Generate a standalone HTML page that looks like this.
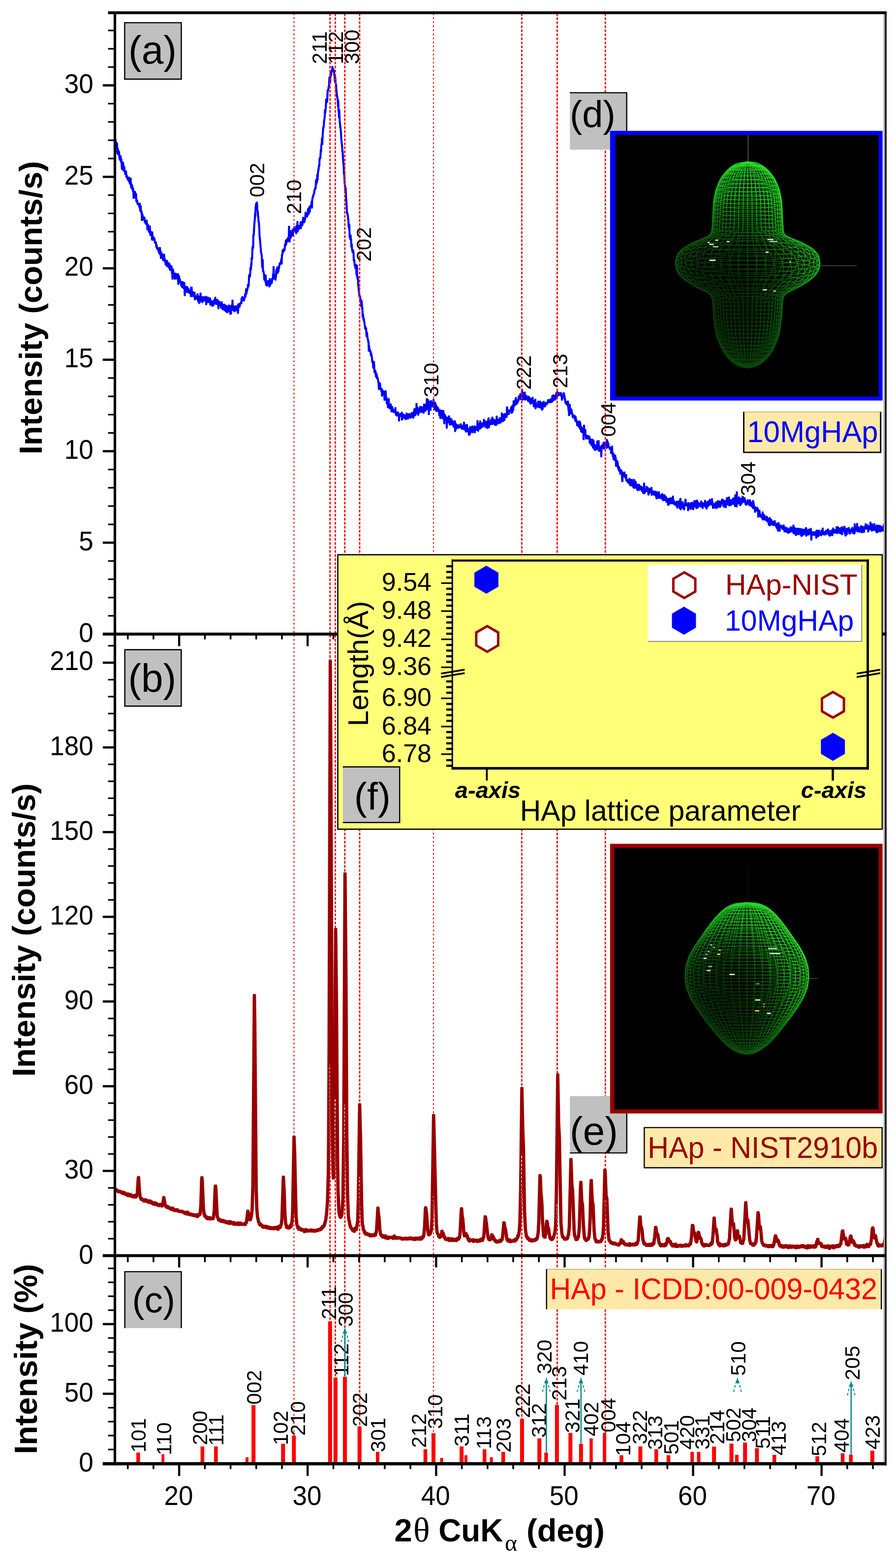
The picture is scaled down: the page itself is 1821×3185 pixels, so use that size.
<!DOCTYPE html>
<html lang="en">
<head>
<meta charset="utf-8">
<title>XRD patterns of 10MgHAp and HAp</title>
<style>
html,body{margin:0;padding:0;background:#fff;}
body{width:1821px;height:3185px;overflow:hidden;}
svg{display:block;}
text{font-family:'Liberation Sans', sans-serif;}
</style>
</head>
<body>
<svg width="1821" height="3185" viewBox="0 0 1821 3185">
<rect x="0" y="0" width="1821" height="3185" fill="#ffffff"/>
<defs><clipPath id="clip-a"><rect x="233.5" y="26" width="1565.5" height="1262"/></clipPath><clipPath id="clip-b"><rect x="233.5" y="1288" width="1565.5" height="1262.5"/></clipPath></defs>
<defs><polyline id="pa" points="233.5,278 234,290.7 234.5,283.2 235,287.5 235.5,290.2 236,289.5 236.5,288.8 237,299.1 237.5,299.6 238,291.6 238.5,311.3 239,307.2 239.5,301.7 240,313.8 240.5,306.3 241,309.7 241.5,314.9 242,308 242.5,317.4 243,322.6 243.5,323.9 244,318.8 244.5,325.6 245,316.6 245.5,324.5 246,328.7 246.5,322.7 247,329.5 247.5,338.6 248,343.8 248.5,337.4 249,338.9 249.5,329.1 250,332.8 250.5,333.2 251,344.6 251.5,347.5 252,339.9 252.5,338.7 253,346.2 253.5,347.6 254,347 254.5,354 255,349.5 255.5,350.8 256,347.7 256.5,354.1 257,360.4 257.5,356.2 258,357.4 258.5,360.1 259,360.7 259.5,364.9 260,364.2 260.5,365.7 261,361 261.5,366.8 262,360 262.5,369.1 263,363.8 263.5,370 264,373.5 264.5,371 265,374.4 265.5,362.1 266,372.8 266.5,380.5 267,373.9 267.5,382.7 268,375.3 268.5,378.6 269,379 269.5,384.8 270,388.2 270.5,382.7 271,387.6 271.5,402.6 272,389.5 272.5,388.6 273,394.8 273.5,393.5 274,392.7 274.5,389.4 275,401.6 275.5,397 276,400.7 276.5,393.5 277,408.7 277.5,407.7 278,409.9 278.5,406.6 279,410.4 279.5,413.4 280,415.3 280.5,413.6 281,413.3 281.5,413.4 282,413 282.5,413.4 283,420.3 283.5,419 284,413 284.5,422 285,428.4 285.5,424.1 286,418.7 286.5,427.3 287,432.4 287.5,431.2 288,429.8 288.5,447.6 289,442.1 289.5,435 290,440 290.5,439.5 291,442.3 291.5,446.3 292,444.9 292.5,443 293,441.1 293.5,441.7 294,446.2 294.5,452.3 295,449.9 295.5,450.1 296,452.2 296.5,452.4 297,455.8 297.5,450 298,447.6 298.5,455.3 299,453.5 299.5,466.3 300,460.1 300.5,460.9 301,456.6 301.5,465.4 302,462.8 302.5,471.2 303,471.1 303.5,465.4 304,471.4 304.5,459.3 305,468.9 305.5,477.9 306,477 306.5,475.4 307,475.5 307.5,470.7 308,471.9 308.5,479.6 309,487.1 309.5,471.5 310,484.3 310.5,487.4 311,487.6 311.5,481 312,483.4 312.5,486.8 313,483.3 313.5,483.5 314,485.9 314.5,490 315,493.2 315.5,492.5 316,493.9 316.5,491.7 317,492.6 317.5,501.3 318,497.4 318.5,498.3 319,503.5 319.5,505.8 320,506.9 320.5,504.3 321,503.4 321.5,505.8 322,506.4 322.5,512.5 323,508.8 323.5,511.3 324,509.5 324.5,516.4 325,503 325.5,514.2 326,516.8 326.5,509.7 327,524.6 327.5,516 328,516.9 328.5,514 329,523.2 329.5,521.3 330,516.5 330.5,523 331,525.7 331.5,528.7 332,525.3 332.5,521 333,523.4 333.5,516.8 334,524.1 334.5,531 335,530.5 335.5,528.8 336,527.3 336.5,537.4 337,532.6 337.5,535.9 338,534.5 338.5,530.7 339,540.8 339.5,529.7 340,530.6 340.5,534.5 341,534 341.5,535.4 342,535.9 342.5,543.3 343,540.1 343.5,542 344,534.6 344.5,538.4 345,547.2 345.5,538.3 346,549 346.5,540.4 347,546.7 347.5,542.6 348,547.6 348.5,540.3 349,547.1 349.5,555.9 350,548 350.5,566.6 351,549.1 351.5,546.8 352,552.7 352.5,551.4 353,561.2 353.5,558.1 354,560.1 354.5,558.5 355,566.9 355.5,560.6 356,560.2 356.5,555.2 357,555.5 357.5,560.8 358,564.9 358.5,566.1 359,558.2 359.5,565.1 360,564.4 360.5,559.5 361,567.1 361.5,556.1 362,567.5 362.5,577.4 363,559.6 363.5,568.6 364,561.2 364.5,566.7 365,573.7 365.5,566.9 366,571.8 366.5,571.2 367,571.8 367.5,574.9 368,576.8 368.5,580.6 369,579.7 369.5,574.5 370,583.5 370.5,583.4 371,572.3 371.5,582.2 372,583.5 372.5,584.7 373,585.6 373.5,576.3 374,581.2 374.5,574.2 375,582.7 375.5,600.1 376,587.4 376.5,588.6 377,583.4 377.5,581.9 378,582.2 378.5,587.8 379,584.4 379.5,585.7 380,593.7 380.5,582.6 381,584.5 381.5,588.4 382,590.7 382.5,591.1 383,586.3 383.5,593.5 384,592.7 384.5,595.2 385,589.6 385.5,595.6 386,595.9 386.5,592.6 387,594.8 387.5,593.7 388,602.1 388.5,583.7 389,591 389.5,583.9 390,596.2 390.5,595.3 391,596.8 391.5,601.9 392,592.4 392.5,596 393,598.1 393.5,595.2 394,602.2 394.5,602.3 395,598.3 395.5,594.2 396,608.7 396.5,604.3 397,604.4 397.5,603.3 398,603.2 398.5,607 399,603.6 399.5,601.2 400,607 400.5,604.4 401,601 401.5,597.2 402,609.4 402.5,607.2 403,613 403.5,602.6 404,601.8 404.5,606.7 405,616.1 405.5,607.7 406,607.1 406.5,613.3 407,602.4 407.5,595.7 408,602.6 408.5,604.5 409,607.5 409.5,610.3 410,607.8 410.5,612.6 411,602.9 411.5,614.5 412,603.2 412.5,611.7 413,603 413.5,608.5 414,607.5 414.5,609.6 415,610.8 415.5,607 416,607.8 416.5,609.3 417,603 417.5,605.6 418,602 418.5,609.1 419,618.6 419.5,612.6 420,606 420.5,606.9 421,614.1 421.5,608.2 422,603.7 422.5,606.3 423,606.4 423.5,606.7 424,614.1 424.5,611.7 425,605.3 425.5,609.5 426,607.1 426.5,606.9 427,605.8 427.5,619.5 428,611 428.5,614.8 429,616.1 429.5,610.9 430,614.8 430.5,614.9 431,613.7 431.5,621.9 432,614.1 432.5,612 433,615.7 433.5,620.6 434,617.3 434.5,611.2 435,609.7 435.5,609.5 436,610.7 436.5,615.1 437,617.1 437.5,604.1 438,613.7 438.5,609.2 439,616.9 439.5,618 440,611.1 440.5,612.7 441,610.9 441.5,616.8 442,608.7 442.5,611 443,613.2 443.5,621.6 444,626.8 444.5,617.2 445,612.2 445.5,618.1 446,614.4 446.5,620.3 447,614.1 447.5,617.5 448,619.3 448.5,621.9 449,619.7 449.5,625.7 450,621.2 450.5,613.4 451,625.2 451.5,620.5 452,619.2 452.5,628.6 453,618.4 453.5,623.2 454,620.1 454.5,629 455,620.7 455.5,624.8 456,618.2 456.5,630.2 457,619.9 457.5,628.4 458,629.5 458.5,630.2 459,632.9 459.5,620.5 460,627.3 460.5,626.4 461,627.8 461.5,635 462,626.9 462.5,623.2 463,626.4 463.5,633.5 464,622.3 464.5,627.8 465,619.8 465.5,632.5 466,621.1 466.5,626.7 467,627.2 467.5,628.8 468,638.2 468.5,634.8 469,623.9 469.5,637.2 470,623 470.5,620.1 471,621.6 471.5,629.4 472,629.9 472.5,609.9 473,629.3 473.5,626.2 474,630.2 474.5,625.5 475,630.8 475.5,629.3 476,621.9 476.5,632.8 477,627.5 477.5,629.6 478,631.7 478.5,622.2 479,625.9 479.5,622.6 480,621.9 480.5,626.7 481,626.7 481.5,630.5 482,630.2 482.5,623.8 483,619.9 483.5,636.2 484,631.2 484.5,621.1 485,617.1 485.5,618.6 486,621 486.5,623.9 487,622.6 487.5,619.8 488,616.3 488.5,617.5 489,614.9 489.5,615.9 490,614.5 490.5,616.6 491,605.8 491.5,610.4 492,611.3 492.5,602.9 493,610.6 493.5,606.2 494,607.1 494.5,607.8 495,607.1 495.5,604.8 496,610.8 496.5,605.9 497,605.3 497.5,603.8 498,598.8 498.5,596.8 499,602.8 499.5,596.7 500,589.5 500.5,586.6 501,596.4 501.5,590.2 502,591.4 502.5,587.6 503,586.3 503.5,585.1 504,578.2 504.5,580.7 505,582.2 505.5,578 506,564.7 506.5,558.4 507,560.2 507.5,561.4 508,562.3 508.5,556.2 509,543.4 509.5,546.8 510,548.2 510.5,535.1 511,539.8 511.5,523.7 512,525.9 512.5,525.1 513,503.9 513.5,501.8 514,499.3 514.5,503.9 515,476.3 515.5,479.5 516,471.8 516.5,462.2 517,454 517.5,448.8 518,443.4 518.5,432.9 519,438.5 519.5,420.9 520,418.6 520.5,413.9 521,412.6 521.5,413.9 522,410.9 522.5,415 523,426.7 523.5,428.8 524,429.4 524.5,441 525,440.5 525.5,451.1 526,450.6 526.5,458.1 527,465.5 527.5,480.5 528,482.4 528.5,489.8 529,493.9 529.5,500.4 530,506 530.5,512.6 531,515.1 531.5,515.4 532,520.5 532.5,533.3 533,543.7 533.5,539.1 534,527.8 534.5,551.4 535,549.7 535.5,551 536,554.7 536.5,555.7 537,567 537.5,568.7 538,558.9 538.5,564.1 539,568.8 539.5,573.2 540,559.1 540.5,574.7 541,579.3 541.5,572.1 542,574.1 542.5,580.5 543,578.8 543.5,570.7 544,571.6 544.5,572.2 545,570.4 545.5,576 546,573.6 546.5,575.6 547,578.1 547.5,582.4 548,575.4 548.5,566.3 549,579.6 549.5,572.8 550,577.7 550.5,570.3 551,572.9 551.5,570.4 552,570.2 552.5,575 553,566.1 553.5,568.9 554,568.4 554.5,565.2 555,556.8 555.5,566.9 556,541.9 556.5,557.7 557,559.6 557.5,564.4 558,565.5 558.5,564.7 559,563 559.5,558.3 560,568.7 560.5,557.3 561,562.4 561.5,547.6 562,552.1 562.5,552.7 563,554.1 563.5,542.8 564,555 564.5,554.3 565,551.8 565.5,544.7 566,551.2 566.5,541 567,545.3 567.5,539.4 568,537.8 568.5,534.8 569,534.2 569.5,537.2 570,536.8 570.5,535 571,531 571.5,528.2 572,525.5 572.5,535.9 573,518.3 573.5,515.9 574,517.1 574.5,508.3 575,512.7 575.5,511.9 576,506.3 576.5,506.7 577,510.6 577.5,505.2 578,505 578.5,507.5 579,499.1 579.5,495.3 580,498.5 580.5,498.9 581,488 581.5,496.9 582,491.3 582.5,489.4 583,486.1 583.5,487.6 584,491.1 584.5,488.1 585,488.3 585.5,482.3 586,489.7 586.5,487.6 587,481.4 587.5,459.8 588,480.4 588.5,491.1 589,478.6 589.5,473.9 590,484.7 590.5,474.3 591,478.3 591.5,481.6 592,468.7 592.5,474.7 593,478.5 593.5,471.5 594,475 594.5,471.3 595,479.1 595.5,478 596,465 596.5,467.9 597,471.7 597.5,465.4 598,461 598.5,465.8 599,465.7 599.5,463.7 600,467.6 600.5,469.2 601,468.7 601.5,468 602,474.4 602.5,458.8 603,463.7 603.5,464.7 604,465.7 604.5,450.3 605,470.8 605.5,458.8 606,463.3 606.5,465 607,466.1 607.5,458.3 608,458.6 608.5,462 609,462.4 609.5,463.3 610,458.6 610.5,455.3 611,452 611.5,464.2 612,450.3 612.5,458.3 613,455.8 613.5,457.1 614,457.1 614.5,458 615,451.3 615.5,452.5 616,441.9 616.5,449.5 617,444.7 617.5,447.2 618,452.2 618.5,446.7 619,450.1 619.5,443.8 620,445.5 620.5,441.2 621,431.4 621.5,438.2 622,439.1 622.5,439.9 623,438.3 623.5,436.7 624,440.3 624.5,437.9 625,432.6 625.5,437 626,424 626.5,430.1 627,429.6 627.5,434.6 628,425.6 628.5,420.4 629,425.9 629.5,430.7 630,421.1 630.5,419.9 631,417.6 631.5,416.9 632,420.3 632.5,421.2 633,413.1 633.5,408.8 634,422.3 634.5,406 635,404 635.5,400.4 636,398.7 636.5,399.1 637,395 637.5,396 638,392.7 638.5,392.7 639,386.8 639.5,385.5 640,385.4 640.5,382.6 641,380.6 641.5,382.9 642,371.1 642.5,365 643,373.6 643.5,366 644,370.8 644.5,361.8 645,354.3 645.5,365.4 646,354.9 646.5,348.1 647,343.5 647.5,345.6 648,336.7 648.5,337.4 649,336.7 649.5,321.9 650,320.7 650.5,321.2 651,321.8 651.5,314.4 652,304.3 652.5,308 653,296.1 653.5,292.6 654,290.6 654.5,280.2 655,293.4 655.5,281.1 656,272.6 656.5,264.8 657,257.8 657.5,259.6 658,256.4 658.5,247.2 659,243.4 659.5,242.1 660,235 660.5,223.2 661,229.5 661.5,223.5 662,221.4 662.5,211.1 663,201.4 663.5,201.2 664,204 664.5,207.8 665,205.4 665.5,193.3 666,182.5 666.5,183.9 667,183.9 667.5,180.6 668,176 668.5,178.1 669,165.7 669.5,157.4 670,160 670.5,156.1 671,167.7 671.5,155.1 672,147.4 672.5,153.7 673,153 673.5,146.6 674,144.9 674.5,146.1 675,141.8 675.5,135.3 676,140 676.5,141.4 677,139.5 677.5,143 678,143.8 678.5,142.9 679,146.6 679.5,153.4 680,152.2 680.5,163 681,167.1 681.5,157.2 682,169.3 682.5,170.3 683,172.3 683.5,182.5 684,184.6 684.5,191.7 685,194.8 685.5,199 686,198.3 686.5,204.4 687,216.4 687.5,204.4 688,226.7 688.5,222 689,238.6 689.5,223.4 690,237.7 690.5,248.4 691,250.9 691.5,260 692,257.7 692.5,264.7 693,270.1 693.5,280.8 694,286.6 694.5,290.2 695,294.7 695.5,301.8 696,309.5 696.5,307.8 697,321.4 697.5,327.3 698,332 698.5,338.3 699,353.3 699.5,351 700,361.8 700.5,372.4 701,376.3 701.5,379.9 702,390.7 702.5,381.6 703,394.1 703.5,403.7 704,410.3 704.5,416.3 705,430 705.5,434.3 706,431.8 706.5,437.7 707,437.3 707.5,446.9 708,444.4 708.5,460.2 709,456.3 709.5,464.9 710,456.1 710.5,481.4 711,476.5 711.5,485.8 712,481.3 712.5,477.5 713,484.4 713.5,485.8 714,501.1 714.5,495.3 715,498 715.5,506.9 716,508.6 716.5,512.6 717,511.3 717.5,507.9 718,513.3 718.5,512.4 719,529.5 719.5,530.5 720,527.6 720.5,534.3 721,539.6 721.5,539.4 722,541.5 722.5,545.5 723,544.7 723.5,537.7 724,538.2 724.5,558.2 725,558.5 725.5,539.2 726,563.4 726.5,562.5 727,567.6 727.5,562.8 728,580.7 728.5,580.9 729,588.5 729.5,593.2 730,597.6 730.5,602.6 731,600.2 731.5,603.1 732,602.6 732.5,610.5 733,609.3 733.5,609 734,621.8 734.5,622.6 735,611.1 735.5,617.3 736,627.1 736.5,625.1 737,643.4 737.5,637.2 738,641.6 738.5,646 739,650.5 739.5,646.5 740,653 740.5,654.2 741,659.2 741.5,660.9 742,667.3 742.5,666.2 743,664.5 743.5,669.6 744,666.9 744.5,675.7 745,683.3 745.5,677 746,675.2 746.5,684.4 747,685.2 747.5,690 748,690.1 748.5,695.5 749,693.5 749.5,712.9 750,701.9 750.5,707.5 751,711 751.5,709.5 752,714.3 752.5,712.7 753,713.2 753.5,717.8 754,722.8 754.5,717.4 755,720.9 755.5,723.4 756,726.4 756.5,735.7 757,732.7 757.5,733.5 758,737.4 758.5,747.4 759,737.6 759.5,747.1 760,734.9 760.5,743 761,754.8 761.5,757 762,753 762.5,752.1 763,759 763.5,755.4 764,765.2 764.5,765.1 765,764.9 765.5,759.6 766,768.7 766.5,765.1 767,766.7 767.5,767.4 768,770.1 768.5,774.2 769,777.2 769.5,778.7 770,791 770.5,776.7 771,784.6 771.5,778.4 772,781.8 772.5,779.2 773,790.7 773.5,789.2 774,788.8 774.5,789 775,794.6 775.5,789.7 776,796.4 776.5,804.5 777,794.3 777.5,793.3 778,792.7 778.5,801.4 779,799.2 779.5,796.8 780,797.5 780.5,802.1 781,795.3 781.5,812.8 782,804.2 782.5,805.2 783,806.6 783.5,793.8 784,797.7 784.5,808.5 785,810.9 785.5,806.8 786,820.2 786.5,816 787,820.5 787.5,820.9 788,815.9 788.5,828 789,819 789.5,811.3 790,810.1 790.5,820.7 791,825 791.5,822.3 792,829.9 792.5,822 793,826.3 793.5,827.6 794,820.8 794.5,827.1 795,828 795.5,836.2 796,832.9 796.5,832.6 797,825.8 797.5,832.8 798,834.8 798.5,831.1 799,834.8 799.5,835.5 800,837.9 800.5,833.8 801,836.2 801.5,835.6 802,836.2 802.5,833.3 803,834.9 803.5,828.1 804,836.4 804.5,840.5 805,843.2 805.5,841.4 806,838.1 806.5,844.7 807,837.3 807.5,842.7 808,841.6 808.5,837 809,837.5 809.5,843.9 810,841.2 810.5,842.5 811,854.6 811.5,844.4 812,842.8 812.5,845.7 813,840.4 813.5,842.1 814,845.4 814.5,840.5 815,844.1 815.5,843.7 816,845.3 816.5,837.7 817,852.9 817.5,845.4 818,848.3 818.5,841.9 819,841 819.5,846.7 820,845.4 820.5,849.5 821,842.9 821.5,842.6 822,848.1 822.5,849.6 823,850.5 823.5,846.4 824,847.6 824.5,843.1 825,851.9 825.5,851 826,850.8 826.5,839.4 827,849.8 827.5,842.9 828,848 828.5,847.7 829,850.9 829.5,844.5 830,844.2 830.5,841.4 831,840.6 831.5,847.9 832,841.6 832.5,848.1 833,843.7 833.5,842.8 834,849.2 834.5,848.6 835,840.7 835.5,844 836,844.5 836.5,847.1 837,838.4 837.5,841.9 838,842.9 838.5,845.9 839,846.3 839.5,840 840,849.2 840.5,843.3 841,837.8 841.5,834.2 842,838.3 842.5,830 843,840.4 843.5,841.6 844,844.2 844.5,840.6 845,830.9 845.5,836.5 846,840.3 846.5,819.9 847,833.2 847.5,838.9 848,836.1 848.5,827.1 849,833 849.5,834.8 850,843.1 850.5,832.2 851,829.8 851.5,834.3 852,834.3 852.5,834.9 853,838.2 853.5,831.6 854,825.8 854.5,831.3 855,831.2 855.5,834.6 856,833.7 856.5,826.7 857,832.7 857.5,837.3 858,828 858.5,832.4 859,828.8 859.5,828.6 860,826.9 860.5,830.5 861,838.8 861.5,827.4 862,821.2 862.5,824.8 863,823 863.5,826.5 864,824.3 864.5,835.2 865,827.5 865.5,831.9 866,820.9 866.5,822.8 867,832.1 867.5,810.2 868,823.8 868.5,816.5 869,829.3 869.5,811.6 870,821.2 870.5,821.6 871,815.1 871.5,841.9 872,821.1 872.5,828.6 873,818.6 873.5,815.2 874,822.1 874.5,821.8 875,833.1 875.5,816.3 876,814.1 876.5,817.7 877,822 877.5,825.5 878,817.9 878.5,819.8 879,823.9 879.5,826.6 880,819.9 880.5,823.4 881,811.6 881.5,819.6 882,825.9 882.5,824.4 883,824.1 883.5,832.1 884,824.5 884.5,817.5 885,827.4 885.5,827.8 886,822.6 886.5,832 887,835.4 887.5,826.1 888,825.4 888.5,829.2 889,835.2 889.5,828.1 890,828 890.5,829.1 891,833.2 891.5,833.7 892,832.2 892.5,839.1 893,844.1 893.5,832.8 894,840.3 894.5,837.7 895,849.8 895.5,834.1 896,837 896.5,839.5 897,833.7 897.5,839.4 898,843.9 898.5,835.5 899,842.7 899.5,850.3 900,840.9 900.5,840.3 901,834 901.5,844.9 902,839.1 902.5,848.9 903,860.5 903.5,850.2 904,842.3 904.5,851.8 905,847.6 905.5,845.4 906,848.5 906.5,852 907,849.9 907.5,854 908,869.4 908.5,855 909,858.9 909.5,847.9 910,859 910.5,855.1 911,858.2 911.5,851 912,855.5 912.5,845 913,853.6 913.5,851.9 914,851.5 914.5,863.3 915,849.9 915.5,856 916,856.3 916.5,859.5 917,861.8 917.5,851.1 918,855.9 918.5,855.5 919,861.7 919.5,863 920,857.6 920.5,857.3 921,855.7 921.5,861.8 922,867.5 922.5,862.4 923,858.2 923.5,857.9 924,858.7 924.5,855.1 925,876.2 925.5,862.9 926,860.2 926.5,872.5 927,864.3 927.5,869.8 928,864.9 928.5,868.6 929,864.5 929.5,862.9 930,866.3 930.5,867.8 931,869.6 931.5,866 932,863.4 932.5,864 933,867.1 933.5,863.9 934,864.8 934.5,868.7 935,869 935.5,868.9 936,863.8 936.5,861.1 937,868.5 937.5,868 938,866.2 938.5,868.8 939,871.7 939.5,867.5 940,870.2 940.5,864.6 941,868 941.5,865.7 942,863.3 942.5,871.4 943,857.8 943.5,869.7 944,873.4 944.5,872 945,864 945.5,872.7 946,863.2 946.5,867.3 947,877.2 947.5,871.9 948,876.3 948.5,866.8 949,862.7 949.5,868.3 950,876.8 950.5,875.3 951,875.9 951.5,870.8 952,871 952.5,870.6 953,883.6 953.5,871.8 954,878.8 954.5,870.7 955,882.5 955.5,866.9 956,869.3 956.5,872.9 957,869 957.5,869.7 958,870.8 958.5,869.2 959,878 959.5,876.2 960,865.6 960.5,878.7 961,871.3 961.5,871.3 962,870.8 962.5,875.1 963,874.3 963.5,869 964,871.3 964.5,865.5 965,878.6 965.5,867 966,866.6 966.5,867.1 967,870.4 967.5,872.8 968,867.9 968.5,869.2 969,867.4 969.5,874.1 970,869.3 970.5,854.7 971,874.1 971.5,870.4 972,875.5 972.5,864.6 973,864.8 973.5,865.9 974,860.5 974.5,864.6 975,871.2 975.5,868.6 976,855.3 976.5,870.6 977,866.4 977.5,868.1 978,864.6 978.5,865 979,864.2 979.5,864 980,859.2 980.5,867.8 981,864.1 981.5,864.7 982,864.4 982.5,860.5 983,862.3 983.5,852 984,863.5 984.5,863.5 985,860.4 985.5,854.8 986,867.5 986.5,861.1 987,861.6 987.5,860.2 988,858.9 988.5,859.6 989,856.5 989.5,858.6 990,869.6 990.5,865.8 991,869.1 991.5,857.9 992,852.5 992.5,854.6 993,849.1 993.5,868.9 994,865.1 994.5,860.3 995,861.3 995.5,861.1 996,858.9 996.5,862.4 997,854.9 997.5,857.1 998,858.2 998.5,851.6 999,854.3 999.5,862 1000,859.7 1000.5,847.7 1001,861.8 1001.5,859.3 1002,860.9 1002.5,857.2 1003,859.8 1003.5,851.8 1004,855.5 1004.5,852.4 1005,854.6 1005.5,861.5 1006,863.3 1006.5,856.7 1007,854.3 1007.5,859.3 1008,857.8 1008.5,863.8 1009,858.2 1009.5,845.6 1010,855.5 1010.5,852.7 1011,851.6 1011.5,855.4 1012,854.9 1012.5,853 1013,860.7 1013.5,855.8 1014,855.7 1014.5,854.6 1015,858.9 1015.5,848.9 1016,858.5 1016.5,852.2 1017,859.1 1017.5,858.6 1018,854.4 1018.5,850 1019,852.7 1019.5,852.6 1020,839.2 1020.5,848.9 1021,846.9 1021.5,855.1 1022,856.1 1022.5,845.5 1023,845.9 1023.5,842.1 1024,848.3 1024.5,850.2 1025,853.9 1025.5,840.5 1026,849.4 1026.5,844.4 1027,841.6 1027.5,842.7 1028,840.5 1028.5,845.1 1029,842.8 1029.5,847.4 1030,839.7 1030.5,826.8 1031,836.9 1031.5,842.1 1032,834 1032.5,836.6 1033,841.4 1033.5,832.9 1034,841.6 1034.5,838.9 1035,834.4 1035.5,836 1036,833.4 1036.5,833.1 1037,832.7 1037.5,833.4 1038,832.2 1038.5,828.8 1039,827.1 1039.5,839.1 1040,825.1 1040.5,828.4 1041,837.9 1041.5,831.7 1042,823.8 1042.5,834.5 1043,832.8 1043.5,823.4 1044,814.3 1044.5,825.9 1045,821.8 1045.5,820.6 1046,814.8 1046.5,817.9 1047,820.4 1047.5,822.8 1048,809.7 1048.5,807.8 1049,821.2 1049.5,813 1050,818.8 1050.5,815.8 1051,819.9 1051.5,817.9 1052,812.4 1052.5,812.3 1053,815 1053.5,814.9 1054,808.6 1054.5,804.3 1055,810.5 1055.5,809.2 1056,808.2 1056.5,804.1 1057,810.2 1057.5,799.9 1058,804.5 1058.5,811.4 1059,800.8 1059.5,806.8 1060,806.6 1060.5,806.2 1061,791 1061.5,812.3 1062,804.8 1062.5,806.4 1063,805.8 1063.5,805 1064,810 1064.5,811.1 1065,797.5 1065.5,802.3 1066,805 1066.5,796.8 1067,812.3 1067.5,803.1 1068,811.1 1068.5,807.7 1069,806.1 1069.5,803 1070,805.9 1070.5,808.1 1071,811.3 1071.5,807.4 1072,807 1072.5,807.9 1073,814.8 1073.5,810.9 1074,807.2 1074.5,805.1 1075,809.1 1075.5,807.4 1076,809.8 1076.5,817.6 1077,815.2 1077.5,813.6 1078,814.7 1078.5,820.6 1079,809 1079.5,816 1080,813 1080.5,815.5 1081,815.6 1081.5,814.3 1082,818.3 1082.5,807.3 1083,818 1083.5,820 1084,813.5 1084.5,813.8 1085,826.2 1085.5,814.9 1086,817.4 1086.5,816 1087,814.8 1087.5,817 1088,811.2 1088.5,830.2 1089,817.4 1089.5,822.2 1090,820.4 1090.5,826.4 1091,823.8 1091.5,825.8 1092,826.1 1092.5,824.8 1093,821.6 1093.5,825.4 1094,815 1094.5,825.5 1095,827.6 1095.5,823.3 1096,816.6 1096.5,827.9 1097,819.6 1097.5,825.2 1098,815 1098.5,822.1 1099,820.2 1099.5,819.8 1100,820.4 1100.5,830.7 1101,823.3 1101.5,825 1102,832.6 1102.5,817.7 1103,830.1 1103.5,822.1 1104,821 1104.5,821.7 1105,815.7 1105.5,816.6 1106,818 1106.5,820.1 1107,825.1 1107.5,826.3 1108,818.7 1108.5,822.7 1109,822.7 1109.5,819.6 1110,821.2 1110.5,817.5 1111,821.9 1111.5,818.4 1112,819.1 1112.5,819.7 1113,819 1113.5,815 1114,812.1 1114.5,817.1 1115,812.7 1115.5,814.6 1116,816 1116.5,813.2 1117,817.7 1117.5,817.2 1118,811.5 1118.5,816.4 1119,810.6 1119.5,817.2 1120,816.5 1120.5,813.5 1121,816.8 1121.5,817 1122,814.2 1122.5,804.2 1123,812 1123.5,811.9 1124,814 1124.5,802.4 1125,812.7 1125.5,810.8 1126,810.6 1126.5,803.3 1127,804.4 1127.5,812.3 1128,810.6 1128.5,806.4 1129,810.9 1129.5,807 1130,803.7 1130.5,798.4 1131,808.8 1131.5,803.6 1132,805.6 1132.5,795.8 1133,800.7 1133.5,803.8 1134,801.3 1134.5,799.1 1135,797.4 1135.5,802.9 1136,800.5 1136.5,799.5 1137,801.1 1137.5,799.8 1138,801.3 1138.5,800.3 1139,803.3 1139.5,797.6 1140,798.9 1140.5,803.8 1141,802.6 1141.5,804.7 1142,812.7 1142.5,807.6 1143,809.4 1143.5,806.7 1144,804.9 1144.5,802.5 1145,798.6 1145.5,801.1 1146,798 1146.5,803.9 1147,802.9 1147.5,806.4 1148,811.4 1148.5,810.7 1149,817.1 1149.5,818.2 1150,819.7 1150.5,820 1151,818.5 1151.5,816.3 1152,821.3 1152.5,819.4 1153,820.6 1153.5,824.1 1154,814.8 1154.5,817.6 1155,826.8 1155.5,833.8 1156,832 1156.5,844 1157,823.5 1157.5,827.6 1158,821.6 1158.5,828.5 1159,840.9 1159.5,840.6 1160,830.5 1160.5,834.3 1161,833.1 1161.5,831.8 1162,837.2 1162.5,837.8 1163,840.7 1163.5,842 1164,847.3 1164.5,848.3 1165,843.2 1165.5,843.5 1166,845.3 1166.5,848 1167,846.5 1167.5,843.8 1168,846.6 1168.5,852.7 1169,846.2 1169.5,854.8 1170,846.5 1170.5,855.7 1171,856.5 1171.5,853.2 1172,855.7 1172.5,855.7 1173,864.5 1173.5,856.5 1174,856.1 1174.5,861.5 1175,865.3 1175.5,862.9 1176,861.6 1176.5,867.2 1177,860.6 1177.5,861.2 1178,855.5 1178.5,871 1179,857.5 1179.5,862.1 1180,869.3 1180.5,870.7 1181,876.9 1181.5,872.2 1182,867.3 1182.5,877.7 1183,877.1 1183.5,878.3 1184,878.6 1184.5,879 1185,869.7 1185.5,872.1 1186,892.7 1186.5,878.3 1187,864.2 1187.5,879.7 1188,884.2 1188.5,882.6 1189,881.7 1189.5,872.8 1190,883.4 1190.5,883.3 1191,891.5 1191.5,885.3 1192,885.8 1192.5,884.8 1193,886.8 1193.5,889.2 1194,886.6 1194.5,885.8 1195,885 1195.5,891.3 1196,890 1196.5,890.8 1197,886.5 1197.5,890.2 1198,886.4 1198.5,898.9 1199,900.5 1199.5,898 1200,896.5 1200.5,899.6 1201,892.2 1201.5,893.5 1202,904.6 1202.5,896.1 1203,900.9 1203.5,899 1204,892.3 1204.5,900.3 1205,907.2 1205.5,909.9 1206,894.5 1206.5,899 1207,903.6 1207.5,910.6 1208,911.9 1208.5,913.8 1209,914.5 1209.5,906 1210,903.9 1210.5,912.1 1211,907.4 1211.5,908.9 1212,907.5 1212.5,907.6 1213,913.3 1213.5,905.5 1214,896.1 1214.5,907.3 1215,910.9 1215.5,909.4 1216,910.4 1216.5,895.4 1217,907.8 1217.5,916.1 1218,911 1218.5,906.3 1219,916.4 1219.5,909.3 1220,914.6 1220.5,912.1 1221,912.6 1221.5,914.8 1222,927.7 1222.5,914.9 1223,905.6 1223.5,904.1 1224,906.9 1224.5,907.1 1225,910.3 1225.5,907.1 1226,907.9 1226.5,898.9 1227,905.4 1227.5,907.4 1228,911.8 1228.5,907.6 1229,904.2 1229.5,898.5 1230,902.9 1230.5,902.5 1231,901.5 1231.5,902.7 1232,903.4 1232.5,903 1233,910.4 1233.5,893.2 1234,894.8 1234.5,903.4 1235,897.1 1235.5,902 1236,903.4 1236.5,901.1 1237,908.6 1237.5,908.8 1238,907.9 1238.5,910.3 1239,912.2 1239.5,908.1 1240,912.7 1240.5,911.6 1241,911.8 1241.5,910.7 1242,920.8 1242.5,915.7 1243,909.4 1243.5,918.4 1244,906.7 1244.5,919.6 1245,922.8 1245.5,926.8 1246,923 1246.5,920.5 1247,932.9 1247.5,930.4 1248,932.8 1248.5,927.7 1249,934.9 1249.5,924 1250,934.7 1250.5,925.2 1251,931.1 1251.5,930.6 1252,946.8 1252.5,943.2 1253,938.2 1253.5,947.2 1254,943.6 1254.5,936.3 1255,944.2 1255.5,939.8 1256,948.4 1256.5,951.8 1257,947.1 1257.5,954.5 1258,956.3 1258.5,949 1259,955.8 1259.5,953.8 1260,953.8 1260.5,962.8 1261,953.5 1261.5,955.7 1262,957.7 1262.5,961.1 1263,962.7 1263.5,956.3 1264,966.7 1264.5,976.1 1265,978.2 1265.5,963.9 1266,961.8 1266.5,960.2 1267,966.9 1267.5,965.9 1268,966.7 1268.5,965.1 1269,959.2 1269.5,968 1270,969.2 1270.5,969.2 1271,965.5 1271.5,971 1272,972.1 1272.5,964.1 1273,976.6 1273.5,974.2 1274,975.3 1274.5,976.8 1275,974.4 1275.5,975.4 1276,980.1 1276.5,979.5 1277,980.4 1277.5,976.2 1278,980.5 1278.5,982.3 1279,971.9 1279.5,976.4 1280,978.3 1280.5,978.7 1281,986.5 1281.5,984.3 1282,979 1282.5,979.4 1283,974.3 1283.5,976.3 1284,986.4 1284.5,973.8 1285,984 1285.5,978.7 1286,980.7 1286.5,981.8 1287,990.2 1287.5,984.3 1288,985.3 1288.5,987.7 1289,974.4 1289.5,991.9 1290,977.3 1290.5,981.6 1291,987.8 1291.5,980.1 1292,978.2 1292.5,990.7 1293,983.5 1293.5,990.4 1294,988.7 1294.5,986.2 1295,994.4 1295.5,986.4 1296,996.2 1296.5,984.2 1297,984 1297.5,985.6 1298,989.6 1298.5,984.1 1299,986.2 1299.5,995.4 1300,990.3 1300.5,994.6 1301,991.5 1301.5,987.7 1302,987.2 1302.5,991.4 1303,991.2 1303.5,988.9 1304,989 1304.5,997.6 1305,996.1 1305.5,993.2 1306,990.7 1306.5,990.6 1307,1001 1307.5,990.3 1308,1002.7 1308.5,990.5 1309,981.6 1309.5,1002.1 1310,993.4 1310.5,1000.5 1311,996.2 1311.5,993.5 1312,998.7 1312.5,993.7 1313,997 1313.5,994.8 1314,988.2 1314.5,997.5 1315,993.8 1315.5,995.6 1316,998.2 1316.5,990.7 1317,999.1 1317.5,999.5 1318,1005.4 1318.5,1001 1319,999.2 1319.5,995.2 1320,998 1320.5,992.5 1321,1000.3 1321.5,998 1322,997.5 1322.5,999.3 1323,1001.3 1323.5,1000.7 1324,990.4 1324.5,1005.7 1325,1000.5 1325.5,1002 1326,1000.8 1326.5,997.1 1327,1002.4 1327.5,999.9 1328,998.3 1328.5,1002.6 1329,1005.4 1329.5,1005.1 1330,1003.6 1330.5,1000.5 1331,1000.6 1331.5,1002.4 1332,997.8 1332.5,1007.4 1333,1004.7 1333.5,999.2 1334,1011 1334.5,1013.1 1335,999.9 1335.5,1004.8 1336,1002.3 1336.5,1009.2 1337,1000.6 1337.5,1008.6 1338,1008.4 1338.5,1011.6 1339,999.4 1339.5,1004.3 1340,1006.9 1340.5,1012 1341,1008.6 1341.5,1011.6 1342,1010.6 1342.5,1005.3 1343,1008.8 1343.5,1007.8 1344,1008.4 1344.5,1006.2 1345,1013.4 1345.5,1012.7 1346,1002.8 1346.5,1014 1347,1008.9 1347.5,1005.3 1348,1016.7 1348.5,1011.9 1349,1013.7 1349.5,1011.9 1350,1012.5 1350.5,1005.4 1351,1016.3 1351.5,1007.5 1352,1013.7 1352.5,1013.5 1353,1010 1353.5,1009.1 1354,1013.8 1354.5,1019.9 1355,1012.1 1355.5,1012.4 1356,1015.5 1356.5,1012.8 1357,1020.9 1357.5,1017.5 1358,1026.2 1358.5,1016.8 1359,1025.3 1359.5,1013.8 1360,1017.4 1360.5,1012.2 1361,1015.1 1361.5,1015.6 1362,1019.6 1362.5,1022.9 1363,1016.3 1363.5,1011.5 1364,1017.7 1364.5,1016.5 1365,1016 1365.5,1021.8 1366,1023.1 1366.5,1015.7 1367,1015.8 1367.5,1008.1 1368,1016.4 1368.5,1022.7 1369,1015.5 1369.5,1023.3 1370,1022.5 1370.5,1022.5 1371,1025.2 1371.5,1019.9 1372,1024.7 1372.5,1025 1373,1022.2 1373.5,1020.7 1374,1026.5 1374.5,1027.5 1375,1018.7 1375.5,1025 1376,1021.9 1376.5,1031.7 1377,1020.7 1377.5,1019.6 1378,1018.5 1378.5,1026.3 1379,1018.3 1379.5,1025.5 1380,1020.8 1380.5,1028.8 1381,1029.9 1381.5,1032.7 1382,1015.5 1382.5,1017.7 1383,1012.6 1383.5,1035.1 1384,1021.7 1384.5,1022.6 1385,1024.7 1385.5,1027.1 1386,1023.3 1386.5,1025 1387,1024.8 1387.5,1019.4 1388,1032.5 1388.5,1032.2 1389,1025 1389.5,1024.4 1390,1032.8 1390.5,1035.2 1391,1025.2 1391.5,1027.6 1392,1023.3 1392.5,1026.5 1393,1014.4 1393.5,1015.7 1394,1027 1394.5,1024.4 1395,1026.9 1395.5,1025.5 1396,1027.8 1396.5,1026.3 1397,1024.6 1397.5,1027.1 1398,1022.6 1398.5,1036.9 1399,1021.3 1399.5,1023.7 1400,1032.9 1400.5,1023.9 1401,1029.5 1401.5,1031.6 1402,1028.8 1402.5,1023.7 1403,1033.6 1403.5,1027.5 1404,1021.6 1404.5,1034.1 1405,1027.5 1405.5,1028.3 1406,1029.5 1406.5,1023.6 1407,1029.6 1407.5,1020.6 1408,1021.7 1408.5,1024.2 1409,1035 1409.5,1028.4 1410,1030.8 1410.5,1024.1 1411,1028.2 1411.5,1017.1 1412,1024.9 1412.5,1027.9 1413,1023.7 1413.5,1017.7 1414,1019.2 1414.5,1028.8 1415,1031.8 1415.5,1024.6 1416,1032.9 1416.5,1016.2 1417,1028.8 1417.5,1029 1418,1030.6 1418.5,1019.8 1419,1030.4 1419.5,1026.6 1420,1022.5 1420.5,1024.1 1421,1025.1 1421.5,1027.2 1422,1022.4 1422.5,1022.3 1423,1026.2 1423.5,1025.7 1424,1027.9 1424.5,1029.5 1425,1017.9 1425.5,1025.3 1426,1026.6 1426.5,1025.7 1427,1021 1427.5,1028.5 1428,1032.6 1428.5,1024.6 1429,1022 1429.5,1028.6 1430,1025.3 1430.5,1025.7 1431,1026.1 1431.5,1023.2 1432,1025 1432.5,1022 1433,1016.7 1433.5,1029.4 1434,1026.2 1434.5,1024.6 1435,1030.6 1435.5,1024.2 1436,1033.9 1436.5,1028.3 1437,1023.5 1437.5,1019.4 1438,1026.7 1438.5,1025.6 1439,1028.9 1439.5,1018.1 1440,1024.1 1440.5,1025.5 1441,1026 1441.5,1025.5 1442,1025.8 1442.5,1014.6 1443,1023.1 1443.5,1021.5 1444,1017.8 1444.5,1024.8 1445,1022.6 1445.5,1019.3 1446,1018.3 1446.5,1025.5 1447,1013.4 1447.5,1023.7 1448,1019.3 1448.5,1024.6 1449,1032.1 1449.5,1028.3 1450,1023.5 1450.5,1030.3 1451,1031.8 1451.5,1028 1452,1031.6 1452.5,1024.7 1453,1026.4 1453.5,1023.3 1454,1022 1454.5,1023.8 1455,1020.1 1455.5,1023 1456,1032.7 1456.5,1026.3 1457,1022.4 1457.5,1030.4 1458,1029.2 1458.5,1018.4 1459,1017.4 1459.5,1030.2 1460,1023.2 1460.5,1023.5 1461,1018.5 1461.5,1017.9 1462,1027.4 1462.5,1019 1463,1026.8 1463.5,1030.2 1464,1024.5 1464.5,1021.2 1465,1027.3 1465.5,1024.4 1466,1018.3 1466.5,1023 1467,1016.6 1467.5,1014.3 1468,1019.3 1468.5,1014.1 1469,1018.8 1469.5,1020.9 1470,1022.1 1470.5,1029.2 1471,1017.2 1471.5,1019.2 1472,1019.1 1472.5,1016.7 1473,1029.5 1473.5,1017.5 1474,1019.7 1474.5,1019.2 1475,1031 1475.5,1019.2 1476,1017.1 1476.5,1025.6 1477,1017.5 1477.5,1011.2 1478,1025 1478.5,1024 1479,1013.9 1479.5,1014.6 1480,1019.7 1480.5,1015.6 1481,1013.2 1481.5,1009.8 1482,1027.1 1482.5,1024 1483,1014.8 1483.5,1018.6 1484,1020 1484.5,1017.7 1485,1018.9 1485.5,1026.5 1486,1016.2 1486.5,1015.6 1487,1018.7 1487.5,1015.9 1488,1016.9 1488.5,1016.9 1489,1014.4 1489.5,1023.9 1490,1013 1490.5,1024.3 1491,1011.4 1491.5,1014.6 1492,1019.6 1492.5,1017.3 1493,1022.1 1493.5,1021.3 1494,1028.3 1494.5,1005.6 1495,1013.8 1495.5,1018.1 1496,1017.3 1496.5,1018 1497,1029.3 1497.5,999.4 1498,1021 1498.5,1017.1 1499,1018.1 1499.5,1022.7 1500,1017.7 1500.5,1021.4 1501,1023.5 1501.5,1023 1502,1009.8 1502.5,1012.2 1503,1012.1 1503.5,1014.3 1504,1016.8 1504.5,1026.6 1505,1014.8 1505.5,1016.3 1506,1016.8 1506.5,1024 1507,1012.6 1507.5,1019.4 1508,1021 1508.5,1019.9 1509,1008.7 1509.5,1011.8 1510,1020.4 1510.5,1009.9 1511,1016.7 1511.5,1011.2 1512,1019.6 1512.5,1017.8 1513,1011.4 1513.5,1017.2 1514,1013.8 1514.5,1016.2 1515,1024.2 1515.5,1020.1 1516,1020.5 1516.5,1025.8 1517,1019.8 1517.5,1025.1 1518,1021.3 1518.5,1020.9 1519,1018.4 1519.5,1016.5 1520,1015.8 1520.5,1016.4 1521,1022.8 1521.5,1022.4 1522,1017.2 1522.5,1026.3 1523,1018.4 1523.5,1019.6 1524,1015.5 1524.5,1018 1525,1025.6 1525.5,1024.1 1526,1019.8 1526.5,1028.2 1527,1023.1 1527.5,1024.2 1528,1028.9 1528.5,1026.9 1529,1024.1 1529.5,1021.5 1530,1032.2 1530.5,1017.1 1531,1025.1 1531.5,1020.8 1532,1026.4 1532.5,1033.1 1533,1028.6 1533.5,1028.8 1534,1030.9 1534.5,1040.1 1535,1038.2 1535.5,1033.8 1536,1030.7 1536.5,1032.3 1537,1036.9 1537.5,1034.1 1538,1035.2 1538.5,1031.8 1539,1031 1539.5,1032.7 1540,1039 1540.5,1034.6 1541,1049.9 1541.5,1042 1542,1042.9 1542.5,1044.9 1543,1036.7 1543.5,1036.6 1544,1041.1 1544.5,1045 1545,1045.3 1545.5,1050.3 1546,1049.7 1546.5,1048.7 1547,1049.5 1547.5,1046.2 1548,1049.2 1548.5,1044.8 1549,1044.6 1549.5,1054.5 1550,1040.2 1550.5,1053.6 1551,1056 1551.5,1046.5 1552,1052.2 1552.5,1050.1 1553,1045.7 1553.5,1051.8 1554,1052.9 1554.5,1055.4 1555,1050.1 1555.5,1052.5 1556,1049.7 1556.5,1057 1557,1052.7 1557.5,1057.2 1558,1048.8 1558.5,1054.8 1559,1050.9 1559.5,1052 1560,1060.2 1560.5,1055.2 1561,1055.9 1561.5,1059.8 1562,1053.7 1562.5,1065.7 1563,1054.5 1563.5,1056.5 1564,1067.7 1564.5,1051.5 1565,1066.6 1565.5,1061.1 1566,1061.9 1566.5,1055.6 1567,1061 1567.5,1055.2 1568,1065.1 1568.5,1059.5 1569,1058.7 1569.5,1059.7 1570,1061.4 1570.5,1066.5 1571,1064.2 1571.5,1059.7 1572,1059.5 1572.5,1059.1 1573,1067.2 1573.5,1066.1 1574,1059.7 1574.5,1057.8 1575,1064.7 1575.5,1062.8 1576,1067.7 1576.5,1065.3 1577,1067.7 1577.5,1069.8 1578,1071.1 1578.5,1066.1 1579,1073.1 1579.5,1065.1 1580,1062.8 1580.5,1069.1 1581,1078.2 1581.5,1074.7 1582,1068.7 1582.5,1062 1583,1070.9 1583.5,1068.8 1584,1072.6 1584.5,1078.8 1585,1068.5 1585.5,1067.5 1586,1069 1586.5,1068 1587,1066.8 1587.5,1072 1588,1068.2 1588.5,1070.2 1589,1070.2 1589.5,1069.2 1590,1074.4 1590.5,1070.1 1591,1071.8 1591.5,1075.7 1592,1071.9 1592.5,1066.5 1593,1070.8 1593.5,1070.9 1594,1075.7 1594.5,1080.2 1595,1074.2 1595.5,1073 1596,1079.8 1596.5,1070.9 1597,1075.3 1597.5,1076.2 1598,1074.1 1598.5,1073.7 1599,1075.4 1599.5,1081.1 1600,1077.3 1600.5,1072.6 1601,1076.5 1601.5,1079.5 1602,1083 1602.5,1079.1 1603,1076.7 1603.5,1081.8 1604,1079.9 1604.5,1077 1605,1073.7 1605.5,1077 1606,1080.8 1606.5,1072.5 1607,1070.5 1607.5,1079.4 1608,1071 1608.5,1072.2 1609,1076.9 1609.5,1076.9 1610,1078.3 1610.5,1078.9 1611,1080.5 1611.5,1078 1612,1075.1 1612.5,1066.9 1613,1084 1613.5,1082.1 1614,1081.5 1614.5,1078.9 1615,1071.8 1615.5,1081.1 1616,1078.8 1616.5,1073.5 1617,1087.1 1617.5,1073.3 1618,1077.5 1618.5,1086.7 1619,1076 1619.5,1080.1 1620,1083.9 1620.5,1079.5 1621,1073.6 1621.5,1077.5 1622,1079.4 1622.5,1073.4 1623,1085.7 1623.5,1081.1 1624,1082.8 1624.5,1081 1625,1081.5 1625.5,1078.4 1626,1073.8 1626.5,1082.8 1627,1080.2 1627.5,1086.7 1628,1075.3 1628.5,1080.9 1629,1089.3 1629.5,1074.7 1630,1075.4 1630.5,1081.3 1631,1087.5 1631.5,1075.5 1632,1080.8 1632.5,1079.8 1633,1078.3 1633.5,1079.6 1634,1085.8 1634.5,1081.3 1635,1075.3 1635.5,1078.2 1636,1081.3 1636.5,1075 1637,1078.1 1637.5,1079.3 1638,1072.2 1638.5,1088.8 1639,1074.4 1639.5,1081.2 1640,1080.5 1640.5,1078.7 1641,1086.4 1641.5,1081.6 1642,1077.9 1642.5,1086.4 1643,1083.8 1643.5,1077.2 1644,1075.2 1644.5,1085.4 1645,1080.1 1645.5,1075.6 1646,1084.1 1646.5,1075.8 1647,1079 1647.5,1078.5 1648,1073.7 1648.5,1084.9 1649,1096.8 1649.5,1084.9 1650,1083.9 1650.5,1081.2 1651,1082 1651.5,1083.5 1652,1087 1652.5,1080.4 1653,1082.7 1653.5,1081.7 1654,1084.9 1654.5,1086.5 1655,1087.2 1655.5,1080.7 1656,1080.6 1656.5,1085.5 1657,1081.5 1657.5,1081.7 1658,1084.5 1658.5,1084.1 1659,1092.9 1659.5,1077.4 1660,1087.2 1660.5,1080.5 1661,1085.3 1661.5,1077 1662,1081.2 1662.5,1079.8 1663,1089.9 1663.5,1078.4 1664,1087.2 1664.5,1079 1665,1077.6 1665.5,1083.6 1666,1086.7 1666.5,1082 1667,1084.8 1667.5,1083.2 1668,1081.9 1668.5,1088 1669,1082.2 1669.5,1085.8 1670,1077.2 1670.5,1080.5 1671,1086 1671.5,1080.1 1672,1073 1672.5,1085.2 1673,1084.4 1673.5,1080.8 1674,1082.4 1674.5,1080.5 1675,1083.5 1675.5,1086.5 1676,1083.2 1676.5,1081.5 1677,1079.8 1677.5,1081.1 1678,1079.6 1678.5,1085.8 1679,1077.3 1679.5,1079.2 1680,1083.1 1680.5,1083.1 1681,1082.7 1681.5,1079.8 1682,1082.4 1682.5,1075.5 1683,1075 1683.5,1076 1684,1082.9 1684.5,1087 1685,1079.4 1685.5,1078.8 1686,1079.9 1686.5,1088.7 1687,1081.9 1687.5,1081.4 1688,1078.5 1688.5,1082.9 1689,1086.2 1689.5,1081.5 1690,1077.2 1690.5,1086.1 1691,1080.4 1691.5,1087.9 1692,1075.9 1692.5,1079.7 1693,1081.3 1693.5,1072.8 1694,1080.5 1694.5,1082.6 1695,1079.4 1695.5,1081.7 1696,1080.5 1696.5,1076.2 1697,1082.7 1697.5,1076.4 1698,1078.2 1698.5,1076.3 1699,1082 1699.5,1077.3 1700,1077.2 1700.5,1070.1 1701,1077.9 1701.5,1083.1 1702,1070.1 1702.5,1080.3 1703,1078.6 1703.5,1071.4 1704,1075.3 1704.5,1082.5 1705,1078.4 1705.5,1079.8 1706,1082.9 1706.5,1076.9 1707,1081.8 1707.5,1072.9 1708,1074.4 1708.5,1084 1709,1083.6 1709.5,1081.7 1710,1071.5 1710.5,1076.8 1711,1070.7 1711.5,1085.6 1712,1071.9 1712.5,1072.1 1713,1074.9 1713.5,1078.7 1714,1074.8 1714.5,1075.9 1715,1078.4 1715.5,1077.2 1716,1069.2 1716.5,1071.7 1717,1083.8 1717.5,1077.1 1718,1084.4 1718.5,1088.5 1719,1081.4 1719.5,1077 1720,1083.1 1720.5,1073.3 1721,1086 1721.5,1079.1 1722,1079.1 1722.5,1073.8 1723,1074.2 1723.5,1075.5 1724,1074.3 1724.5,1072.8 1725,1071.9 1725.5,1078.3 1726,1081.3 1726.5,1084.5 1727,1079.5 1727.5,1075.8 1728,1078.8 1728.5,1083.3 1729,1076.8 1729.5,1080.4 1730,1077.7 1730.5,1076.7 1731,1073.7 1731.5,1079 1732,1072.5 1732.5,1071.8 1733,1077.3 1733.5,1079.9 1734,1083.6 1734.5,1079.3 1735,1074.4 1735.5,1075.1 1736,1080.3 1736.5,1084.1 1737,1064.3 1737.5,1080.5 1738,1076.3 1738.5,1075.1 1739,1072.3 1739.5,1072.6 1740,1070.2 1740.5,1076.3 1741,1071.1 1741.5,1074.3 1742,1063.6 1742.5,1079.9 1743,1077.7 1743.5,1070 1744,1076.7 1744.5,1073.1 1745,1071.1 1745.5,1074.9 1746,1078.1 1746.5,1080.8 1747,1075.6 1747.5,1079.3 1748,1077.2 1748.5,1077.2 1749,1078.4 1749.5,1068.6 1750,1072.6 1750.5,1080.4 1751,1068.5 1751.5,1070.6 1752,1081.9 1752.5,1069.7 1753,1074.4 1753.5,1075 1754,1072.6 1754.5,1077.6 1755,1077.3 1755.5,1070.7 1756,1080.9 1756.5,1070.1 1757,1071.6 1757.5,1072.9 1758,1074.3 1758.5,1068.8 1759,1074.4 1759.5,1064.1 1760,1071.2 1760.5,1069.5 1761,1070.2 1761.5,1072.5 1762,1074.1 1762.5,1069.9 1763,1073.1 1763.5,1066.7 1764,1071.4 1764.5,1080.2 1765,1070 1765.5,1071.6 1766,1072.7 1766.5,1076.2 1767,1074.3 1767.5,1072.1 1768,1068.6 1768.5,1073.7 1769,1060.8 1769.5,1074.4 1770,1069.6 1770.5,1075.3 1771,1072.4 1771.5,1078.2 1772,1069.9 1772.5,1064.4 1773,1072.7 1773.5,1070.5 1774,1072.1 1774.5,1077.4 1775,1068.7 1775.5,1075.2 1776,1076.1 1776.5,1076.9 1777,1064.2 1777.5,1073 1778,1069.5 1778.5,1071.4 1779,1069 1779.5,1071 1780,1076.2 1780.5,1079.4 1781,1075.2 1781.5,1067.2 1782,1081.9 1782.5,1067.2 1783,1070.7 1783.5,1080.9 1784,1069.8 1784.5,1075.2 1785,1071.1 1785.5,1067.4 1786,1073.1 1786.5,1070 1787,1079.4 1787.5,1079.7 1788,1078.6 1788.5,1067.9 1789,1079.9 1789.5,1073.4 1790,1074.2 1790.5,1072.9 1791,1069.8 1791.5,1072.6 1792,1075.7 1792.5,1078.4 1793,1074.4 1793.5,1072 1794,1070 1794.5,1070.7 1795,1078.7 1795.5,1074.8 1796,1072.9 1796.5,1065.1 1797,1064.6 1797.5,1074.7 1798,1074.5 1798.5,1076.5 1799,1072.7" fill="none" stroke-width="2.7" stroke-linejoin="round"/></defs>
<g id="curve-a" clip-path="url(#clip-a)" stroke="#0000ff"><use href="#pa" transform="translate(-0.7 0)"/><use href="#pa" transform="translate(0.7 0)"/></g>
<g id="reflines-a" stroke="#ff0000" fill="none">
<line x1="597.4" y1="27" x2="597.4" y2="1288" stroke-width="2.2" stroke-dasharray="3.4 4.8" stroke-dashoffset="0"/>
<line x1="670.8" y1="27" x2="670.8" y2="1288" stroke-width="2.8" stroke-dasharray="5.2 3" stroke-dashoffset="0"/>
<line x1="681.5" y1="27" x2="681.5" y2="1288" stroke-width="2.8" stroke-dasharray="5.2 3" stroke-dashoffset="0"/>
<line x1="700.8" y1="27" x2="700.8" y2="1288" stroke-width="2.8" stroke-dasharray="5.2 3" stroke-dashoffset="0"/>
<line x1="730.9" y1="27" x2="730.9" y2="1288" stroke-width="2.8" stroke-dasharray="5.2 3" stroke-dashoffset="0"/>
<line x1="881" y1="27" x2="881" y2="1288" stroke-width="2.2" stroke-dasharray="3.4 4.8" stroke-dashoffset="0"/>
<line x1="1060.4" y1="27" x2="1060.4" y2="1288" stroke-width="2.8" stroke-dasharray="5.2 3" stroke-dashoffset="0"/>
<line x1="1132.4" y1="27" x2="1132.4" y2="1288" stroke-width="2.8" stroke-dasharray="5.2 3" stroke-dashoffset="0"/>
<line x1="1230.3" y1="27" x2="1230.3" y2="1288" stroke-width="2.8" stroke-dasharray="5.2 3" stroke-dashoffset="0"/>
</g>
<g id="reflines-bc" stroke="#ff0000" fill="none">
<line x1="597.4" y1="1288" x2="597.4" y2="2971" stroke-width="2.2" stroke-dasharray="3.4 4.8" stroke-dashoffset="6.4"/>
<line x1="670.8" y1="1288" x2="670.8" y2="2971" stroke-width="2.8" stroke-dasharray="5.2 3" stroke-dashoffset="6.4"/>
<line x1="681.5" y1="1288" x2="681.5" y2="2971" stroke-width="2.8" stroke-dasharray="5.2 3" stroke-dashoffset="6.4"/>
<line x1="700.8" y1="1288" x2="700.8" y2="2971" stroke-width="2.8" stroke-dasharray="5.2 3" stroke-dashoffset="6.4"/>
<line x1="730.9" y1="1288" x2="730.9" y2="2971" stroke-width="2.8" stroke-dasharray="5.2 3" stroke-dashoffset="6.4"/>
<line x1="881" y1="1288" x2="881" y2="2971" stroke-width="2.2" stroke-dasharray="3.4 4.8" stroke-dashoffset="6.4"/>
<line x1="1060.4" y1="1288" x2="1060.4" y2="2971" stroke-width="2.8" stroke-dasharray="5.2 3" stroke-dashoffset="6.4"/>
<line x1="1132.4" y1="1288" x2="1132.4" y2="2971" stroke-width="2.8" stroke-dasharray="5.2 3" stroke-dashoffset="6.4"/>
<line x1="1230.3" y1="1288" x2="1230.3" y2="2971" stroke-width="2.8" stroke-dasharray="5.2 3" stroke-dashoffset="6.4"/>
</g>
<defs><polyline id="pb" points="233.2,2416.4 233.5,2418.3 234,2416.8 234.3,2418.2 234.6,2416.6 235.1,2417.7 235.5,2415.1 236,2419.1 236.3,2418.3 237,2418.6 237.4,2416.9 238.1,2419.9 238.2,2419.3 238.4,2420.1 238.8,2418.6 239.2,2420 239.8,2419.3 240.7,2421.8 240.9,2420.6 241.3,2421.5 241.5,2420.1 242.1,2421 242.4,2418.5 242.9,2421.4 243.4,2419.4 244.2,2421.6 244.9,2419.9 245.1,2421.5 245.6,2420.9 245.9,2422.8 246,2422.3 246.7,2423.2 247.3,2420.5 248.4,2424 249,2421.8 249.8,2423 250,2421.6 250.4,2425.4 251.1,2421.6 251.4,2422.4 251.8,2421.2 252,2423 252.8,2424.3 253.4,2422.8 255.1,2426.9 255.3,2426 255.6,2425.8 255.9,2426.4 256.4,2425.6 256.9,2427.7 257.5,2424.3 258,2428.1 258.3,2426.6 258.7,2427.4 259.5,2424.1 260.5,2429.5 260.9,2427.3 261.1,2428.1 261.6,2427 262.3,2428 262.8,2426.5 263.1,2427.7 263.4,2425.5 263.9,2428.4 264.4,2427 265,2430 265.9,2426 266.4,2430.1 266.9,2428.9 267,2430.1 267.2,2429.1 267.7,2430.4 267.8,2428.9 268.3,2428.8 268.9,2430.9 269.4,2428.2 269.7,2431.7 270.2,2430.3 270.5,2431.9 271,2428.7 271.4,2430.9 271.7,2431.5 272.1,2430.7 272.5,2432.2 273.5,2427.2 273.9,2430.7 274.1,2430.1 274.6,2431.8 274.7,2430.8 275.2,2432.1 275.5,2430.2 276,2432.3 276.6,2427.7 277.2,2430.7 278,2425.7 278.5,2426.1 278.9,2423.9 280.7,2394.6 281.5,2390.9 283,2415.7 284.4,2429.1 285.4,2433.9 285.8,2433.3 286.3,2435.1 286.5,2434.2 286.9,2436.5 287.2,2434.4 287.9,2436.1 288,2433.9 288.5,2437.7 288.8,2436.2 289.3,2438.2 290.2,2436 290.5,2437.1 291.2,2436.7 291.6,2438.5 292.4,2436.7 293.2,2440.8 293.7,2437.1 294.1,2439 294.6,2436 294.9,2439.1 295.9,2437.4 297,2439.8 297.4,2437.2 297.9,2438 298.2,2436.9 299.3,2441.7 299.8,2440.7 300.1,2441.8 300.6,2440.2 301.5,2441.5 301.7,2440.1 302.1,2443.1 302.6,2441.4 303.1,2443.1 303.5,2440.6 304.2,2442.5 304.6,2438.5 305,2441.5 305.3,2441.9 305.4,2441 305.7,2442.1 305.9,2441.3 306,2443.4 307,2440.7 307.3,2441.7 307.8,2440.6 308.4,2444.6 309.5,2442.8 310,2442.9 310.3,2444.9 311.2,2443.9 311.5,2446.6 312.2,2444.3 312.3,2445.5 312.9,2445.4 313.1,2446.2 313.9,2442 314.3,2447.3 314.8,2444 315,2444.5 315.4,2444 316.5,2447.6 317.2,2443.2 317.8,2444.3 318.1,2447.6 318.4,2447.8 319,2445.8 319.5,2446.7 320,2446.2 320.1,2447.4 320.8,2447.3 321.1,2446.3 321.4,2449.1 321.9,2449.5 322.8,2446.5 323.3,2447.4 323.7,2446.2 324.2,2450.1 324.8,2445.5 325.6,2449.4 326.3,2446.6 326.9,2449.5 327.8,2446.4 328.3,2449.7 328.9,2446.7 329.4,2450.6 329.9,2445.9 330.2,2447.8 330.6,2443.8 331,2444.1 332.7,2431.8 335.7,2447.9 336.1,2448.7 336.3,2448.1 336.8,2451.1 337.1,2449.6 337.2,2450.1 337.5,2449.6 337.8,2450.9 338.3,2451 338.5,2452.7 338.9,2451.1 339.4,2452.2 339.9,2449.5 340,2451.8 340.2,2450.6 340.5,2451.1 341.1,2454.2 341.8,2451 342.2,2453.1 342.7,2452.4 343.2,2454 343.6,2452.7 344,2455.1 344.6,2452.7 345.1,2453.9 345.4,2453.7 345.5,2455.3 346,2453.3 346.2,2454.7 346.6,2453.5 347.1,2456.3 347.7,2453.9 348.5,2457.7 349.4,2454.9 349.9,2456.5 350.2,2453 351,2457 351.3,2456 351.9,2458.6 352.4,2455.3 352.9,2458.1 353.2,2456.5 353.7,2458.8 354,2456.5 354.5,2457.7 354.6,2456.8 354.8,2457.5 355.1,2456.7 355.9,2460 356.8,2456.8 357.7,2459.9 358.1,2457.9 358.5,2459.3 358.8,2456.9 359.2,2458.4 359.5,2456.4 360.3,2458.2 360.4,2456.6 361.3,2460.8 361.8,2459.7 362.3,2460.2 362.8,2458.5 364.5,2461.5 365,2459.7 365.1,2461.2 365.4,2459.9 365.9,2460.7 366,2459.8 366.7,2462 367.1,2459.5 367.5,2460.7 367.6,2459.3 367.8,2460.2 368.4,2459.7 369,2462 369.5,2459.9 369.7,2461.9 370.1,2459.6 370.9,2461.7 371.2,2461.1 371.5,2463 372,2461.7 372.5,2463.5 373.1,2461.3 373.7,2464.3 374.5,2462.3 375,2464 375.6,2461.7 376.5,2465.5 377,2463.1 377.2,2465 377.3,2463.7 378,2466.6 378.6,2463 379.1,2464.8 379.2,2463.4 379.7,2465.1 380.5,2462.9 380.6,2463.7 380.9,2461.3 381.4,2466.9 381.6,2464.9 382.2,2467.2 382.7,2464 383.1,2467 383.6,2466 384.1,2466.7 384.2,2466.1 385.2,2467.4 385.6,2464.7 386.3,2468 386.7,2465.5 387,2467.2 387.5,2466 388.1,2468.4 388.6,2465.3 389.1,2468 389.5,2465.8 390.5,2468.6 391.1,2467.3 391.4,2469 391.7,2468 392.2,2469.5 392.7,2466.2 393.1,2469.5 393.6,2467.1 394.1,2469.7 394.9,2467.3 395.7,2470.5 396,2468.9 396.3,2470.2 396.4,2468.7 396.6,2469.1 396.8,2468.5 396.9,2469.5 397.2,2467.5 397.5,2468.1 397.8,2467.8 398.2,2470.9 399.1,2466.8 399.6,2469.7 400.5,2466.7 401.3,2472 401.8,2467.2 402.2,2469.9 403,2468 403.8,2469.2 404,2467.5 404.3,2467.1 404.4,2467.6 404.6,2466.7 404.9,2467.9 405.2,2467.2 405.7,2468.1 406.2,2463.7 406.6,2465.6 406.9,2463.6 408.2,2445.5 409.6,2398.5 410.2,2391.2 411,2399.8 413.5,2459 413.8,2459.5 414,2458.8 414.8,2467.5 415.1,2465.8 415.2,2466.6 415.4,2465.8 415.7,2466.6 416,2471.1 417,2470.5 417.1,2471.6 417.7,2470.1 417.9,2471.1 418.4,2470.4 419.3,2474.8 419.9,2472.4 420.4,2475.4 421,2471.8 421.7,2475.2 422.3,2474 422.8,2476.6 423.5,2473.7 423.7,2475.1 424,2475.3 424.3,2474.1 425,2475.3 425.4,2475.1 425.9,2472.5 426.7,2476.9 427,2476.2 427.1,2476.9 427.9,2476 428.4,2474.5 429,2476.2 429.5,2474 430.1,2474.8 430.6,2474.3 430.7,2474.7 431.2,2473.8 431.7,2475.1 431.8,2474.1 432.3,2476.6 432.8,2472.7 432.9,2473.5 433.3,2471.9 433.7,2473.7 435.4,2456.8 437.2,2412.6 437.8,2408.3 438.6,2415.5 441.1,2467.2 442,2473.4 442.5,2473.1 442.8,2475.2 443.8,2475.5 444.2,2478.7 444.5,2475.1 445,2477.9 445.5,2477.6 445.9,2479.5 446.7,2476.9 447.2,2479.2 448,2480.8 448.1,2479.5 448.8,2481.6 448.9,2479.8 449.4,2480.5 449.9,2479.5 450,2479.8 450.5,2477.9 451.3,2481.6 452.1,2477.9 452.8,2482.2 453.3,2479.7 453.6,2481.5 454.1,2479 454.6,2482.3 454.9,2482.6 455.2,2480.5 455.5,2481.6 456,2480.8 456.4,2482.9 457.7,2479.8 458.2,2483.2 458.3,2480.8 459.3,2482.5 459.6,2480.5 460,2484.3 460.2,2482.3 460.4,2482.9 460.7,2482.7 461.3,2481.2 461.8,2483.4 462.4,2481.8 463,2484.6 463.5,2482.4 463.8,2482.2 464.1,2483.7 464.6,2480.7 465.1,2486 465.4,2482.7 465.8,2485.5 466.8,2482.5 467.3,2484.7 467.7,2480.5 468.7,2485.7 469.1,2483.2 469.3,2485 469.4,2483.7 470.1,2484.7 470.5,2483.1 471.9,2485.6 472.3,2483 472.6,2486 473,2483.8 474.3,2486.8 474.8,2482.3 475.6,2487.7 476,2485.5 476.8,2486.5 477.7,2483.7 479,2486.1 479.3,2484.3 479.8,2487.7 480.3,2485.3 480.4,2487.8 480.9,2484.5 481.2,2486.1 481.7,2485.5 482.3,2486.2 483.1,2485 483.2,2483.5 484.2,2487.4 484.6,2483.5 485,2484.1 485.1,2483.6 485.6,2488.2 486.4,2484.2 487,2487.8 487.3,2486.2 487.8,2487.2 488.4,2483.5 488.9,2486.6 489.5,2485.4 490.3,2487.4 490.7,2486.5 490.9,2487.5 491.4,2487 491.8,2487.9 492.2,2485.5 492.5,2486.8 492.9,2485.8 493.1,2487 493.6,2486.4 493.9,2487.4 494,2486.2 494.4,2487.7 495.1,2486.7 495.4,2488 496.4,2485.1 496.9,2486.7 497.2,2484.7 498.1,2488.2 498.6,2483.5 498.9,2484.8 499.7,2483.2 499.8,2485.1 500.3,2482.7 500.6,2483.9 503.6,2459.3 504.4,2463.5 505,2465.4 505.2,2464.6 507,2477.8 507.4,2477.3 508,2478.6 508.3,2477.1 508.6,2476.9 508.8,2477.6 510.5,2471.3 512.2,2458.3 513.8,2409 516.8,2021.3 517.7,2080.5 520.5,2415.1 521.8,2456 523.2,2471.5 524.4,2477.5 524.6,2476.6 525.2,2482.1 525.5,2481 526,2483.3 526.5,2484.1 526.6,2483.3 526.9,2483.7 527.4,2487.6 527.6,2486 528.2,2487 528.8,2485.5 529.1,2489.4 530.2,2486.5 530.5,2489 531,2488.9 531.2,2489.5 531.5,2488.9 531.6,2489.5 532.1,2487.9 532.6,2491 533,2489.1 533.5,2492 533.7,2490.7 534.1,2492.5 534.5,2490.5 534.8,2494 535.4,2490.3 535.9,2492.4 536.7,2490.6 537,2492.5 537.3,2493 537.9,2491.7 538.2,2493.4 539.2,2489.8 539.5,2491.2 539.8,2491.7 539.9,2491.1 541.5,2494.2 541.7,2492.8 541.8,2494.9 542.4,2491.2 542.9,2494 543.4,2490.8 544,2495 544.5,2493.1 545.1,2494.6 545.3,2493.4 545.6,2493.7 545.9,2495.7 546.4,2493.4 546.5,2494.8 547.3,2493.9 547.8,2494.6 548.4,2492.1 548.9,2494.4 549,2492.5 549.3,2493.8 549.8,2492.9 550.7,2496.5 551.2,2495.3 551.4,2495.9 552,2493.1 552.3,2494.3 552.8,2493.2 553.1,2495.1 553.6,2493.5 554,2494.5 554.2,2493.2 554.7,2494.4 555,2493.4 555.4,2496.5 556.7,2494.5 557,2496.9 557.8,2492.5 558.3,2496.2 558.6,2494.2 559.1,2495.7 559.8,2493.1 560,2495 560.5,2493.7 561.1,2496.2 561.4,2494.1 561.9,2494.7 562,2492.5 562.5,2494.3 563,2492 564.7,2497.9 565.3,2492.9 566.3,2494.7 566.7,2490.3 567.7,2494.3 568.1,2493.4 568.6,2494.1 569.1,2492.7 569.4,2493.9 570.2,2488.5 570.6,2490.1 571.7,2486 572.8,2476.5 575.8,2390.2 577.4,2419.5 578.8,2463.3 580.5,2485.8 581.1,2487.8 581.6,2487.6 582.1,2492.8 582.6,2490.9 583,2494.2 583.2,2493.6 583.5,2493.9 584,2491.2 584.6,2494.9 585.1,2492.5 585.7,2494.3 586,2492.4 586.5,2495.3 587.1,2492.9 587.7,2493.8 588.2,2491.8 588.8,2494.5 589.3,2489.7 589.8,2492 590.2,2488.2 591,2491.1 591.3,2490.5 591.6,2491.7 592.1,2485.5 592.6,2485.9 593.5,2480.2 594.6,2459.9 597.4,2308.7 598.7,2341.2 601.5,2467.8 602.9,2485.6 603.9,2490.6 604,2489.9 604.3,2491.4 604.8,2491.4 605.1,2494.3 605.6,2495.2 606.1,2494.6 606.5,2491.7 607.3,2497.9 607.9,2495.2 608.4,2497.9 608.7,2494.2 610,2497.3 610.4,2496.6 610.6,2497.3 610.9,2495.3 612,2499.4 613.1,2496.4 613.3,2497.1 613.7,2496.4 614,2498.7 614.2,2498.1 614.7,2499 615,2497.3 615.5,2497.6 615.6,2497.2 616.1,2499.4 616.7,2497.8 617.2,2498.6 617.6,2497.4 617.8,2499 618,2498.2 618.1,2499.4 618.3,2498.3 618.7,2502.7 619.2,2498.9 619.5,2500.5 620.3,2500.7 621.7,2496.7 622.2,2501.3 623,2498.2 623.3,2500.2 623.8,2499.8 624.1,2500.6 624.4,2499.8 624.9,2501.3 625,2499.9 625.3,2501.5 625.8,2498.1 626.4,2500.8 627.2,2499.2 627.8,2500.8 628.5,2499 629.1,2501.2 629.9,2498.4 630.3,2500.5 630.6,2499.8 631.3,2500.2 631.9,2497.6 632.7,2501.3 633.2,2498 633.3,2500.2 633.5,2498.9 633.6,2499.7 633.8,2499.1 633.9,2501.2 634.4,2498.5 634.7,2499.3 634.9,2498.3 635.3,2498.2 635.5,2498.8 635.7,2498 636.4,2501.1 637.1,2499.4 637.2,2500.7 637.4,2499.4 637.9,2501.2 638.2,2499 638.5,2502 638.9,2498.6 639.3,2500.4 640.2,2498.5 640.7,2501.3 641.1,2499.9 641.8,2500.8 641.9,2499.6 642.2,2500.9 643.2,2498.5 643.6,2500 644,2499 644.6,2500.9 645.1,2497.4 645.8,2499.8 646.8,2497.1 647.6,2499.2 648.5,2496.6 648.8,2497.6 649.1,2496.9 649.6,2499.1 650.5,2495.8 651.2,2498.5 651.6,2495.5 652,2497.9 652.4,2496.1 652.9,2496.9 653.4,2493.6 654.1,2495.2 654.6,2491.7 654.8,2492.9 655.2,2490.9 655.7,2494.3 656.7,2490 657.3,2491.8 657.7,2490.9 658.1,2491.3 658.7,2488 659.2,2489.1 659.5,2485.4 660.1,2485.2 660.3,2482.9 660.4,2482.2 660.7,2482.8 660.9,2482.4 662.1,2476.6 662.8,2469.4 663.4,2467.7 665.6,2438.3 667,2386.1 667.6,2334.7 668.7,2127.3 671.1,1342 672.6,1610.8 674.8,2209.7 675.6,2319.9 676.7,2381.8 677.3,2393.8 678.1,2388.9 679.2,2331 682,1886.9 683.8,2046.4 685.8,2344.4 686.9,2420.2 688.5,2457.5 689.2,2465.1 691,2472.2 691.4,2471.2 692.2,2473.8 692.5,2471.9 692.8,2472.6 693.2,2472 694.1,2467.4 694.4,2468.4 694.7,2467.2 696.8,2433.4 698.5,2303.2 701,1774 702.9,1971.3 704.7,2303.6 706.2,2425.5 707.7,2467.1 708.8,2477.7 709.6,2481 709.8,2479.8 710.2,2485.1 710.5,2484.5 711,2488.8 711.2,2487.9 711.5,2488.7 711.8,2492.4 712.1,2492.7 712.4,2491.2 713.2,2494.7 713.4,2494 714.3,2495.4 714.5,2495 714.9,2497 715.2,2496 715.9,2496.8 716.3,2496.5 716.8,2500.1 717.3,2496 718.4,2499.3 719,2497.4 719.8,2502.1 720.9,2495.5 721.4,2498.4 722,2496.9 722.4,2498.7 722.9,2493.5 723.7,2498.6 726.7,2481.7 728.2,2433.4 730.8,2243 732.6,2313.5 734.7,2440.1 735.8,2475.5 736.5,2486.9 736.9,2489.5 737,2488.2 737.3,2489.1 738.3,2498.3 739.4,2499.7 739.7,2498.3 740.5,2504.1 740.9,2502.1 741.7,2503.6 742,2506.1 742.5,2502.9 743.1,2507.5 744.2,2505 744.7,2506 745,2504.7 745.8,2507.7 746.1,2506 746.4,2507.4 746.7,2505.2 747.7,2508.6 747.8,2507.5 748.3,2508.4 748.5,2507.1 748.8,2508.1 749.2,2508 749.4,2509.3 749.9,2506.6 751,2509.6 751.1,2507.8 751.4,2507.6 751.6,2508.7 751.9,2507.9 752.5,2511.4 753,2507.8 753.5,2508.9 753.8,2507.2 754.3,2510.1 755.2,2507.4 756,2511 757.2,2508.6 757.9,2510.6 758.5,2507.8 759.3,2508.5 759.6,2507.2 760,2511 761.5,2506.6 761.9,2508.7 762.4,2506.6 762.9,2509.5 763.3,2505.1 763.7,2503.9 763.8,2505.3 764.1,2505.1 765.2,2498.4 767.9,2453 768.7,2463.4 770.2,2472.6 772,2500.2 772.6,2501.7 773.2,2507.6 773.5,2506.4 774,2508.5 774.1,2506.7 775.1,2510.8 776.2,2508.3 777.1,2512.7 777.9,2509.2 778.4,2513.9 778.7,2511.5 779.2,2513.5 779.5,2511.9 780.3,2511.7 780.4,2512.3 781.4,2510.6 781.8,2514.3 782,2512 782.4,2512.6 782.9,2509.5 783.5,2513.8 784.3,2512 784.8,2516 785.6,2512.5 786.1,2514.7 786.5,2515 786.8,2512.6 787.3,2514.2 787.5,2512.8 787.6,2514.6 788.1,2511.7 789,2516.5 790,2513 790.1,2514.5 790.6,2512.3 791.1,2513.7 791.7,2513.1 791.8,2513.5 792,2512.3 792.6,2513.3 793.1,2512.7 793.4,2513.8 793.6,2513 793.9,2514.2 794.4,2512.7 794.8,2514.7 795.1,2513.8 795.5,2514.4 795.6,2513.7 795.8,2514.7 796.2,2513 796.5,2514.4 796.9,2512.4 798,2515.4 798.3,2513 798.7,2516.4 799.4,2513.2 800.5,2515.8 801.1,2509.6 801.7,2514.7 801.9,2514 802.3,2514.7 802.8,2512 803.6,2515.3 803.8,2514.4 804.1,2514.2 804.2,2515 804.4,2514.2 804.9,2514.8 805,2514.4 805.5,2516.3 805.9,2513.6 806.1,2515.6 806.3,2513.6 806.4,2514.4 806.6,2513.4 806.7,2514.8 807.2,2513.6 807.5,2514.8 808,2513.4 808.1,2514.4 808.6,2513.3 809.2,2515.6 810,2513.4 810.3,2514.5 810.6,2513.8 811,2515.5 811.1,2514.3 811.6,2515.6 811.9,2513.4 812.4,2515.6 812.8,2514.5 813.5,2515 813.9,2514.2 814.1,2515.2 814.6,2513.9 815,2516.3 815.7,2517 816.1,2514.9 816.4,2516.1 816.8,2515.3 817.1,2517.8 817.5,2514.9 818,2518 818.8,2515.4 819.1,2516.8 819.6,2516.1 819.7,2517.3 820.4,2515.1 820.8,2517.1 821,2515.5 821.5,2515.4 821.8,2514.4 821.9,2515.9 822.4,2515 823,2516.7 823.2,2514.8 823.8,2517.6 824.3,2515.7 824.7,2517 825.1,2515.9 825.4,2516.3 825.8,2514.2 826.3,2516.8 826.5,2515.2 827.4,2517.6 827.9,2515.1 828.7,2517.4 829,2515.5 829.4,2516.9 830.2,2514.3 830.7,2516.1 831.2,2514.2 831.6,2517 832.1,2514.7 832.9,2517.1 833.7,2513.5 834.1,2517 834.6,2515.3 834.8,2516.4 835.4,2516.2 835.6,2517 835.9,2516.3 836.3,2517.2 836.7,2514.6 837.1,2516.2 837.8,2514.3 838.2,2517.6 839.2,2514.4 839.6,2516.9 839.8,2516 840.1,2516.5 840.6,2515.6 840.7,2516.8 841.2,2515.9 841.8,2518.8 842.3,2514.9 842.6,2516.5 843.1,2514.7 843.7,2518.3 844.2,2514 845,2517.5 845.4,2515 845.7,2516.1 846.2,2514.1 846.5,2515.9 847,2514.3 848.1,2517.8 848.4,2516.6 849.2,2517.4 849.7,2515.1 850.3,2517.4 850.8,2515.6 851.1,2516.3 851.5,2514.1 852,2517.1 852.5,2513.4 852.9,2515 853.3,2513.8 854,2518.2 855,2514.3 855.8,2517.6 856.2,2514.2 856.7,2514.4 856.9,2513.3 857.3,2516.5 858,2513.1 858.7,2511.6 859.2,2514.2 859.5,2511 859.8,2513 860.3,2510.8 860.5,2511.8 860.8,2508 861.2,2509.3 863,2489 864.4,2455.7 865,2452.3 867,2468 869.2,2498.8 870.2,2505.9 870.3,2506.5 870.5,2505.6 870.6,2506.4 870.8,2505.3 871.4,2509.1 871.9,2508.3 872.1,2508.8 872.4,2507.5 872.8,2507.8 873.3,2505.4 873.8,2507.5 873.9,2505.3 874.3,2504.6 874.4,2505.6 874.9,2503 875.5,2501.6 875.8,2501.9 876.8,2494.6 877.9,2472.6 881.1,2264.7 886.6,2485.4 888,2502.4 889.1,2506 889.4,2506.6 889.9,2506.4 891.3,2510.9 891.6,2510.6 892.1,2512.9 892.7,2512.2 893.1,2513.5 893.2,2512.6 893.5,2512.8 893.7,2514.2 893.8,2512.6 894.1,2512 894.3,2513.5 895.1,2510.9 895.6,2512.5 896,2508.8 896.7,2507 897,2507.7 898.1,2499.9 898.5,2504.5 898.7,2503.1 899,2504.2 899.3,2502.9 899.8,2506.5 900.3,2503.8 900.7,2508 901.2,2506.7 901.8,2512.5 902.5,2510 902.9,2513.3 903.5,2511.8 903.9,2515.2 904.2,2515.6 904.3,2514.4 904.6,2514.9 905.1,2517.9 905.6,2515.9 906.4,2518.2 907.2,2515.8 908.2,2518.3 908.7,2515.8 909.3,2518 909.7,2516 910.3,2518.1 910.9,2514.7 911.4,2517.3 911.7,2516.2 911.9,2516.7 912.3,2520.4 912.8,2516.5 913.3,2519.4 914,2516.7 914.4,2519.6 914.5,2518.8 915,2520.2 915.5,2518.8 915.6,2520 915.8,2518.5 915.9,2519.2 916.1,2518.2 916.2,2519.6 916.9,2518.5 917.3,2515.3 918.1,2520.5 919.1,2516.3 919.7,2518.9 920.2,2516.5 920.8,2517.1 921.3,2519.5 921.6,2517.7 922,2519.3 922.2,2517.5 922.7,2520.4 923.6,2516.1 924.1,2520.3 925,2518 925.5,2518.9 926,2517.8 926.4,2519.1 926.6,2517.1 927.4,2520.7 928.1,2516.5 928.5,2518.2 928.9,2517.9 929.1,2518.7 930.2,2514.3 930.8,2518.2 931.4,2514.7 931.9,2517.5 932.7,2513.2 933.2,2515.2 933.5,2514.7 934.7,2507.2 937.4,2457.9 938,2454.3 939.1,2469.7 940.4,2475.9 942.6,2504.2 943.7,2510.7 944,2511.2 944.9,2508.7 945.1,2509.8 945.5,2505 945.8,2506.6 946,2504.8 946.5,2506.5 946.9,2504.9 947.4,2509.3 947.6,2507.2 948.2,2511.5 948.4,2510.1 948.8,2511.8 949,2510.5 949.1,2511 949.3,2509.8 949.4,2511 949.6,2510 950.7,2516.3 951.3,2516.6 951.8,2519.1 952.4,2516.3 952.7,2518.4 953.2,2516 954.1,2521.8 954.5,2519.9 954.9,2520.7 955.4,2519.3 955.9,2520.8 956.3,2517.6 956.8,2520.1 957.4,2518.3 957.9,2520 958.5,2518.3 958.7,2519.7 959,2520.2 959.2,2519.2 959.3,2520.3 959.8,2518.9 960.9,2519.9 961.4,2517.5 962.3,2522.6 963.4,2517.9 963.9,2521.5 964.3,2520.4 964.6,2521.3 964.8,2519.7 965.1,2519.2 965.3,2520 966.1,2518.2 966.4,2519.9 966.8,2518.9 967.3,2520.7 967.8,2518.6 968.2,2521.2 968.7,2520 969.2,2521.8 969.8,2518.5 970.3,2522.5 970.8,2519.5 971.4,2520.1 971.7,2521.9 972.2,2519.7 972.6,2520.7 973.1,2519.3 973.3,2521.2 973.4,2520.1 973.6,2520.9 974,2518.4 974.5,2522 974.8,2519.9 975.1,2520.1 975.9,2518.6 976.1,2519.8 976.6,2519.4 977,2516.3 977.3,2520 977.6,2519.5 978,2520.8 978.4,2518.1 978.9,2520.7 979.2,2518.3 979.8,2517.8 980.2,2520.5 980.9,2514.9 981.4,2517.7 982.3,2513.1 982.8,2513.7 983,2512.8 986,2470.6 987.2,2475.6 987.8,2485.3 988.3,2483.5 988.5,2484.6 991.1,2509.9 991.3,2508.8 991.7,2513.3 993.6,2518.6 994.1,2517.7 994.4,2518.2 994.7,2516.3 995.7,2519.3 996,2518.2 996.4,2519 997.4,2515.9 997.7,2517.2 999.4,2507.1 1000.1,2509.8 1000.2,2509 1000.5,2509.3 1001,2513.8 1001.1,2513.1 1001.6,2513.9 1002.2,2511.3 1002.9,2516.2 1003.3,2515.3 1003.5,2517.2 1004,2515.1 1004.8,2519.8 1005.2,2519.3 1005.7,2520.3 1005.8,2519.6 1006.5,2520.7 1006.8,2519.7 1007.3,2522.7 1007.7,2519.8 1008,2520.5 1008.4,2519.5 1009,2522.6 1009.5,2520.5 1009.9,2524 1010.4,2520.3 1011.2,2522.9 1011.6,2521.4 1012,2523.2 1012.4,2521 1013.1,2522.3 1013.2,2520.3 1013.8,2522.9 1014.6,2519.2 1015.2,2522.9 1015.7,2520.6 1015.9,2522.1 1016,2519.5 1016.5,2522.9 1017.3,2517.9 1017.8,2521 1018.5,2517.5 1019,2520.2 1019.5,2518.2 1019.6,2518.9 1020.1,2517.8 1020.3,2518.5 1020.7,2514.2 1020.9,2514.6 1021.2,2513.8 1024,2482.6 1024.8,2484.8 1026.2,2496 1026.7,2495.1 1027.3,2497.5 1030,2516.6 1031.2,2520.4 1031.7,2519.2 1032,2520.4 1032.5,2518 1032.9,2521.8 1033.4,2519.9 1033.6,2520.8 1034,2520.3 1034.4,2520.6 1034.5,2521.7 1035.3,2517.5 1036.2,2522.6 1036.6,2519.3 1037.2,2523 1038.7,2520.2 1039.4,2522.3 1039.8,2519.7 1040.2,2522 1040.9,2519.9 1041.6,2522.1 1042,2520.5 1042.7,2521.6 1043.1,2518.6 1043.8,2519.8 1043.9,2519.3 1044.5,2519.7 1044.7,2519.1 1044.9,2519.9 1045.3,2518.5 1045.8,2520.9 1046,2519.7 1046.6,2521.8 1047,2517.3 1047.2,2519.2 1047.8,2516.2 1048.5,2517.8 1048.8,2516.6 1049.2,2519.2 1049.7,2516.3 1049.9,2517.3 1050.8,2514.3 1051.3,2515.2 1051.7,2514.9 1052.2,2509.4 1052.7,2512.1 1053.6,2508.1 1053.9,2509.2 1054.4,2503.7 1055,2502.5 1056.4,2485 1058,2418.1 1060.5,2209.8 1062.1,2287.6 1063.8,2334.4 1065.8,2458.6 1067.6,2496.3 1069.8,2512.1 1070.1,2511.4 1070.5,2512.5 1070.7,2510.9 1071.5,2514.5 1072.1,2515.7 1072.3,2514.7 1072.7,2516.8 1073.2,2513.8 1073.5,2515.4 1073.8,2514.6 1074.3,2518.3 1074.8,2517.3 1074.9,2518.4 1075.6,2516.8 1076.5,2520.4 1077,2517.7 1077.1,2518.8 1077.3,2518.1 1077.6,2519.2 1077.9,2518.7 1078.4,2521.1 1079.2,2517.6 1080.6,2521.6 1081,2519.4 1081.2,2521.3 1081.7,2521.5 1081.8,2520.8 1082,2521.4 1082.5,2517.6 1082.9,2519.8 1083.2,2519.1 1083.7,2520.6 1083.9,2518.6 1084.3,2519.6 1084.8,2518.4 1085.3,2520 1085.4,2518.4 1085.7,2520.2 1086.2,2517.2 1087.2,2520.5 1087.6,2516.9 1088.4,2519.4 1089.7,2516 1089.8,2516.8 1090.3,2516.4 1090.4,2518.2 1090.9,2514.3 1091.4,2516.4 1093.7,2503.6 1094.8,2483.6 1097.3,2387 1098,2389.8 1099.4,2426.6 1099.7,2430.4 1100,2430.9 1100.2,2430.1 1101.3,2446.8 1102.5,2482.6 1104.7,2510.9 1105.2,2509.6 1106.1,2513.3 1106.6,2512 1106.7,2512.8 1106.9,2511.4 1107.2,2511.7 1107.5,2514 1108.5,2507.7 1108.9,2507.2 1110.5,2484.3 1111.3,2479.8 1112.1,2484.7 1112.2,2483.8 1112.5,2484.6 1113.5,2494.8 1114.1,2495.9 1114.4,2494.3 1115,2496.5 1116.1,2507.7 1117.1,2509.9 1117.5,2514.3 1118.3,2516.3 1118.8,2515.4 1119.1,2516.8 1119.4,2516.6 1119.9,2517.5 1120.4,2517 1121,2518.7 1121.5,2516.5 1122.1,2518.3 1122.9,2514.3 1123,2515.6 1123.2,2514.5 1123.8,2516.2 1124,2514.1 1124.4,2514.1 1124.9,2511.4 1125.5,2511.1 1127.9,2501.3 1129,2489.2 1129.6,2472.5 1130.7,2416.5 1133.4,2182.2 1135.2,2282.9 1136.7,2312.3 1139.9,2484.6 1141.7,2504.5 1143.1,2512.1 1143.6,2511.5 1143.7,2513.4 1144.5,2511.7 1145,2514.2 1145.1,2513.3 1145.3,2514.6 1145.4,2513.8 1146.2,2515.4 1146.7,2514.8 1147.5,2518 1148.3,2516.2 1148.4,2517.6 1148.9,2515 1149,2517 1149.7,2517.5 1150,2516.2 1150.3,2518 1150.8,2515 1151.4,2517.3 1151.9,2514.8 1152.5,2516.2 1153,2514.5 1153.1,2516.2 1154.5,2508.8 1154.8,2510 1155.3,2508.2 1156.9,2492.5 1160.2,2354.3 1162.2,2408.5 1163.6,2417.9 1166.7,2499.9 1167.8,2509.9 1169.1,2513.8 1169.6,2513.2 1170.3,2518.1 1170.8,2515 1171.4,2518.9 1172.5,2516 1173,2517.5 1173.6,2514.3 1174.1,2515.6 1174.6,2512 1174.9,2513.4 1175.5,2511.8 1177.2,2494.8 1179.6,2412.8 1180.4,2400.6 1181.8,2431.9 1182.7,2444.8 1183,2443.1 1183.7,2446.9 1185.5,2487.7 1187.6,2514.4 1188,2513.6 1188.5,2517.3 1189,2515.8 1189.5,2517.8 1189.9,2516.5 1190.9,2520.5 1191.2,2518.7 1191.6,2518.6 1191.8,2519.7 1192.3,2518.3 1192.4,2519.6 1192.7,2519.2 1193.2,2517 1193.7,2518.6 1194,2517.4 1194.5,2518.2 1194.6,2517.4 1194.8,2518.2 1194.9,2517.2 1195.1,2518.2 1195.9,2513.3 1196,2514.3 1196.7,2513 1196.8,2513.9 1198.2,2497.4 1199.2,2474.6 1200.7,2408.8 1201.5,2396.9 1203.1,2431.5 1203.7,2440.2 1204.5,2443.9 1204.6,2443 1205.3,2449.8 1207.3,2499.3 1208.9,2515.1 1209.7,2518 1210,2516.6 1210.4,2518.9 1210.8,2518.3 1211.2,2521.9 1211.7,2520.1 1212.2,2523.4 1212.8,2520.8 1213.6,2523.2 1214,2523 1214.5,2520.7 1214.8,2522.6 1215.3,2521.5 1216.2,2523.4 1217.2,2521.6 1217.7,2522.9 1218,2521.8 1218.4,2522.8 1218.7,2522.1 1219.4,2521.9 1219.5,2522.4 1220,2521.5 1220.5,2523.1 1221.1,2519.3 1221.6,2519.9 1221.9,2519.2 1222.2,2520.5 1223.3,2515.2 1223.8,2517.8 1225.6,2504.9 1226.4,2489.8 1229.2,2375.9 1230,2384.4 1231.6,2426.7 1232.1,2431.6 1232.4,2431.1 1233.2,2434.3 1235.7,2501.4 1237.4,2517.5 1238,2520.4 1238.3,2519.6 1238.5,2520.6 1239,2519.3 1239.3,2521 1239.7,2519.6 1240.1,2523.5 1240.5,2522.9 1240.8,2524.3 1241.2,2522.7 1241.6,2524.6 1241.8,2523.5 1242.1,2523.8 1242.2,2525.7 1242.7,2523.4 1243.2,2526 1243.8,2523.1 1244,2525.2 1244.3,2525.8 1244.4,2525 1245.1,2526.7 1245.2,2525 1245.4,2526.5 1245.5,2525.3 1245.7,2525.8 1246.2,2525.5 1246.6,2523.9 1246.8,2526.2 1247.1,2526.8 1247.3,2525.7 1247.7,2527.8 1248.5,2526.1 1248.8,2526.7 1249.1,2526.1 1249.6,2526.6 1250.1,2524.3 1250.7,2527.6 1251.3,2525.8 1251.8,2527.9 1252.1,2527 1252.4,2527.5 1252.9,2527.1 1253.1,2527.7 1253.5,2526.9 1253.7,2528.7 1254.2,2527.4 1254.6,2528.4 1255.1,2527.1 1255.4,2528.1 1255.9,2526.8 1256.3,2529.7 1256.5,2528.9 1257,2530 1257.4,2526.7 1257.6,2527.1 1258.1,2526 1258.4,2527.3 1258.9,2525.6 1259.3,2526.2 1259.8,2525.5 1260.1,2527.4 1260.4,2527 1261.2,2521.6 1262,2521.4 1262.6,2517.4 1263.1,2520.9 1263.2,2520.5 1264,2521.4 1264.3,2524.3 1265,2520.2 1265.4,2523.1 1265.9,2521.1 1266.1,2521.8 1266.5,2520.9 1267.2,2524.5 1267.5,2523.8 1267.8,2524.3 1268.1,2526.9 1268.7,2525.3 1269.2,2527.9 1269.3,2526.7 1270,2526.1 1270.3,2526.6 1270.6,2526.1 1271.1,2529.3 1271.4,2527.3 1271.7,2529.1 1272.2,2527.3 1272.5,2529 1273,2526.5 1273.6,2528.6 1274,2527.4 1274.5,2528.8 1275,2527.4 1275.8,2529.8 1276.2,2527 1277.2,2530.1 1277.7,2528.2 1277.8,2529.3 1278.7,2527.3 1279.1,2529.9 1279.5,2525.5 1280.3,2530.5 1280.9,2527 1281.1,2528 1281.9,2528.3 1282,2526.8 1282.7,2529.3 1283.1,2527.3 1283.6,2528.7 1284.1,2526.9 1284.7,2528.8 1285.2,2526.6 1285.3,2528.9 1285.8,2526.4 1286,2528.9 1286.3,2529.5 1286.4,2528.6 1287.1,2529.7 1287.5,2526.4 1288,2527.5 1288.1,2526 1288.6,2528.3 1289.1,2527.4 1289.9,2529.6 1290.5,2525.7 1291.3,2529.3 1291.8,2525.1 1292.5,2528.3 1293,2526.6 1293.2,2528.9 1293.6,2524.2 1294.4,2527.4 1295,2523.3 1295.5,2524.7 1296.9,2519.6 1300.2,2471.1 1300.5,2471.5 1300.8,2471.1 1302.4,2493.6 1302.6,2492.3 1302.9,2493.4 1303.3,2491.8 1304.8,2499.2 1306.6,2519.7 1307.1,2518.7 1308.4,2526.1 1308.8,2523.2 1309.3,2523.2 1309.8,2527.8 1310.2,2525.8 1310.9,2528.3 1311,2526.5 1311.5,2528.2 1311.8,2526.1 1312.1,2529 1312.7,2527.5 1314.2,2530.7 1314.9,2527.2 1315.3,2528.4 1315.9,2527.7 1316.5,2528.9 1317,2527.2 1317.3,2528.2 1317.8,2527.3 1318.5,2530.6 1319.2,2527.5 1319.6,2530.9 1320.1,2526.5 1320.9,2530.2 1321.5,2526.7 1322.1,2530.6 1322.9,2527.4 1323.4,2529.9 1323.6,2528.6 1323.9,2529.5 1324.3,2528.3 1324.5,2529.7 1325,2528.1 1325.3,2530.1 1325.7,2525.7 1326.4,2528 1327.3,2524.2 1327.9,2527.7 1328.3,2524.7 1328.7,2526.3 1329.8,2516 1330.3,2516 1332.3,2492.3 1333,2492.8 1334,2503.5 1334.4,2505.1 1334.5,2503.3 1334.8,2504 1335.5,2509.9 1335.9,2507.6 1336.2,2508.2 1336.7,2506.7 1339.4,2525.4 1339.7,2524 1340.2,2524.9 1340.3,2524.5 1341.6,2529.3 1342,2527.3 1343,2531.5 1343.6,2527.1 1344.4,2530.3 1344.9,2528.8 1345.2,2529.4 1346.3,2527.3 1347.1,2530.8 1347.5,2529.5 1348,2531.5 1348.3,2528.3 1348.8,2530.2 1349.2,2528.8 1349.4,2530.4 1349.9,2528.2 1350.7,2531.3 1351.1,2526.8 1352.1,2529.9 1352.5,2526.8 1352.8,2530.2 1353.3,2525.8 1354.1,2527.6 1354.4,2524 1354.9,2525 1355,2523.3 1355.5,2523.9 1356.1,2516.6 1356.6,2517.5 1357.2,2514.9 1357.7,2517.8 1358,2515.1 1358.6,2516.1 1359.6,2521.6 1359.9,2520.5 1360.4,2522.4 1361.2,2520.5 1361.6,2523.1 1362.1,2521 1362.6,2525.2 1363,2524.1 1363.2,2525.1 1363.3,2523.9 1364.3,2528.5 1364.8,2528.9 1365.1,2528 1365.5,2528.9 1366,2527.3 1366.9,2531.7 1367.4,2529.8 1367.6,2531.1 1368,2527.1 1368.5,2529 1368.7,2528.2 1369.1,2529.4 1369.5,2528.6 1369.9,2532.1 1370.6,2530.3 1370.7,2531.1 1371,2530.3 1371.3,2527.4 1372.3,2530.9 1372.9,2526.3 1374.2,2532.8 1374.6,2528.9 1375.6,2532.7 1376,2529.4 1376.7,2532.8 1377,2530 1377.4,2532.7 1378.1,2528.9 1378.5,2532.3 1379.5,2529.2 1379.6,2530.2 1380,2530.6 1380.1,2529.8 1380.4,2530.7 1380.9,2529.5 1381,2530.4 1381.5,2530.3 1381.7,2528.8 1382.1,2530 1382.3,2528.9 1382.8,2531.3 1383.2,2528.3 1383.7,2531.7 1384,2529.5 1384.8,2529.1 1385.1,2532.5 1385.4,2529.6 1385.9,2530.9 1386.2,2529.6 1386.7,2531 1387.3,2529.7 1387.5,2532 1387.8,2530.1 1388.6,2531.2 1389,2529.7 1389.2,2530.2 1389.7,2529.1 1389.8,2529.5 1390.1,2529.1 1390.6,2531.8 1391.5,2528.9 1392.3,2531.9 1393.3,2527.6 1393.9,2531.4 1395.3,2527.9 1395.8,2530.4 1396.4,2528.8 1396.6,2531.1 1397,2528.6 1397.5,2531 1398.1,2528.7 1398.4,2530.8 1398.9,2528.5 1399.5,2531.5 1400,2527.6 1400.5,2528.4 1400.6,2527.4 1401.1,2528.9 1402.2,2526 1402.7,2526.8 1402.8,2524.3 1403.3,2527.5 1405,2514.8 1407.1,2488.1 1407.2,2489.4 1407.7,2488.5 1408.2,2490.5 1410,2506.2 1410.3,2507 1410.8,2503.8 1411,2504.5 1411.4,2503.4 1414.4,2520.7 1415.7,2523.4 1417.1,2517.5 1419.1,2502.3 1419.9,2503.9 1422.4,2516.1 1422.6,2515.5 1423,2516.3 1423.7,2513.9 1425.2,2519.3 1425.9,2524.8 1426.3,2524 1427.7,2529 1428.2,2526.3 1428.7,2529 1429.1,2527.4 1429.6,2530.4 1429.9,2529 1430.2,2529.5 1430.7,2532 1431.5,2527 1432,2529.2 1432.1,2528.7 1432.6,2529.8 1432.9,2528.3 1433.4,2530.8 1434.5,2529 1435.1,2529.2 1435.4,2527.8 1435.9,2528.3 1436,2527.2 1437.1,2530.4 1437.4,2529.3 1437.9,2530.3 1438.1,2528.7 1438.5,2530.3 1438.9,2530.6 1439,2529.6 1439.2,2530.9 1439.5,2530.2 1440,2530.7 1440.1,2528.8 1440.4,2529.7 1440.7,2529.2 1441.2,2530.9 1442.3,2528.8 1442.5,2529.9 1442.9,2527.7 1443.6,2529.3 1444,2525.8 1445.7,2528.1 1446.7,2522.4 1447.2,2526.1 1448.9,2509.5 1451.2,2473.3 1453.3,2497.9 1453.4,2498.3 1453.9,2497.5 1454.7,2500.2 1455.3,2496 1457.7,2512.8 1458.3,2523 1458.4,2522.4 1458.9,2524.6 1459.5,2524.9 1460.2,2528.7 1460.5,2527.8 1460.9,2528.1 1461.4,2524.8 1461.9,2528.7 1462.4,2525.3 1463.1,2531.8 1463.5,2528.6 1463.9,2529.5 1464.4,2528 1464.9,2529 1465.2,2527.7 1466.3,2530.2 1466.9,2528.7 1467.4,2529.9 1467.5,2529.3 1467.8,2529.6 1468,2528 1468.2,2528.9 1468.6,2527.6 1469.4,2531.4 1470.3,2529 1471.9,2531.5 1472.4,2529 1472.7,2530 1473.2,2526.7 1473.9,2530.9 1474.4,2528.8 1474.9,2530.4 1475.4,2530.1 1475.7,2528.1 1475.8,2529 1476.3,2528.2 1476.6,2529.1 1477.2,2529 1477.9,2526.3 1478.3,2528.3 1478.6,2526.2 1479.3,2528.6 1479.7,2524.9 1480.2,2524.8 1480.5,2526.1 1481.9,2517.3 1482.3,2518.2 1486,2455.1 1488.4,2487 1488.5,2487.6 1489,2486.1 1489.1,2488 1490.4,2484.7 1490.7,2485.7 1493.1,2514.6 1493.2,2514.2 1493.5,2514.8 1494.3,2518.5 1494.6,2518.9 1494.8,2517.3 1494.9,2519.6 1495.3,2519.3 1497.4,2501.8 1498.1,2499.4 1498.4,2502.1 1498.9,2499.4 1499.5,2506.9 1501.2,2515.7 1502.6,2510.3 1505.4,2525.3 1505.9,2523.1 1506.2,2525.7 1506.7,2523.7 1506.8,2524.1 1507,2523.4 1507.2,2524.6 1507.3,2524.2 1507.8,2524.9 1508.3,2523.6 1508.7,2526.6 1509,2523.5 1509.4,2522.6 1509.7,2524.6 1510.1,2521.3 1511.5,2517.6 1515.5,2441.9 1518,2480.4 1518.6,2482.8 1519.8,2477.3 1523.6,2519.8 1523.8,2519 1524.1,2519.8 1525.3,2526.7 1526.3,2525.1 1526.7,2527 1527.2,2525.5 1527.4,2527.2 1527.5,2526.4 1527.7,2527 1528.3,2526.3 1529.6,2529.8 1530.3,2525.6 1531.6,2530.4 1532.4,2526.7 1532.5,2527.4 1532.7,2526.6 1533.2,2527.1 1533.6,2525.6 1534.1,2527.7 1534.4,2524.2 1534.9,2525.8 1535.5,2523.4 1536,2524.7 1536.5,2516.9 1536.9,2518.6 1540.5,2462.5 1541.5,2468.6 1543.3,2495.8 1543.5,2496.6 1544.8,2491.4 1545.1,2491.1 1545.4,2492.5 1548,2520.4 1549.3,2525.8 1549.6,2526.6 1549.8,2525.7 1550.2,2526.6 1550.7,2526 1551.2,2529.3 1551.5,2527.1 1552.1,2529.8 1552.6,2528.8 1552.9,2530.6 1553.4,2528.4 1553.8,2530 1554.3,2529.3 1554.6,2529.8 1554.9,2528.3 1555.6,2531.9 1556.5,2529 1557,2531.3 1557.3,2529 1557.8,2531.7 1558.5,2529.3 1559.3,2531.9 1559.5,2531.3 1560,2532.2 1560.3,2531.5 1560.4,2532.5 1560.9,2529.2 1561.5,2533.2 1562.3,2529.2 1563.1,2532.2 1563.7,2529.5 1564.7,2532 1565.1,2530.3 1565.6,2532.6 1566.4,2529.3 1566.5,2531.1 1567,2531.2 1567.2,2530.6 1567.3,2532.5 1567.6,2529.9 1568.1,2531.6 1568.4,2528.7 1569.5,2533.3 1570,2529.4 1570.9,2532.6 1571.4,2529.2 1571.7,2528.4 1571.9,2529.5 1572,2528.2 1572.2,2529.1 1572.5,2528 1573.4,2521.7 1573.9,2523.3 1574.8,2513.7 1576.1,2509.4 1576.6,2513.2 1577,2512.1 1579.1,2522.3 1579.5,2519.5 1580,2519.6 1580.5,2517.8 1580.9,2520.4 1581.4,2519.2 1582.2,2522.7 1582.4,2521.7 1583.3,2528.1 1583.8,2526.1 1585,2532.1 1585.6,2529.4 1586.1,2530.8 1586.6,2529.5 1587.1,2531.4 1587.4,2529.8 1587.7,2531.4 1588.2,2530.6 1588.6,2533.4 1589.1,2530.3 1589.4,2530.7 1589.7,2529.3 1590.7,2534.3 1591.1,2531.3 1591.4,2531 1591.9,2532.1 1592.1,2530.8 1592.5,2533.9 1593.6,2530.5 1594.4,2534 1594.6,2530.7 1595.4,2533.6 1596.1,2529.4 1596.6,2532.6 1597.4,2530.5 1597.9,2533.5 1598.6,2529.7 1599.1,2532.9 1599.6,2530.6 1599.9,2533.3 1600.2,2531.6 1600.8,2532.4 1601.3,2530.5 1602.6,2535.2 1603,2533.4 1603.7,2534.1 1604.4,2529.7 1605.5,2531.7 1605.9,2530.2 1606.8,2533.6 1607,2532.8 1607.6,2532.5 1608.5,2534.5 1609.5,2530.6 1610.4,2533.2 1610.6,2532.1 1611,2533.2 1611.8,2530.3 1612,2531.3 1612.7,2530.8 1613.2,2533.1 1613.7,2531.2 1614.3,2534.3 1614.8,2531.3 1615.3,2532.2 1615.6,2530.7 1615.9,2532.5 1616.2,2531 1616.5,2532.6 1616.8,2531.2 1617.1,2534.5 1617.6,2532.5 1618.1,2535.3 1619,2530.2 1620.1,2534.7 1620.6,2531.1 1621.2,2533.6 1621.7,2530.4 1622.3,2531.8 1622.5,2530.9 1622.6,2532.1 1622.8,2531.1 1623.2,2531.3 1623.7,2534.6 1624,2531.2 1624.8,2533.8 1625.3,2530.9 1625.6,2533 1626.5,2531 1627,2532.5 1627.2,2531.1 1627.6,2533.7 1628.1,2530.7 1628.3,2532.5 1628.7,2532.8 1629.4,2529.2 1629.7,2531.6 1630.1,2529.3 1630.6,2531.1 1630.9,2530 1631.4,2532.2 1632.2,2529.3 1632.5,2532.5 1633.1,2530.5 1633.6,2533.7 1634.1,2530.6 1634.2,2531.4 1635.3,2530.5 1635.9,2534.4 1636.6,2532.8 1636.9,2533.2 1637.3,2531.3 1637.8,2534.8 1638.1,2532 1638.6,2532.8 1638.8,2531.5 1639.4,2534.9 1639.9,2533.2 1640.2,2536 1640.5,2531.9 1640.9,2533.8 1641.1,2532.4 1641.4,2532.7 1641.6,2534 1642.2,2529.1 1643.5,2533.6 1643.8,2532 1644.9,2531.8 1645.8,2534.7 1646.3,2531.7 1646.7,2533.4 1647.1,2532.1 1647.4,2532.9 1647.7,2532.1 1648,2532.9 1648.3,2529.7 1648.6,2533.9 1649.1,2532.6 1649.4,2533.6 1649.7,2532.6 1650.2,2533.3 1650.5,2530.5 1651,2533 1651.1,2532.6 1651.3,2533.2 1651.4,2532.3 1651.9,2533.9 1652.4,2531.1 1653,2533.8 1653.5,2529.8 1653.9,2533.2 1654.7,2530.9 1655.2,2534.3 1655.4,2530.7 1655.7,2529.9 1655.8,2531 1656.3,2529.3 1656.8,2533.7 1656.9,2532.1 1657.4,2533.1 1658,2527.6 1658.5,2530 1658.8,2529.2 1659.9,2521.6 1660.1,2521 1660.7,2523.1 1661.8,2516.5 1662.9,2523.2 1663,2522.2 1663.8,2525.1 1664.1,2523.9 1664.4,2526.8 1665.2,2524.2 1665.7,2525.4 1665.9,2524.2 1666.3,2526.6 1667,2525.9 1667.3,2526.4 1667.7,2525 1668.5,2525.9 1668.7,2525.4 1669.9,2532.3 1670.6,2530.1 1671.2,2532.6 1671.7,2531.4 1672.1,2533.2 1672.4,2529.9 1673.2,2533.1 1673.7,2532.6 1673.8,2533.3 1674.2,2531.2 1674.5,2533.9 1674.9,2529.9 1675.4,2531.8 1675.9,2532.2 1676,2531.1 1677.1,2533.6 1677.8,2531.9 1678.2,2534.9 1678.9,2532.6 1679.2,2533.5 1679.6,2531.7 1680,2532.9 1680.6,2533 1681.5,2529.7 1682.1,2532.9 1682.6,2530.9 1682.8,2533.4 1683.2,2532 1683.6,2535 1684.2,2531.9 1684.3,2532.6 1684.5,2531.6 1685,2532.9 1685.1,2530.7 1685.6,2536.7 1686.2,2531.7 1686.8,2533.7 1687.3,2530.4 1687.6,2532.4 1688.4,2533.6 1688.6,2532.5 1689,2533.2 1689.4,2530.6 1690,2533.6 1690.6,2530.6 1691.1,2534.3 1691.5,2530.9 1692,2533.6 1692.5,2529.8 1692.8,2532.8 1693.4,2531 1694.1,2535.5 1694.5,2532.4 1695.2,2533.7 1695.3,2532.7 1695.6,2533.2 1696.1,2530.3 1696.6,2533.1 1697,2531.4 1697.5,2534.1 1697.8,2531.1 1699.1,2533.2 1700,2529.4 1700.5,2532.2 1700.8,2532.5 1701.4,2530.4 1701.9,2533.1 1702.7,2529 1703.3,2532.9 1703.8,2529.1 1704.4,2531.3 1704.7,2528.5 1705.2,2531.3 1705.6,2530.3 1706,2532 1706.6,2528.5 1706.9,2528.1 1707.1,2528.8 1708,2526.6 1708.6,2527.2 1711.6,2502.2 1711.9,2500.2 1712.5,2500.2 1712.7,2499.4 1713.2,2505.9 1713.3,2506.6 1713.5,2505.6 1713.8,2506.2 1714.6,2514 1715.5,2517.6 1716,2515.6 1716.1,2516.4 1716.3,2515.6 1716.5,2516.4 1716.8,2516.1 1717.1,2513.7 1717.7,2515.7 1717.9,2513.9 1718.8,2516.5 1719,2516 1720.4,2527.8 1720.8,2524.8 1721.6,2528.5 1722.1,2527.2 1722.3,2527.6 1722.9,2527.3 1723.5,2530 1724.3,2526.3 1724.8,2529.1 1725.2,2527.6 1725.7,2522.2 1726,2521.7 1726.2,2523.1 1726.5,2522.1 1727.6,2513.3 1727.7,2513.9 1728,2513.5 1728.8,2509.7 1729.6,2511.8 1730.2,2517.4 1730.7,2516.2 1731.7,2523.6 1732,2524.2 1733.1,2519.9 1733.4,2521.3 1734,2519.6 1736.2,2525.1 1736.7,2529.4 1737.1,2526.5 1738.2,2531 1739.2,2529.5 1740.4,2532.1 1741.2,2529.6 1742,2532.1 1742.1,2531.2 1742.6,2531.3 1742.8,2530.5 1743.2,2530.8 1743.4,2530.2 1743.9,2532.9 1744.3,2531.8 1744.8,2533.9 1745.8,2530 1746.4,2534.2 1746.8,2530.9 1747.3,2532 1747.6,2529.7 1748.4,2533.3 1748.9,2529.8 1749.2,2532.2 1749.7,2531.6 1749.8,2532.6 1750.1,2531.5 1750.6,2532 1750.9,2530.5 1751.9,2533.1 1752,2531.9 1752.2,2533 1752.3,2531.8 1752.5,2532.4 1753,2529.9 1753.3,2533 1753.4,2532.5 1753.9,2533.2 1754.7,2529 1755,2530.5 1755.5,2530.5 1755.9,2534.4 1756.7,2530.8 1757.2,2533.6 1757.7,2531.7 1758.1,2533.5 1758.4,2529.7 1759.1,2533.5 1759.4,2531.8 1759.9,2532.7 1760.2,2531.4 1760.5,2533.1 1760.8,2531.7 1761.3,2531.8 1761.7,2526.6 1762.2,2531.5 1762.7,2531.7 1763.1,2528.8 1763.6,2530.5 1763.9,2529.9 1764.2,2532 1764.4,2531.5 1764.6,2532.3 1764.7,2530.8 1765.2,2533 1766,2528.8 1766.3,2528.4 1766.4,2528.9 1766.9,2526.9 1767.4,2528.6 1767.8,2527.3 1768,2528.8 1768.5,2526.5 1768.9,2528.3 1771.1,2515.7 1772.7,2495.6 1773.5,2493.4 1774.7,2498.4 1775.7,2510.4 1776.1,2509.7 1776.6,2513.6 1776.9,2514.1 1777.1,2513.5 1777.6,2515.7 1778.2,2510.2 1778.7,2510.8 1779.1,2508.9 1780.1,2516.6 1780.4,2517.6 1780.7,2517.1 1781.9,2525.3 1782.3,2524.2 1782.6,2525.4 1782.9,2525.2 1783.4,2528.3 1784,2525.6 1784.4,2531.2 1785.2,2527.8 1785.9,2532.1 1786.2,2529.4 1786.5,2529.2 1787,2530.6 1787.3,2528.5 1787.7,2530.6 1788.2,2528 1788.5,2530.8 1789,2530.2 1789.3,2531 1789.8,2530.1 1789.9,2531.4 1791.2,2529.2 1792,2531.4 1792.3,2528.8 1792.8,2529.8 1793.1,2527.9 1793.5,2531.4 1794,2528.6 1794.3,2528.2 1794.6,2529.5 1795.1,2526.7 1795.7,2530 1796.4,2526.7 1796.8,2527.8 1798.7,2515.7 1799.8,2503.5" fill="none" stroke-width="4.4" stroke-linejoin="round"/><mask id="mask-b" maskUnits="userSpaceOnUse" x="233" y="1288" width="1567" height="1263"><use href="#pb" stroke="#ffffff"/></mask></defs>
<g id="curve-b" clip-path="url(#clip-b)" stroke="#990000"><use href="#pb" transform="translate(-1 0)"/><use href="#pb" transform="translate(1.3 0)"/><use href="#pb"/></g>
<g id="reflines-front" stroke="#ffd6d6" fill="none" mask="url(#mask-b)">
<line x1="670.8" y1="2163" x2="670.8" y2="2547" stroke-width="2.6" stroke-dasharray="5.2 3" stroke-dashoffset="4"/>
<line x1="681.5" y1="2232" x2="681.5" y2="2547" stroke-width="2.6" stroke-dasharray="5.2 3" stroke-dashoffset="7.4"/>
<line x1="700.8" y1="2244" x2="700.8" y2="2547" stroke-width="2.6" stroke-dasharray="5.2 3" stroke-dashoffset="3"/>
<line x1="730.9" y1="2391" x2="730.9" y2="2547" stroke-width="2.6" stroke-dasharray="5.2 3" stroke-dashoffset="2.4"/>
<line x1="881" y1="2424" x2="881" y2="2547" stroke-width="2.2" stroke-dasharray="3.4 4.8" stroke-dashoffset="2.6"/>
<line x1="1060.4" y1="2347" x2="1060.4" y2="2547" stroke-width="2.6" stroke-dasharray="5.2 3" stroke-dashoffset="7.6"/>
<line x1="1132.4" y1="2446" x2="1132.4" y2="2547" stroke-width="2.6" stroke-dasharray="5.2 3" stroke-dashoffset="0"/>
<line x1="1230.3" y1="2438" x2="1230.3" y2="2547" stroke-width="2.6" stroke-dasharray="5.2 3" stroke-dashoffset="0.2"/>
</g>
<g id="bars" fill="#ff0000">
<rect x="277.1" y="2950.5" width="7.5" height="22.1"/>
<rect x="328.4" y="2953.9" width="5.5" height="18.7"/>
<rect x="407.6" y="2938.1" width="7.5" height="34.5"/>
<rect x="435.1" y="2938.1" width="7.5" height="34.5"/>
<rect x="499" y="2960.1" width="6" height="12.5"/>
<rect x="511.2" y="2854.3" width="8" height="118.3"/>
<rect x="571.3" y="2932.7" width="8" height="39.9"/>
<rect x="593.3" y="2916" width="8" height="56.6"/>
<rect x="666.8" y="2683.9" width="8" height="288.7"/>
<rect x="677.8" y="2798" width="8" height="174.6"/>
<rect x="697" y="2796.6" width="8" height="176"/>
<rect x="726.7" y="2897.6" width="8" height="75"/>
<rect x="764" y="2949.1" width="7" height="23.5"/>
<rect x="860.8" y="2943.7" width="7.5" height="28.9"/>
<rect x="877" y="2911.2" width="8" height="61.4"/>
<rect x="894.5" y="2961.3" width="6" height="11.3"/>
<rect x="934.1" y="2938.1" width="8" height="34.5"/>
<rect x="943.9" y="2955.9" width="6" height="16.7"/>
<rect x="981" y="2943.7" width="7.5" height="28.9"/>
<rect x="995.6" y="2960.1" width="6" height="12.5"/>
<rect x="1019" y="2949.1" width="7.5" height="23.5"/>
<rect x="1057" y="2882.3" width="8" height="90.3"/>
<rect x="1092.2" y="2921.7" width="8" height="50.9"/>
<rect x="1106.2" y="2950.5" width="7.5" height="22.1"/>
<rect x="1127.9" y="2853.7" width="8" height="118.9"/>
<rect x="1155.3" y="2910.6" width="8" height="62"/>
<rect x="1176.8" y="2932.7" width="8" height="39.9"/>
<rect x="1198.2" y="2921.7" width="6.5" height="50.9"/>
<rect x="1225.1" y="2910.6" width="7" height="62"/>
<rect x="1259.2" y="2955.9" width="7.5" height="16.7"/>
<rect x="1297.4" y="2938.1" width="8" height="34.5"/>
<rect x="1330" y="2943.7" width="7.5" height="28.9"/>
<rect x="1354.8" y="2955.9" width="7.5" height="16.7"/>
<rect x="1403.2" y="2949.1" width="7" height="23.5"/>
<rect x="1416.5" y="2949.1" width="7" height="23.5"/>
<rect x="1447.2" y="2938.4" width="8" height="34.2"/>
<rect x="1482.6" y="2932.4" width="8" height="40.2"/>
<rect x="1494" y="2955.1" width="7" height="17.5"/>
<rect x="1510.2" y="2930.2" width="8" height="42.4"/>
<rect x="1534.4" y="2941.5" width="8" height="31.1"/>
<rect x="1570" y="2955.1" width="7.5" height="17.5"/>
<rect x="1657.3" y="2957.9" width="7.5" height="14.7"/>
<rect x="1708.8" y="2951.9" width="7.5" height="20.7"/>
<rect x="1725.5" y="2955.1" width="7.5" height="17.5"/>
<rect x="1768.8" y="2946.6" width="8" height="26"/>
<rect x="1796.2" y="2959.6" width="4" height="13"/>
</g>
<g id="axes" stroke="#000000" fill="none" stroke-linecap="butt">
<line x1="1797.4" y1="28" x2="1797.4" y2="2972" stroke-width="3.2" stroke="#9a9a9a"/>
<line x1="219.6" y1="25.9" x2="1801.8" y2="25.9" stroke-width="5.6"/>
<line x1="233.5" y1="23.1" x2="233.5" y2="2976.5" stroke-width="5.2"/>
<line x1="208.8" y1="1288.1" x2="1801.8" y2="1288.1" stroke-width="6"/>
<line x1="208.8" y1="2550.5" x2="1801.8" y2="2550.5" stroke-width="6"/>
<line x1="208.8" y1="2973.3" x2="1801.8" y2="2973.3" stroke-width="6.4"/>
<line x1="1800.4" y1="23.1" x2="1800.4" y2="2976.5" stroke-width="2.8"/>
<line x1="219.6" y1="1250.9" x2="232" y2="1250.9" stroke-width="3.2"/>
<line x1="219.6" y1="1213.8" x2="232" y2="1213.8" stroke-width="3.2"/>
<line x1="219.6" y1="1176.6" x2="232" y2="1176.6" stroke-width="3.2"/>
<line x1="219.6" y1="1139.5" x2="232" y2="1139.5" stroke-width="3.2"/>
<line x1="208.8" y1="1102.3" x2="232" y2="1102.3" stroke-width="4.6"/>
<line x1="219.6" y1="1065.2" x2="232" y2="1065.2" stroke-width="3.2"/>
<line x1="219.6" y1="1028" x2="232" y2="1028" stroke-width="3.2"/>
<line x1="219.6" y1="990.8" x2="232" y2="990.8" stroke-width="3.2"/>
<line x1="219.6" y1="953.7" x2="232" y2="953.7" stroke-width="3.2"/>
<line x1="208.8" y1="916.5" x2="232" y2="916.5" stroke-width="4.6"/>
<line x1="219.6" y1="879.4" x2="232" y2="879.4" stroke-width="3.2"/>
<line x1="219.6" y1="842.2" x2="232" y2="842.2" stroke-width="3.2"/>
<line x1="219.6" y1="805.1" x2="232" y2="805.1" stroke-width="3.2"/>
<line x1="219.6" y1="767.9" x2="232" y2="767.9" stroke-width="3.2"/>
<line x1="208.8" y1="730.7" x2="232" y2="730.7" stroke-width="4.6"/>
<line x1="219.6" y1="693.6" x2="232" y2="693.6" stroke-width="3.2"/>
<line x1="219.6" y1="656.4" x2="232" y2="656.4" stroke-width="3.2"/>
<line x1="219.6" y1="619.3" x2="232" y2="619.3" stroke-width="3.2"/>
<line x1="219.6" y1="582.1" x2="232" y2="582.1" stroke-width="3.2"/>
<line x1="208.8" y1="545" x2="232" y2="545" stroke-width="4.6"/>
<line x1="219.6" y1="507.8" x2="232" y2="507.8" stroke-width="3.2"/>
<line x1="219.6" y1="470.6" x2="232" y2="470.6" stroke-width="3.2"/>
<line x1="219.6" y1="433.5" x2="232" y2="433.5" stroke-width="3.2"/>
<line x1="219.6" y1="396.3" x2="232" y2="396.3" stroke-width="3.2"/>
<line x1="208.8" y1="359.2" x2="232" y2="359.2" stroke-width="4.6"/>
<line x1="219.6" y1="322" x2="232" y2="322" stroke-width="3.2"/>
<line x1="219.6" y1="284.9" x2="232" y2="284.9" stroke-width="3.2"/>
<line x1="219.6" y1="247.7" x2="232" y2="247.7" stroke-width="3.2"/>
<line x1="219.6" y1="210.5" x2="232" y2="210.5" stroke-width="3.2"/>
<line x1="208.8" y1="173.4" x2="232" y2="173.4" stroke-width="4.6"/>
<line x1="219.6" y1="136.2" x2="232" y2="136.2" stroke-width="3.2"/>
<line x1="219.6" y1="99.1" x2="232" y2="99.1" stroke-width="3.2"/>
<line x1="219.6" y1="61.9" x2="232" y2="61.9" stroke-width="3.2"/>
<line x1="219.6" y1="2516.1" x2="232" y2="2516.1" stroke-width="3.2"/>
<line x1="219.6" y1="2481.7" x2="232" y2="2481.7" stroke-width="3.2"/>
<line x1="219.6" y1="2447.3" x2="232" y2="2447.3" stroke-width="3.2"/>
<line x1="219.6" y1="2412.9" x2="232" y2="2412.9" stroke-width="3.2"/>
<line x1="208.8" y1="2378.4" x2="232" y2="2378.4" stroke-width="4.6"/>
<line x1="219.6" y1="2344" x2="232" y2="2344" stroke-width="3.2"/>
<line x1="219.6" y1="2309.6" x2="232" y2="2309.6" stroke-width="3.2"/>
<line x1="219.6" y1="2275.2" x2="232" y2="2275.2" stroke-width="3.2"/>
<line x1="219.6" y1="2240.8" x2="232" y2="2240.8" stroke-width="3.2"/>
<line x1="208.8" y1="2206.4" x2="232" y2="2206.4" stroke-width="4.6"/>
<line x1="219.6" y1="2172" x2="232" y2="2172" stroke-width="3.2"/>
<line x1="219.6" y1="2137.6" x2="232" y2="2137.6" stroke-width="3.2"/>
<line x1="219.6" y1="2103.2" x2="232" y2="2103.2" stroke-width="3.2"/>
<line x1="219.6" y1="2068.8" x2="232" y2="2068.8" stroke-width="3.2"/>
<line x1="208.8" y1="2034.3" x2="232" y2="2034.3" stroke-width="4.6"/>
<line x1="219.6" y1="1999.9" x2="232" y2="1999.9" stroke-width="3.2"/>
<line x1="219.6" y1="1965.5" x2="232" y2="1965.5" stroke-width="3.2"/>
<line x1="219.6" y1="1931.1" x2="232" y2="1931.1" stroke-width="3.2"/>
<line x1="219.6" y1="1896.7" x2="232" y2="1896.7" stroke-width="3.2"/>
<line x1="208.8" y1="1862.3" x2="232" y2="1862.3" stroke-width="4.6"/>
<line x1="219.6" y1="1827.9" x2="232" y2="1827.9" stroke-width="3.2"/>
<line x1="219.6" y1="1793.5" x2="232" y2="1793.5" stroke-width="3.2"/>
<line x1="219.6" y1="1759.1" x2="232" y2="1759.1" stroke-width="3.2"/>
<line x1="219.6" y1="1724.7" x2="232" y2="1724.7" stroke-width="3.2"/>
<line x1="208.8" y1="1690.2" x2="232" y2="1690.2" stroke-width="4.6"/>
<line x1="219.6" y1="1655.8" x2="232" y2="1655.8" stroke-width="3.2"/>
<line x1="219.6" y1="1621.4" x2="232" y2="1621.4" stroke-width="3.2"/>
<line x1="219.6" y1="1587" x2="232" y2="1587" stroke-width="3.2"/>
<line x1="219.6" y1="1552.6" x2="232" y2="1552.6" stroke-width="3.2"/>
<line x1="208.8" y1="1518.2" x2="232" y2="1518.2" stroke-width="4.6"/>
<line x1="219.6" y1="1483.8" x2="232" y2="1483.8" stroke-width="3.2"/>
<line x1="219.6" y1="1449.4" x2="232" y2="1449.4" stroke-width="3.2"/>
<line x1="219.6" y1="1415" x2="232" y2="1415" stroke-width="3.2"/>
<line x1="219.6" y1="1380.6" x2="232" y2="1380.6" stroke-width="3.2"/>
<line x1="208.8" y1="1346.1" x2="232" y2="1346.1" stroke-width="4.6"/>
<line x1="219.6" y1="1311.7" x2="232" y2="1311.7" stroke-width="3.2"/>
<line x1="219.6" y1="2944.3" x2="232" y2="2944.3" stroke-width="3.2"/>
<line x1="219.6" y1="2916" x2="232" y2="2916" stroke-width="3.2"/>
<line x1="219.6" y1="2887.7" x2="232" y2="2887.7" stroke-width="3.2"/>
<line x1="219.6" y1="2859.4" x2="232" y2="2859.4" stroke-width="3.2"/>
<line x1="208.8" y1="2831.1" x2="232" y2="2831.1" stroke-width="4.6"/>
<line x1="219.6" y1="2802.8" x2="232" y2="2802.8" stroke-width="3.2"/>
<line x1="219.6" y1="2774.5" x2="232" y2="2774.5" stroke-width="3.2"/>
<line x1="219.6" y1="2746.2" x2="232" y2="2746.2" stroke-width="3.2"/>
<line x1="219.6" y1="2717.9" x2="232" y2="2717.9" stroke-width="3.2"/>
<line x1="208.8" y1="2689.6" x2="232" y2="2689.6" stroke-width="4.6"/>
<line x1="219.6" y1="2661.3" x2="232" y2="2661.3" stroke-width="3.2"/>
<line x1="219.6" y1="2633" x2="232" y2="2633" stroke-width="3.2"/>
<line x1="219.6" y1="2604.7" x2="232" y2="2604.7" stroke-width="3.2"/>
<line x1="219.6" y1="2576.4" x2="232" y2="2576.4" stroke-width="3.2"/>
<line x1="259.7" y1="1290.1" x2="259.7" y2="1298.7" stroke-width="3.6"/>
<line x1="311.9" y1="1290.1" x2="311.9" y2="1298.7" stroke-width="3.6"/>
<line x1="364.1" y1="1290.1" x2="364.1" y2="1312.6" stroke-width="4.4"/>
<line x1="416.4" y1="1290.1" x2="416.4" y2="1298.7" stroke-width="3.6"/>
<line x1="468.6" y1="1290.1" x2="468.6" y2="1298.7" stroke-width="3.6"/>
<line x1="520.8" y1="1290.1" x2="520.8" y2="1298.7" stroke-width="3.6"/>
<line x1="573" y1="1290.1" x2="573" y2="1298.7" stroke-width="3.6"/>
<line x1="625.2" y1="1290.1" x2="625.2" y2="1312.6" stroke-width="4.4"/>
<line x1="677.5" y1="1290.1" x2="677.5" y2="1298.7" stroke-width="3.6"/>
<line x1="729.7" y1="1290.1" x2="729.7" y2="1298.7" stroke-width="3.6"/>
<line x1="781.9" y1="1290.1" x2="781.9" y2="1298.7" stroke-width="3.6"/>
<line x1="834.1" y1="1290.1" x2="834.1" y2="1298.7" stroke-width="3.6"/>
<line x1="886.4" y1="1290.1" x2="886.4" y2="1312.6" stroke-width="4.4"/>
<line x1="938.6" y1="1290.1" x2="938.6" y2="1298.7" stroke-width="3.6"/>
<line x1="990.8" y1="1290.1" x2="990.8" y2="1298.7" stroke-width="3.6"/>
<line x1="1043" y1="1290.1" x2="1043" y2="1298.7" stroke-width="3.6"/>
<line x1="1095.2" y1="1290.1" x2="1095.2" y2="1298.7" stroke-width="3.6"/>
<line x1="1147.5" y1="1290.1" x2="1147.5" y2="1312.6" stroke-width="4.4"/>
<line x1="1199.7" y1="1290.1" x2="1199.7" y2="1298.7" stroke-width="3.6"/>
<line x1="1251.9" y1="1290.1" x2="1251.9" y2="1298.7" stroke-width="3.6"/>
<line x1="1304.1" y1="1290.1" x2="1304.1" y2="1298.7" stroke-width="3.6"/>
<line x1="1356.3" y1="1290.1" x2="1356.3" y2="1298.7" stroke-width="3.6"/>
<line x1="1408.6" y1="1290.1" x2="1408.6" y2="1312.6" stroke-width="4.4"/>
<line x1="1460.8" y1="1290.1" x2="1460.8" y2="1298.7" stroke-width="3.6"/>
<line x1="1513" y1="1290.1" x2="1513" y2="1298.7" stroke-width="3.6"/>
<line x1="1565.2" y1="1290.1" x2="1565.2" y2="1298.7" stroke-width="3.6"/>
<line x1="1617.4" y1="1290.1" x2="1617.4" y2="1298.7" stroke-width="3.6"/>
<line x1="1669.7" y1="1290.1" x2="1669.7" y2="1312.6" stroke-width="4.4"/>
<line x1="1721.9" y1="1290.1" x2="1721.9" y2="1298.7" stroke-width="3.6"/>
<line x1="1774.1" y1="1290.1" x2="1774.1" y2="1298.7" stroke-width="3.6"/>
<line x1="259.7" y1="2552.5" x2="259.7" y2="2563.8" stroke-width="3.6"/>
<line x1="311.9" y1="2552.5" x2="311.9" y2="2563.8" stroke-width="3.6"/>
<line x1="364.1" y1="2552.5" x2="364.1" y2="2574.5" stroke-width="4.4"/>
<line x1="416.4" y1="2552.5" x2="416.4" y2="2563.8" stroke-width="3.6"/>
<line x1="468.6" y1="2552.5" x2="468.6" y2="2563.8" stroke-width="3.6"/>
<line x1="520.8" y1="2552.5" x2="520.8" y2="2563.8" stroke-width="3.6"/>
<line x1="573" y1="2552.5" x2="573" y2="2563.8" stroke-width="3.6"/>
<line x1="625.2" y1="2552.5" x2="625.2" y2="2574.5" stroke-width="4.4"/>
<line x1="677.5" y1="2552.5" x2="677.5" y2="2563.8" stroke-width="3.6"/>
<line x1="729.7" y1="2552.5" x2="729.7" y2="2563.8" stroke-width="3.6"/>
<line x1="781.9" y1="2552.5" x2="781.9" y2="2563.8" stroke-width="3.6"/>
<line x1="834.1" y1="2552.5" x2="834.1" y2="2563.8" stroke-width="3.6"/>
<line x1="886.4" y1="2552.5" x2="886.4" y2="2574.5" stroke-width="4.4"/>
<line x1="938.6" y1="2552.5" x2="938.6" y2="2563.8" stroke-width="3.6"/>
<line x1="990.8" y1="2552.5" x2="990.8" y2="2563.8" stroke-width="3.6"/>
<line x1="1043" y1="2552.5" x2="1043" y2="2563.8" stroke-width="3.6"/>
<line x1="1095.2" y1="2552.5" x2="1095.2" y2="2563.8" stroke-width="3.6"/>
<line x1="1147.5" y1="2552.5" x2="1147.5" y2="2574.5" stroke-width="4.4"/>
<line x1="1199.7" y1="2552.5" x2="1199.7" y2="2563.8" stroke-width="3.6"/>
<line x1="1251.9" y1="2552.5" x2="1251.9" y2="2563.8" stroke-width="3.6"/>
<line x1="1304.1" y1="2552.5" x2="1304.1" y2="2563.8" stroke-width="3.6"/>
<line x1="1356.3" y1="2552.5" x2="1356.3" y2="2563.8" stroke-width="3.6"/>
<line x1="1408.6" y1="2552.5" x2="1408.6" y2="2574.5" stroke-width="4.4"/>
<line x1="1460.8" y1="2552.5" x2="1460.8" y2="2563.8" stroke-width="3.6"/>
<line x1="1513" y1="2552.5" x2="1513" y2="2563.8" stroke-width="3.6"/>
<line x1="1565.2" y1="2552.5" x2="1565.2" y2="2563.8" stroke-width="3.6"/>
<line x1="1617.4" y1="2552.5" x2="1617.4" y2="2563.8" stroke-width="3.6"/>
<line x1="1669.7" y1="2552.5" x2="1669.7" y2="2574.5" stroke-width="4.4"/>
<line x1="1721.9" y1="2552.5" x2="1721.9" y2="2563.8" stroke-width="3.6"/>
<line x1="1774.1" y1="2552.5" x2="1774.1" y2="2563.8" stroke-width="3.6"/>
<line x1="259.7" y1="2975.5" x2="259.7" y2="2984.1" stroke-width="3.6"/>
<line x1="311.9" y1="2975.5" x2="311.9" y2="2984.1" stroke-width="3.6"/>
<line x1="364.1" y1="2975.5" x2="364.1" y2="2998" stroke-width="4.4"/>
<line x1="416.4" y1="2975.5" x2="416.4" y2="2984.1" stroke-width="3.6"/>
<line x1="468.6" y1="2975.5" x2="468.6" y2="2984.1" stroke-width="3.6"/>
<line x1="520.8" y1="2975.5" x2="520.8" y2="2984.1" stroke-width="3.6"/>
<line x1="573" y1="2975.5" x2="573" y2="2984.1" stroke-width="3.6"/>
<line x1="625.2" y1="2975.5" x2="625.2" y2="2998" stroke-width="4.4"/>
<line x1="677.5" y1="2975.5" x2="677.5" y2="2984.1" stroke-width="3.6"/>
<line x1="729.7" y1="2975.5" x2="729.7" y2="2984.1" stroke-width="3.6"/>
<line x1="781.9" y1="2975.5" x2="781.9" y2="2984.1" stroke-width="3.6"/>
<line x1="834.1" y1="2975.5" x2="834.1" y2="2984.1" stroke-width="3.6"/>
<line x1="886.4" y1="2975.5" x2="886.4" y2="2998" stroke-width="4.4"/>
<line x1="938.6" y1="2975.5" x2="938.6" y2="2984.1" stroke-width="3.6"/>
<line x1="990.8" y1="2975.5" x2="990.8" y2="2984.1" stroke-width="3.6"/>
<line x1="1043" y1="2975.5" x2="1043" y2="2984.1" stroke-width="3.6"/>
<line x1="1095.2" y1="2975.5" x2="1095.2" y2="2984.1" stroke-width="3.6"/>
<line x1="1147.5" y1="2975.5" x2="1147.5" y2="2998" stroke-width="4.4"/>
<line x1="1199.7" y1="2975.5" x2="1199.7" y2="2984.1" stroke-width="3.6"/>
<line x1="1251.9" y1="2975.5" x2="1251.9" y2="2984.1" stroke-width="3.6"/>
<line x1="1304.1" y1="2975.5" x2="1304.1" y2="2984.1" stroke-width="3.6"/>
<line x1="1356.3" y1="2975.5" x2="1356.3" y2="2984.1" stroke-width="3.6"/>
<line x1="1408.6" y1="2975.5" x2="1408.6" y2="2998" stroke-width="4.4"/>
<line x1="1460.8" y1="2975.5" x2="1460.8" y2="2984.1" stroke-width="3.6"/>
<line x1="1513" y1="2975.5" x2="1513" y2="2984.1" stroke-width="3.6"/>
<line x1="1565.2" y1="2975.5" x2="1565.2" y2="2984.1" stroke-width="3.6"/>
<line x1="1617.4" y1="2975.5" x2="1617.4" y2="2984.1" stroke-width="3.6"/>
<line x1="1669.7" y1="2975.5" x2="1669.7" y2="2998" stroke-width="4.4"/>
<line x1="1721.9" y1="2975.5" x2="1721.9" y2="2984.1" stroke-width="3.6"/>
<line x1="1774.1" y1="2975.5" x2="1774.1" y2="2984.1" stroke-width="3.6"/>
</g>
<g id="ticklabels" font-size="55.5" fill="#000">
<text transform="translate(189.6 1117.6) scale(0.955 1)" text-anchor="end">5</text>
<text transform="translate(189.6 931.8) scale(0.955 1)" text-anchor="end">10</text>
<text transform="translate(189.6 746) scale(0.955 1)" text-anchor="end">15</text>
<text transform="translate(189.6 560.3) scale(0.955 1)" text-anchor="end">20</text>
<text transform="translate(189.6 374.5) scale(0.955 1)" text-anchor="end">25</text>
<text transform="translate(189.6 188.7) scale(0.955 1)" text-anchor="end">30</text>
<text transform="translate(189.6 1304) scale(0.955 1)" text-anchor="end">0</text>
<text transform="translate(189.6 2393.8) scale(0.955 1)" text-anchor="end">30</text>
<text transform="translate(189.6 2221.7) scale(0.955 1)" text-anchor="end">60</text>
<text transform="translate(189.6 2049.7) scale(0.955 1)" text-anchor="end">90</text>
<text transform="translate(189.6 1877.6) scale(0.955 1)" text-anchor="end">120</text>
<text transform="translate(189.6 1705.5) scale(0.955 1)" text-anchor="end">150</text>
<text transform="translate(189.6 1533.5) scale(0.955 1)" text-anchor="end">180</text>
<text transform="translate(189.6 1361.4) scale(0.955 1)" text-anchor="end">210</text>
<text transform="translate(189.6 2567) scale(0.955 1)" text-anchor="end">0</text>
<text transform="translate(189.6 2846.6) scale(0.955 1)" text-anchor="end">50</text>
<text transform="translate(189.6 2705.1) scale(0.955 1)" text-anchor="end">100</text>
<text transform="translate(189.6 2988.6) scale(0.955 1)" text-anchor="end">0</text>
<text transform="translate(362.9 3056.8) scale(0.955 1)" text-anchor="middle">20</text>
<text transform="translate(624 3056.8) scale(0.955 1)" text-anchor="middle">30</text>
<text transform="translate(885.2 3056.8) scale(0.955 1)" text-anchor="middle">40</text>
<text transform="translate(1146.2 3056.8) scale(0.955 1)" text-anchor="middle">50</text>
<text transform="translate(1407.4 3056.8) scale(0.955 1)" text-anchor="middle">60</text>
<text transform="translate(1668.5 3056.8) scale(0.955 1)" text-anchor="middle">70</text>
</g>
<g id="titles" font-weight="bold" font-size="65" fill="#000">
<text transform="translate(85.2 625) rotate(-90)" text-anchor="middle">Intensity (counts/s)</text>
<text transform="translate(70.9 1889) rotate(-90)" text-anchor="middle">Intensity (counts/s)</text>
<text transform="translate(75.3 2760.5) rotate(-90)" text-anchor="middle">Intensity (%)</text>
<text x="801.5" y="3131.2">2</text>
<text x="840" y="3131.2" style="font-family:Liberation Serif, serif;font-weight:normal;font-size:70px">θ</text>
<text x="891.2" y="3131.2" textLength="131" lengthAdjust="spacingAndGlyphs">CuK</text>
<text x="1026" y="3149.8" style="font-family:Liberation Serif, serif;font-weight:normal;font-size:48px">α</text>
<text x="1070" y="3131.2">(deg)</text>
</g>
<g id="hkl-a" font-size="42" fill="#000">
<text transform="translate(536.5 400.7) rotate(-90)">002</text>
<text transform="translate(612.2 435) rotate(-90)">210</text>
<text transform="translate(663.7 130.3) rotate(-90)">211</text>
<text transform="translate(697 130.3) rotate(-90)">112</text>
<text transform="translate(729.9 130.3) rotate(-90)">300</text>
<text transform="translate(754.4 531.5) rotate(-90)">202</text>
<text transform="translate(891.2 807) rotate(-90)">310</text>
<text transform="translate(1078.7 791.7) rotate(-90)">222</text>
<text transform="translate(1152.9 788.5) rotate(-90)">213</text>
<text transform="translate(1250.5 887.3) rotate(-90)">004</text>
<text transform="translate(1534.8 1007.5) rotate(-90)">304</text>
</g>
<g id="hkl-c" font-size="42" fill="#000">
<text transform="translate(295.8 2950.5) rotate(-90)">101</text>
<text transform="translate(348 2956.1) rotate(-90)">110</text>
<text transform="translate(420.8 2935.5) rotate(-90)">200</text>
<text transform="translate(454.3 2936.8) rotate(-90)">111</text>
<text transform="translate(530.7 2853) rotate(-90)">002</text>
<text transform="translate(585.1 2935.5) rotate(-90)">102</text>
<text transform="translate(620 2916.2) rotate(-90)">210</text>
<text transform="translate(683.1 2680) rotate(-90)">211</text>
<text transform="translate(708 2795.3) rotate(-90)">112</text>
<text transform="translate(717.4 2695.1) rotate(-90)">300</text>
<text transform="translate(746.3 2898.4) rotate(-90)">202</text>
<text transform="translate(783.4 2949.7) rotate(-90)">301</text>
<text transform="translate(865.8 2941) rotate(-90)">212</text>
<text transform="translate(899.3 2902.5) rotate(-90)">310</text>
<text transform="translate(953.1 2938.2) rotate(-90)">311</text>
<text transform="translate(997.6 2943.7) rotate(-90)">113</text>
<text transform="translate(1038.4 2950.5) rotate(-90)">203</text>
<text transform="translate(1076.8 2880.5) rotate(-90)">222</text>
<text transform="translate(1109.8 2920.3) rotate(-90)">312</text>
<text transform="translate(1120.8 2791.2) rotate(-90)">320</text>
<text transform="translate(1151 2844.8) rotate(-90)">213</text>
<text transform="translate(1177.6 2910.7) rotate(-90)">321</text>
<text transform="translate(1195 2794) rotate(-90)">410</text>
<text transform="translate(1216.4 2917.6) rotate(-90)">402</text>
<text transform="translate(1250.7 2909.4) rotate(-90)">004</text>
<text transform="translate(1280.9 2957.5) rotate(-90)">104</text>
<text transform="translate(1314.5 2934.1) rotate(-90)">322</text>
<text transform="translate(1346 2945.1) rotate(-90)">313</text>
<text transform="translate(1379 2954.7) rotate(-90)">501</text>
<text transform="translate(1410.8 2944.4) rotate(-90)">420</text>
<text transform="translate(1442 2944.4) rotate(-90)">331</text>
<text transform="translate(1472.2 2933.8) rotate(-90)">214</text>
<text transform="translate(1504.6 2929.2) rotate(-90)">502</text>
<text transform="translate(1537.4 2929.2) rotate(-90)">304</text>
<text transform="translate(1564.6 2942.9) rotate(-90)">511</text>
<text transform="translate(1597.3 2956.5) rotate(-90)">413</text>
<text transform="translate(1515.2 2794.5) rotate(-90)">510</text>
<text transform="translate(1678.5 2958) rotate(-90)">512</text>
<text transform="translate(1725.1 2950.5) rotate(-90)">404</text>
<text transform="translate(1747 2803.5) rotate(-90)">205</text>
<text transform="translate(1788.4 2944.4) rotate(-90)">423</text>
</g>
<g id="arrows" stroke="#008b8b" fill="none" stroke-width="2.6">
<line x1="701" y1="2796" x2="701" y2="2702"/>
<path d="M697.4 2709 L701 2696 L704.6 2709 Z" fill="#008b8b" stroke="none"/>
<path d="M699 2704 L693 2727 M703 2704 L709 2727" stroke-width="2" stroke-dasharray="5 4"/>
<line x1="1110.4" y1="2950" x2="1110.4" y2="2803"/>
<path d="M1106.8 2810 L1110.4 2797 L1114 2810 Z" fill="#008b8b" stroke="none"/>
<path d="M1108.4 2805 L1102.4 2828 M1112.4 2805 L1118.4 2828" stroke-width="2" stroke-dasharray="5 4"/>
<line x1="1180.8" y1="2932" x2="1180.8" y2="2803"/>
<path d="M1177.2 2810 L1180.8 2797 L1184.4 2810 Z" fill="#008b8b" stroke="none"/>
<path d="M1178.8 2805 L1172.8 2828 M1182.8 2805 L1188.8 2828" stroke-width="2" stroke-dasharray="5 4"/>
<path d="M1495.2 2810 L1498.8 2797 L1502.4 2810 Z" fill="#008b8b" stroke="none"/>
<path d="M1496.8 2805 L1490.8 2828 M1500.8 2805 L1506.8 2828" stroke-width="2" stroke-dasharray="5 4"/>
<line x1="1729.8" y1="2955" x2="1729.8" y2="2810"/>
<path d="M1726.2 2817 L1729.8 2804 L1733.4 2817 Z" fill="#008b8b" stroke="none"/>
<path d="M1727.8 2812 L1721.8 2835 M1731.8 2812 L1737.8 2835" stroke-width="2" stroke-dasharray="5 4"/>
</g>
<rect x="252.2" y="44.9" width="117.4" height="117.1" fill="#c0c0c0"/>
<path d="M252.2 46.1 H369.6 M252.2 160.8 H369.6 M253.4 44.9 V162 M368.4 44.9 V162" stroke="#000" stroke-width="2.4" fill="none"/>
<text x="309.9" y="128.8" font-size="80" text-anchor="middle" fill="#000">(a)</text>
<rect x="252.5" y="1318.6" width="117" height="116.8" fill="#c0c0c0"/>
<path d="M252.5 1319.8 H369.5 M252.5 1434.2 H369.5 M253.7 1318.6 V1435.4 M368.3 1318.6 V1435.4" stroke="#000" stroke-width="2.4" fill="none"/>
<text x="309.3" y="1405" font-size="80" text-anchor="middle" fill="#000">(b)</text>
<rect x="252.5" y="2581.9" width="117.1" height="115.8" fill="#c0c0c0"/>
<path d="M252.5 2583.1 H369.6 M253.7 2581.9 V2697.7 M368.4 2581.9 V2697.7" stroke="#000" stroke-width="2.4" fill="none"/>
<text x="312.3" y="2666" font-size="75" text-anchor="middle" fill="#000">(c)</text>
<rect x="1158.2" y="187.2" width="116.7" height="116.7" fill="#c0c0c0"/>
<path d="M1158.2 188.4 H1274.9 M1273.7 187.2 V303.9" stroke="#000" stroke-width="2.4" fill="none"/>
<text x="1204.5" y="257.7" font-size="76" text-anchor="middle" fill="#000">(d)</text>
<rect x="1158.2" y="2226.4" width="116.8" height="116.7" fill="#c0c0c0"/>
<path d="M1158.2 2341.9 H1275 M1273.8 2226.4 V2343.1" stroke="#000" stroke-width="2.4" fill="none"/>
<text x="1207" y="2324.7" font-size="80" text-anchor="middle" fill="#000">(e)</text>
<rect x="1510.2" y="836" width="281" height="84.2" fill="#ffe9a8"/>
<path d="M1510.2 918.8 H1791.2 M1511.6 836 V920.2 M1789.8 836 V920.2" stroke="#000" stroke-width="2.8" fill="none"/>
<path d="M1511.6 836.7 H1789.8" stroke="#b9ad86" stroke-width="1.4" fill="none"/>
<text x="1518.6" y="898.3" font-size="61" fill="#0000ff" textLength="266" lengthAdjust="spacingAndGlyphs">10MgHAp</text>
<rect x="1308.2" y="2289.2" width="485.8" height="84" fill="#ffe9a8"/>
<path d="M1308.2 2290.4 H1794 M1308.2 2372 H1794 M1309.4 2289.2 V2373.2 M1792.8 2289.2 V2373.2" stroke="#000" stroke-width="2.4" fill="none"/>
<text x="1316.2" y="2351.8" font-size="61" fill="#990000" textLength="468" lengthAdjust="spacingAndGlyphs">HAp - NIST2910b</text>
<rect x="1109.6" y="2577.5" width="682.8" height="82.1" fill="#ffe9a8"/>
<path d="M1110.8 2577.5 V2659.6 M1791.2 2577.5 V2659.6" stroke="#000" stroke-width="2.4" fill="none"/>
<path d="M1110.8 2578.2 H1791.2" stroke="#b9ad86" stroke-width="1.4" fill="none"/>
<text x="1117.5" y="2639.3" font-size="61" fill="#ff0000" textLength="665.5" lengthAdjust="spacingAndGlyphs">HAp - ICDD:00-009-0432</text>
<g id="inset-d">
<rect x="1239.9" y="265.8" width="553.9" height="547.8" fill="#0000ff"/>
<rect x="1251" y="274" width="534.5" height="531.4" fill="#000"/>
<defs><linearGradient id="inset-d-g" gradientUnits="userSpaceOnUse" x1="1669.5" y1="328.7" x2="1369.5" y2="747.4"><stop offset="0" stop-color="#2eea2e"/><stop offset="0.22" stop-color="#26d626"/><stop offset="0.36" stop-color="#1cb01c"/><stop offset="0.5" stop-color="#138413"/><stop offset="0.62" stop-color="#0d620d"/><stop offset="0.76" stop-color="#0a4c0a"/><stop offset="1" stop-color="#083e08"/></linearGradient>
<clipPath id="inset-d-c"><path d="M1519.5 328.7 L1499.5 331.7 L1492.9 334.7 L1488.2 337.7 L1484.1 340.7 L1480.6 343.7 L1477.5 346.7 L1474.7 349.7 L1472.3 352.7 L1470 355.7 L1467.8 358.7 L1465.7 361.7 L1463.8 364.7 L1462.3 367.7 L1461.1 370.7 L1459.8 373.7 L1458.6 376.7 L1457.5 379.7 L1456.3 382.7 L1455.2 385.7 L1454.4 388.7 L1453.7 391.7 L1453.1 394.7 L1452.5 397.7 L1451.9 400.6 L1451.3 403.6 L1450.8 406.6 L1450.3 409.6 L1450.1 412.6 L1450 415.6 L1449.8 418.6 L1449.7 421.6 L1449.5 424.6 L1449.4 427.6 L1449.2 430.6 L1449.1 433.6 L1448.9 436.6 L1448.8 439.6 L1448.6 442.6 L1448.5 445.6 L1448.3 448.6 L1448.2 451.6 L1448 454.6 L1447.8 457.6 L1447.5 460.6 L1447.3 463.6 L1447.1 466.6 L1446.6 469.6 L1445.9 472.6 L1444.6 475.6 L1441.3 478.6 L1436.1 481.6 L1429.5 484.6 L1421.8 487.6 L1414.6 490.6 L1408.1 493.6 L1402.2 496.6 L1396.8 499.6 L1392 502.6 L1387.6 505.6 L1384 508.6 L1381.2 511.6 L1378.8 514.6 L1376.7 517.6 L1375.2 520.6 L1374.5 523.6 L1373.8 526.6 L1373.2 529.6 L1372.6 532.6 L1372.6 535.6 L1373 538.5 L1373.5 541.5 L1374 544.5 L1374.9 547.5 L1376.3 550.5 L1378.1 553.5 L1380 556.5 L1382.4 559.5 L1385.5 562.5 L1388.8 565.5 L1392.4 568.5 L1396.5 571.5 L1401.2 574.5 L1406 577.5 L1411.2 580.5 L1416.9 583.5 L1422.9 586.5 L1428.9 589.5 L1435 592.5 L1440.1 595.5 L1443.8 598.5 L1446 601.5 L1447.2 604.5 L1447.7 607.5 L1448.2 610.5 L1448.6 613.5 L1449 616.5 L1449.3 619.5 L1449.4 622.5 L1449.6 625.5 L1449.7 628.5 L1449.9 631.5 L1450 634.5 L1450.2 637.5 L1450.4 640.5 L1450.7 643.5 L1451 646.5 L1451.3 649.5 L1451.6 652.5 L1451.9 655.5 L1452.2 658.5 L1452.6 661.5 L1453.1 664.5 L1453.6 667.5 L1454.2 670.5 L1454.8 673.5 L1455.4 676.5 L1456 679.4 L1456.7 682.4 L1457.6 685.4 L1458.7 688.4 L1459.9 691.4 L1461.1 694.4 L1462.3 697.4 L1463.5 700.4 L1464.8 703.4 L1466.2 706.4 L1467.9 709.4 L1469.7 712.4 L1471.5 715.4 L1473.4 718.4 L1475.4 721.4 L1477.7 724.4 L1480.4 727.4 L1483.3 730.4 L1486.4 733.4 L1490 736.4 L1494.3 739.4 L1499.3 742.4 L1506.7 745.4 L1519.5 747.4 L1519.5 747.4 L1535.2 744.4 L1541.5 741.4 L1546.2 738.4 L1550.2 735.4 L1553.7 732.4 L1556.7 729.4 L1559.5 726.4 L1562.1 723.4 L1564.3 720.4 L1566.2 717.4 L1568.1 714.4 L1569.9 711.4 L1571.7 708.4 L1573.3 705.4 L1574.6 702.4 L1575.9 699.4 L1577.1 696.4 L1578.3 693.4 L1579.5 690.4 L1580.6 687.4 L1581.7 684.4 L1582.5 681.4 L1583.2 678.4 L1583.8 675.5 L1584.4 672.5 L1585 669.5 L1585.6 666.5 L1586.1 663.5 L1586.6 660.5 L1586.9 657.5 L1587.2 654.5 L1587.5 651.5 L1587.8 648.5 L1588.1 645.5 L1588.4 642.5 L1588.7 639.5 L1588.9 636.5 L1589 633.5 L1589.2 630.5 L1589.3 627.5 L1589.5 624.5 L1589.6 621.5 L1589.8 618.5 L1590.1 615.5 L1590.6 612.5 L1591 609.5 L1591.4 606.5 L1592.1 603.5 L1593.7 600.5 L1596.3 597.5 L1600.5 594.5 L1606 591.5 L1612.1 588.5 L1618.2 585.5 L1624.1 582.5 L1629.5 579.5 L1634.6 576.5 L1639.4 573.5 L1643.9 570.5 L1647.9 567.5 L1651.3 564.5 L1654.6 561.5 L1657.5 558.5 L1659.7 555.5 L1661.5 552.5 L1663.2 549.5 L1664.5 546.5 L1665.2 543.5 L1665.7 540.5 L1666.2 537.6 L1666.5 534.6 L1666.2 531.6 L1665.6 528.6 L1665 525.6 L1664.3 522.6 L1663.4 519.6 L1661.7 516.6 L1659.4 513.6 L1656.9 510.6 L1653.9 507.6 L1650 504.6 L1645.5 501.6 L1640.5 498.6 L1634.9 495.6 L1628.8 492.6 L1622.1 489.6 L1614.5 486.6 L1607.2 483.6 L1600.9 480.6 L1596.3 477.6 L1593.7 474.6 L1592.9 471.6 L1592.2 468.6 L1591.8 465.6 L1591.6 462.6 L1591.4 459.6 L1591.2 456.6 L1591 453.6 L1590.8 450.6 L1590.6 447.6 L1590.5 444.6 L1590.3 441.6 L1590.2 438.6 L1590 435.6 L1589.9 432.6 L1589.7 429.6 L1589.6 426.6 L1589.4 423.6 L1589.3 420.6 L1589.1 417.6 L1589 414.6 L1588.8 411.6 L1588.5 408.6 L1588.1 405.6 L1587.5 402.6 L1586.9 399.6 L1586.3 396.7 L1585.7 393.7 L1585.1 390.7 L1584.4 387.7 L1583.4 384.7 L1582.3 381.7 L1581.1 378.7 L1580 375.7 L1578.8 372.7 L1577.5 369.7 L1576.2 366.7 L1574.6 363.7 L1572.6 360.7 L1570.5 357.7 L1568.3 354.7 L1565.9 351.7 L1563.4 348.7 L1560.5 345.7 L1557.2 342.7 L1553.6 339.7 L1549.3 336.7 L1544.1 333.7 L1536.7 330.7 Z"/></clipPath></defs>
<line x1="1520.5" y1="274" x2="1520.5" y2="330.7" stroke="#505050" stroke-width="1.8"/>
<line x1="1667" y1="539.6" x2="1741" y2="539.6" stroke="#444444" stroke-width="1.8"/>
<path d="M1519.5 328.7 L1499.5 331.7 L1492.9 334.7 L1488.2 337.7 L1484.1 340.7 L1480.6 343.7 L1477.5 346.7 L1474.7 349.7 L1472.3 352.7 L1470 355.7 L1467.8 358.7 L1465.7 361.7 L1463.8 364.7 L1462.3 367.7 L1461.1 370.7 L1459.8 373.7 L1458.6 376.7 L1457.5 379.7 L1456.3 382.7 L1455.2 385.7 L1454.4 388.7 L1453.7 391.7 L1453.1 394.7 L1452.5 397.7 L1451.9 400.6 L1451.3 403.6 L1450.8 406.6 L1450.3 409.6 L1450.1 412.6 L1450 415.6 L1449.8 418.6 L1449.7 421.6 L1449.5 424.6 L1449.4 427.6 L1449.2 430.6 L1449.1 433.6 L1448.9 436.6 L1448.8 439.6 L1448.6 442.6 L1448.5 445.6 L1448.3 448.6 L1448.2 451.6 L1448 454.6 L1447.8 457.6 L1447.5 460.6 L1447.3 463.6 L1447.1 466.6 L1446.6 469.6 L1445.9 472.6 L1444.6 475.6 L1441.3 478.6 L1436.1 481.6 L1429.5 484.6 L1421.8 487.6 L1414.6 490.6 L1408.1 493.6 L1402.2 496.6 L1396.8 499.6 L1392 502.6 L1387.6 505.6 L1384 508.6 L1381.2 511.6 L1378.8 514.6 L1376.7 517.6 L1375.2 520.6 L1374.5 523.6 L1373.8 526.6 L1373.2 529.6 L1372.6 532.6 L1372.6 535.6 L1373 538.5 L1373.5 541.5 L1374 544.5 L1374.9 547.5 L1376.3 550.5 L1378.1 553.5 L1380 556.5 L1382.4 559.5 L1385.5 562.5 L1388.8 565.5 L1392.4 568.5 L1396.5 571.5 L1401.2 574.5 L1406 577.5 L1411.2 580.5 L1416.9 583.5 L1422.9 586.5 L1428.9 589.5 L1435 592.5 L1440.1 595.5 L1443.8 598.5 L1446 601.5 L1447.2 604.5 L1447.7 607.5 L1448.2 610.5 L1448.6 613.5 L1449 616.5 L1449.3 619.5 L1449.4 622.5 L1449.6 625.5 L1449.7 628.5 L1449.9 631.5 L1450 634.5 L1450.2 637.5 L1450.4 640.5 L1450.7 643.5 L1451 646.5 L1451.3 649.5 L1451.6 652.5 L1451.9 655.5 L1452.2 658.5 L1452.6 661.5 L1453.1 664.5 L1453.6 667.5 L1454.2 670.5 L1454.8 673.5 L1455.4 676.5 L1456 679.4 L1456.7 682.4 L1457.6 685.4 L1458.7 688.4 L1459.9 691.4 L1461.1 694.4 L1462.3 697.4 L1463.5 700.4 L1464.8 703.4 L1466.2 706.4 L1467.9 709.4 L1469.7 712.4 L1471.5 715.4 L1473.4 718.4 L1475.4 721.4 L1477.7 724.4 L1480.4 727.4 L1483.3 730.4 L1486.4 733.4 L1490 736.4 L1494.3 739.4 L1499.3 742.4 L1506.7 745.4 L1519.5 747.4 L1519.5 747.4 L1535.2 744.4 L1541.5 741.4 L1546.2 738.4 L1550.2 735.4 L1553.7 732.4 L1556.7 729.4 L1559.5 726.4 L1562.1 723.4 L1564.3 720.4 L1566.2 717.4 L1568.1 714.4 L1569.9 711.4 L1571.7 708.4 L1573.3 705.4 L1574.6 702.4 L1575.9 699.4 L1577.1 696.4 L1578.3 693.4 L1579.5 690.4 L1580.6 687.4 L1581.7 684.4 L1582.5 681.4 L1583.2 678.4 L1583.8 675.5 L1584.4 672.5 L1585 669.5 L1585.6 666.5 L1586.1 663.5 L1586.6 660.5 L1586.9 657.5 L1587.2 654.5 L1587.5 651.5 L1587.8 648.5 L1588.1 645.5 L1588.4 642.5 L1588.7 639.5 L1588.9 636.5 L1589 633.5 L1589.2 630.5 L1589.3 627.5 L1589.5 624.5 L1589.6 621.5 L1589.8 618.5 L1590.1 615.5 L1590.6 612.5 L1591 609.5 L1591.4 606.5 L1592.1 603.5 L1593.7 600.5 L1596.3 597.5 L1600.5 594.5 L1606 591.5 L1612.1 588.5 L1618.2 585.5 L1624.1 582.5 L1629.5 579.5 L1634.6 576.5 L1639.4 573.5 L1643.9 570.5 L1647.9 567.5 L1651.3 564.5 L1654.6 561.5 L1657.5 558.5 L1659.7 555.5 L1661.5 552.5 L1663.2 549.5 L1664.5 546.5 L1665.2 543.5 L1665.7 540.5 L1666.2 537.6 L1666.5 534.6 L1666.2 531.6 L1665.6 528.6 L1665 525.6 L1664.3 522.6 L1663.4 519.6 L1661.7 516.6 L1659.4 513.6 L1656.9 510.6 L1653.9 507.6 L1650 504.6 L1645.5 501.6 L1640.5 498.6 L1634.9 495.6 L1628.8 492.6 L1622.1 489.6 L1614.5 486.6 L1607.2 483.6 L1600.9 480.6 L1596.3 477.6 L1593.7 474.6 L1592.9 471.6 L1592.2 468.6 L1591.8 465.6 L1591.6 462.6 L1591.4 459.6 L1591.2 456.6 L1591 453.6 L1590.8 450.6 L1590.6 447.6 L1590.5 444.6 L1590.3 441.6 L1590.2 438.6 L1590 435.6 L1589.9 432.6 L1589.7 429.6 L1589.6 426.6 L1589.4 423.6 L1589.3 420.6 L1589.1 417.6 L1589 414.6 L1588.8 411.6 L1588.5 408.6 L1588.1 405.6 L1587.5 402.6 L1586.9 399.6 L1586.3 396.7 L1585.7 393.7 L1585.1 390.7 L1584.4 387.7 L1583.4 384.7 L1582.3 381.7 L1581.1 378.7 L1580 375.7 L1578.8 372.7 L1577.5 369.7 L1576.2 366.7 L1574.6 363.7 L1572.6 360.7 L1570.5 357.7 L1568.3 354.7 L1565.9 351.7 L1563.4 348.7 L1560.5 345.7 L1557.2 342.7 L1553.6 339.7 L1549.3 336.7 L1544.1 333.7 L1536.7 330.7 Z" fill="url(#inset-d-g)" fill-opacity="0.07" stroke="url(#inset-d-g)" stroke-width="2.2" stroke-opacity="0.9"/>
<g clip-path="url(#inset-d-c)" fill="none" stroke="url(#inset-d-g)" stroke-width="1.5" stroke-opacity="0.74">
<ellipse cx="1519.5" cy="333.7" rx="24.6" ry="3.4"/>
<ellipse cx="1519.5" cy="341.7" rx="36.6" ry="5.1"/>
<ellipse cx="1519.5" cy="349.7" rx="44.8" ry="6.2"/>
<ellipse cx="1519.5" cy="357.7" rx="51" ry="7.1"/>
<ellipse cx="1519.5" cy="365.7" rx="56.2" ry="7.8"/>
<ellipse cx="1519.5" cy="373.7" rx="59.7" ry="8.3"/>
<ellipse cx="1519.5" cy="381.7" rx="62.8" ry="8.7"/>
<ellipse cx="1519.5" cy="389.7" rx="65.4" ry="9.1"/>
<ellipse cx="1519.5" cy="397.7" rx="67" ry="9.3"/>
<ellipse cx="1519.5" cy="405.6" rx="68.6" ry="9.5"/>
<ellipse cx="1519.5" cy="413.6" rx="69.4" ry="9.7"/>
<ellipse cx="1519.5" cy="421.6" rx="69.8" ry="9.7"/>
<ellipse cx="1519.5" cy="429.6" rx="70.2" ry="9.8"/>
<ellipse cx="1519.5" cy="437.6" rx="70.6" ry="9.8"/>
<ellipse cx="1519.5" cy="445.6" rx="71" ry="9.9"/>
<ellipse cx="1519.5" cy="453.6" rx="71.5" ry="9.9"/>
<ellipse cx="1519.5" cy="461.6" rx="72" ry="10"/>
<ellipse cx="1519.5" cy="469.6" rx="72.9" ry="10.1"/>
<ellipse cx="1519.5" cy="477.6" rx="76.8" ry="10.7"/>
<ellipse cx="1519.5" cy="485.6" rx="92.5" ry="12.9"/>
<ellipse cx="1519.5" cy="493.6" rx="111.4" ry="15.5"/>
<ellipse cx="1519.5" cy="501.6" rx="126" ry="17.5"/>
<ellipse cx="1519.5" cy="509.6" rx="136.5" ry="19"/>
<ellipse cx="1519.5" cy="517.6" rx="142.8" ry="19.9"/>
<ellipse cx="1519.5" cy="525.6" rx="145.5" ry="20.2"/>
<ellipse cx="1519.5" cy="533.6" rx="146.9" ry="20.5"/>
<ellipse cx="1519.5" cy="541.5" rx="146" ry="20.3"/>
<ellipse cx="1519.5" cy="549.5" rx="143.7" ry="20"/>
<ellipse cx="1519.5" cy="557.5" rx="138.8" ry="19.3"/>
<ellipse cx="1519.5" cy="565.5" rx="130.7" ry="18.2"/>
<ellipse cx="1519.5" cy="573.5" rx="119.9" ry="16.7"/>
<ellipse cx="1519.5" cy="581.5" rx="106.4" ry="14.8"/>
<ellipse cx="1519.5" cy="589.5" rx="90.6" ry="12.6"/>
<ellipse cx="1519.5" cy="597.5" rx="76.8" ry="10.7"/>
<ellipse cx="1519.5" cy="605.5" rx="72" ry="10"/>
<ellipse cx="1519.5" cy="613.5" rx="70.9" ry="9.9"/>
<ellipse cx="1519.5" cy="621.5" rx="70.1" ry="9.8"/>
<ellipse cx="1519.5" cy="629.5" rx="69.7" ry="9.7"/>
<ellipse cx="1519.5" cy="637.5" rx="69.3" ry="9.6"/>
<ellipse cx="1519.5" cy="645.5" rx="68.6" ry="9.6"/>
<ellipse cx="1519.5" cy="653.5" rx="67.8" ry="9.4"/>
<ellipse cx="1519.5" cy="661.5" rx="66.9" ry="9.3"/>
<ellipse cx="1519.5" cy="669.5" rx="65.5" ry="9.1"/>
<ellipse cx="1519.5" cy="677.5" rx="63.9" ry="8.9"/>
<ellipse cx="1519.5" cy="685.4" rx="61.9" ry="8.6"/>
<ellipse cx="1519.5" cy="693.4" rx="58.8" ry="8.2"/>
<ellipse cx="1519.5" cy="701.4" rx="55.6" ry="7.7"/>
<ellipse cx="1519.5" cy="709.4" rx="51.6" ry="7.2"/>
<ellipse cx="1519.5" cy="717.4" rx="46.7" ry="6.5"/>
<ellipse cx="1519.5" cy="725.4" rx="40.9" ry="5.7"/>
<ellipse cx="1519.5" cy="733.4" rx="33.1" ry="4.6"/>
<ellipse cx="1519.5" cy="742.4" rx="20.2" ry="2.8"/>
<path d="M1519.5 328.7 L1554.9 340.7 L1566.7 352.7 L1575.2 364.7 L1580.4 376.7 L1584.6 388.7 L1587.1 400.6 L1588.9 412.6 L1589.5 424.6 L1590.1 436.6 L1590.7 448.6 L1591.5 460.6 L1593.1 472.6 L1609.5 484.6 L1636.8 496.6 L1655 508.6 L1663.8 520.6 L1666.4 532.6 L1665 544.5 L1659 556.5 L1646.6 568.5 L1627.8 580.5 L1604 592.5 L1591.8 604.5 L1590 616.5 L1589.3 628.5 L1588.6 640.5 L1587.4 652.5 L1585.9 664.5 L1583.6 676.5 L1580.3 688.4 L1575.5 700.4 L1569.3 712.4 L1561.3 724.4 L1549 736.4 L1519.5 747.4"/>
<path d="M1519.5 328.7 L1554.6 341.3 L1566.3 353.5 L1574.7 365.7 L1579.8 377.8 L1584.1 389.8 L1586.5 401.9 L1588.3 413.9 L1588.9 425.9 L1589.5 437.9 L1590.1 449.9 L1590.8 461.9 L1592.5 473.9 L1608.8 486.2 L1635.8 498.7 L1653.8 511 L1662.5 523.2 L1665.1 535.2 L1663.7 547.2 L1657.8 559.1 L1645.5 570.8 L1626.8 582.5 L1603.3 594 L1591.2 605.8 L1589.4 617.8 L1588.7 629.8 L1588 641.7 L1586.8 653.7 L1585.4 665.7 L1583 677.6 L1579.7 689.5 L1575 701.5 L1568.9 713.3 L1560.9 725.2 L1548.7 736.9 L1519.5 747.4"/>
<path d="M1519.5 328.7 L1554.6 340 L1566.3 351.8 L1574.7 363.7 L1579.8 375.6 L1584.1 387.5 L1586.5 399.4 L1588.3 411.4 L1588.9 423.4 L1589.5 435.3 L1590.1 447.3 L1590.8 459.3 L1592.5 471.3 L1608.8 483 L1635.8 494.4 L1653.8 506.1 L1662.5 517.9 L1665.1 529.9 L1663.7 541.9 L1657.8 554 L1645.5 566.2 L1626.8 578.6 L1603.3 591 L1591.2 603.2 L1589.4 615.2 L1588.7 627.2 L1588 639.2 L1586.8 651.2 L1585.4 663.3 L1583 675.3 L1579.7 687.3 L1575 699.4 L1568.9 711.5 L1560.9 723.7 L1548.7 735.9 L1519.5 747.4"/>
<path d="M1519.5 328.7 L1553.6 342 L1565.1 354.4 L1573.3 366.7 L1578.3 378.9 L1582.4 391 L1584.8 403.1 L1586.5 415.1 L1587.1 427.2 L1587.7 439.2 L1588.3 451.2 L1589 463.2 L1590.6 475.2 L1606.5 487.8 L1632.8 500.8 L1650.4 513.5 L1658.8 525.8 L1661.4 537.8 L1660 549.8 L1654.3 561.6 L1642.3 573.1 L1624.1 584.4 L1601.2 595.6 L1589.3 607.1 L1587.6 619 L1586.9 631 L1586.2 643 L1585.1 654.9 L1583.7 666.9 L1581.4 678.8 L1578.2 690.6 L1573.6 702.5 L1567.6 714.2 L1559.8 725.9 L1548 737.5 L1519.5 747.4"/>
<path d="M1519.5 328.7 L1553.6 339.4 L1565.1 351 L1573.3 362.7 L1578.3 374.5 L1582.4 386.3 L1584.8 398.2 L1586.5 410.1 L1587.1 422.1 L1587.7 434.1 L1588.3 446 L1589 458 L1590.6 469.9 L1606.5 481.3 L1632.8 492.4 L1650.4 503.7 L1658.8 515.4 L1661.4 527.3 L1660 539.3 L1654.3 551.5 L1642.3 563.9 L1624.1 576.6 L1601.2 589.5 L1589.3 601.9 L1587.6 614 L1586.9 626 L1586.2 638 L1585.1 650 L1583.7 662.1 L1581.4 674.1 L1578.2 686.3 L1573.6 698.4 L1567.6 710.6 L1559.8 722.9 L1548 735.3 L1519.5 747.4"/>
<path d="M1519.5 328.7 L1552.2 342.6 L1563.1 355.2 L1570.9 367.6 L1575.7 379.9 L1579.7 392.1 L1581.9 404.2 L1583.6 416.3 L1584.2 428.4 L1584.7 440.4 L1585.3 452.4 L1586 464.4 L1587.5 476.5 L1602.7 489.4 L1627.9 502.8 L1644.7 515.8 L1652.8 528.2 L1655.2 540.4 L1653.9 552.3 L1648.4 564 L1636.9 575.3 L1619.5 586.3 L1597.6 597 L1586.3 608.4 L1584.6 620.2 L1584 632.2 L1583.3 644.2 L1582.3 656.1 L1580.9 668 L1578.7 679.9 L1575.6 691.7 L1571.2 703.4 L1565.5 715.1 L1558.1 726.6 L1546.7 738 L1519.5 747.4"/>
<path d="M1519.5 328.7 L1552.2 338.8 L1563.1 350.2 L1570.9 361.7 L1575.7 373.4 L1579.7 385.2 L1581.9 397 L1583.6 408.9 L1584.2 420.9 L1584.7 432.9 L1585.3 444.8 L1586 456.8 L1587.5 468.7 L1602.7 479.8 L1627.9 490.3 L1644.7 501.4 L1652.8 512.9 L1655.2 524.7 L1653.9 536.8 L1648.4 549.1 L1636.9 561.8 L1619.5 574.8 L1597.6 588 L1586.3 600.7 L1584.6 612.7 L1584 624.8 L1583.3 636.8 L1582.3 648.9 L1580.9 660.9 L1578.7 673 L1575.6 685.2 L1571.2 697.5 L1565.5 709.8 L1558.1 722.2 L1546.7 734.8 L1519.5 747.4"/>
<path d="M1519.5 328.7 L1550.1 343.2 L1560.4 356 L1567.7 368.5 L1572.2 380.9 L1575.9 393.2 L1578 405.4 L1579.6 417.5 L1580.1 429.5 L1580.6 441.5 L1581.1 453.6 L1581.8 465.6 L1583.2 477.7 L1597.5 490.9 L1621.1 504.7 L1636.9 518 L1644.4 530.6 L1646.7 542.8 L1645.5 554.7 L1640.3 566.2 L1629.6 577.4 L1613.2 588.1 L1592.7 598.4 L1582.1 609.5 L1580.6 621.4 L1579.9 633.3 L1579.3 645.3 L1578.3 657.2 L1577 669.1 L1575 680.9 L1572.1 692.7 L1568 704.3 L1562.7 715.9 L1555.7 727.3 L1545 738.5 L1519.5 747.4"/>
<path d="M1519.5 328.7 L1550.1 338.2 L1560.4 349.4 L1567.7 360.8 L1572.2 372.4 L1575.9 384.1 L1578 395.9 L1579.6 407.8 L1580.1 419.8 L1580.6 431.7 L1581.1 443.7 L1581.8 455.6 L1583.2 467.5 L1597.5 478.3 L1621.1 488.4 L1636.9 499.1 L1644.4 510.5 L1646.7 522.3 L1645.5 534.4 L1640.3 546.8 L1629.6 559.7 L1613.2 573 L1592.7 586.6 L1582.1 599.5 L1580.6 611.6 L1579.9 623.6 L1579.3 635.7 L1578.3 647.7 L1577 659.8 L1575 672 L1572.1 684.2 L1568 696.5 L1562.7 709 L1555.7 721.5 L1545 734.4 L1519.5 747.4"/>
<path d="M1519.5 328.7 L1547.5 343.7 L1557 356.7 L1563.7 369.4 L1567.8 381.8 L1571.2 394.2 L1573.1 406.4 L1574.5 418.5 L1575 430.6 L1575.5 442.6 L1576 454.6 L1576.6 466.7 L1577.9 478.8 L1590.9 492.2 L1612.6 506.5 L1627 520.1 L1634 532.8 L1636 545 L1634.9 556.9 L1630.2 568.4 L1620.3 579.3 L1605.4 589.7 L1586.6 599.7 L1576.8 610.6 L1575.4 622.5 L1574.8 634.4 L1574.3 646.3 L1573.4 658.2 L1572.2 670.1 L1570.3 681.9 L1567.7 693.6 L1563.9 705.2 L1559 716.6 L1552.6 728 L1542.9 738.9 L1519.5 747.4"/>
<path d="M1519.5 328.7 L1547.5 337.7 L1557 348.7 L1563.7 360 L1567.8 371.5 L1571.2 383.1 L1573.1 394.9 L1574.5 406.8 L1575 418.7 L1575.5 430.6 L1576 442.6 L1576.6 454.5 L1577.9 466.4 L1590.9 477 L1612.6 486.6 L1627 497.1 L1634 508.3 L1636 520.1 L1634.9 532.2 L1630.2 544.7 L1620.3 557.8 L1605.4 571.3 L1586.6 585.3 L1576.8 598.4 L1575.4 610.5 L1574.8 622.6 L1574.3 634.6 L1573.4 646.7 L1572.2 658.8 L1570.3 671 L1567.7 683.3 L1563.9 695.7 L1559 708.2 L1552.6 720.9 L1542.9 733.9 L1519.5 747.4"/>
<path d="M1519.5 328.7 L1544.5 344.2 L1552.9 357.3 L1558.9 370.2 L1562.5 382.7 L1565.6 395.1 L1567.3 407.3 L1568.6 419.5 L1569 431.5 L1569.4 443.6 L1569.8 455.6 L1570.4 467.7 L1571.5 479.8 L1583.2 493.4 L1602.5 508.1 L1615.3 521.9 L1621.5 534.8 L1623.3 547 L1622.4 558.9 L1618.2 570.3 L1609.4 581 L1596 591.2 L1579.3 600.8 L1570.6 611.6 L1569.4 623.4 L1568.8 635.4 L1568.4 647.3 L1567.5 659.2 L1566.5 671 L1564.8 682.8 L1562.5 694.4 L1559.1 705.9 L1554.7 717.3 L1549 728.5 L1540.3 739.3 L1519.5 747.4"/>
<path d="M1519.5 328.7 L1544.5 337.2 L1552.9 348 L1558.9 359.2 L1562.5 370.7 L1565.6 382.2 L1567.3 394 L1568.6 405.8 L1569 417.7 L1569.4 429.7 L1569.8 441.6 L1570.4 453.5 L1571.5 465.4 L1583.2 475.7 L1602.5 485 L1615.3 495.2 L1621.5 506.4 L1623.3 518.1 L1622.4 530.2 L1618.2 542.8 L1609.4 556 L1596 569.9 L1579.3 584.2 L1570.6 597.4 L1569.4 609.6 L1568.8 621.6 L1568.4 633.7 L1567.5 645.8 L1566.5 657.9 L1564.8 670.1 L1562.5 682.5 L1559.1 694.9 L1554.7 707.5 L1549 720.3 L1540.3 733.5 L1519.5 747.4"/>
<path d="M1519.5 328.7 L1541 344.6 L1548.2 357.9 L1553.4 370.8 L1556.5 383.4 L1559.1 395.8 L1560.6 408.1 L1561.7 420.3 L1562.1 432.4 L1562.5 444.4 L1562.8 456.5 L1563.3 468.6 L1564.3 480.7 L1574.3 494.5 L1590.9 509.5 L1602 523.5 L1607.3 536.5 L1608.9 548.8 L1608.1 560.6 L1604.4 571.9 L1596.9 582.6 L1585.4 592.5 L1571 601.8 L1563.5 612.5 L1562.4 624.3 L1562 636.2 L1561.6 648.1 L1560.9 660 L1559.9 671.8 L1558.5 683.5 L1556.5 695.2 L1553.6 706.6 L1549.8 717.9 L1544.9 729 L1537.4 739.7 L1519.5 747.4"/>
<path d="M1519.5 328.7 L1541 336.8 L1548.2 347.5 L1553.4 358.5 L1556.5 369.9 L1559.1 381.5 L1560.6 393.2 L1561.7 405 L1562.1 416.9 L1562.5 428.8 L1562.8 440.8 L1563.3 452.7 L1564.3 464.5 L1574.3 474.6 L1590.9 483.6 L1602 493.6 L1607.3 504.6 L1608.9 516.3 L1608.1 528.5 L1604.4 541.1 L1596.9 554.5 L1585.4 568.6 L1571 583.2 L1563.5 596.5 L1562.4 608.7 L1562 620.8 L1561.6 632.8 L1560.9 645 L1559.9 657.1 L1558.5 669.4 L1556.5 681.7 L1553.6 694.3 L1549.8 706.9 L1544.9 719.8 L1537.4 733.2 L1519.5 747.4"/>
<path d="M1519.5 328.7 L1537.2 345 L1543.1 358.4 L1547.3 371.4 L1549.9 384 L1552.1 396.5 L1553.3 408.8 L1554.2 421 L1554.5 433.1 L1554.8 445.1 L1555.1 457.2 L1555.5 469.3 L1556.3 481.5 L1564.5 495.4 L1578.2 510.7 L1587.3 524.9 L1591.6 538 L1592.9 550.3 L1592.2 562.1 L1589.3 573.4 L1583 583.8 L1573.6 593.6 L1561.8 602.7 L1555.6 613.2 L1554.8 625 L1554.4 636.9 L1554 648.8 L1553.5 660.7 L1552.7 672.5 L1551.5 684.2 L1549.9 695.8 L1547.5 707.2 L1544.4 718.4 L1540.4 729.5 L1534.2 740 L1519.5 747.4"/>
<path d="M1519.5 328.7 L1537.2 336.4 L1543.1 347 L1547.3 358 L1549.9 369.3 L1552.1 380.8 L1553.3 392.5 L1554.2 404.3 L1554.5 416.2 L1554.8 428.1 L1555.1 440 L1555.5 451.9 L1556.3 463.7 L1564.5 473.7 L1578.2 482.4 L1587.3 492.2 L1591.6 503.2 L1592.9 514.9 L1592.2 527 L1589.3 539.7 L1583 553.2 L1573.6 567.5 L1561.8 582.3 L1555.6 595.8 L1554.8 608 L1554.4 620.1 L1554 632.1 L1553.5 644.3 L1552.7 656.5 L1551.5 668.7 L1549.9 681.1 L1547.5 693.7 L1544.4 706.4 L1540.4 719.4 L1534.2 732.9 L1519.5 747.4"/>
<path d="M1519.5 328.7 L1533 345.2 L1537.6 358.8 L1540.8 371.8 L1542.8 384.5 L1544.4 397 L1545.4 409.3 L1546.1 421.6 L1546.3 433.6 L1546.5 445.7 L1546.7 457.8 L1547 469.9 L1547.7 482.1 L1554 496.2 L1564.4 511.7 L1571.4 526 L1574.7 539.1 L1575.7 551.4 L1575.2 563.3 L1572.9 574.5 L1568.1 584.9 L1560.9 594.4 L1551.9 603.4 L1547.2 613.8 L1546.5 625.6 L1546.2 637.5 L1545.9 649.4 L1545.5 661.2 L1544.9 673 L1544 684.7 L1542.8 696.3 L1540.9 707.6 L1538.6 718.8 L1535.5 729.8 L1530.8 740.2 L1519.5 747.4"/>
<path d="M1519.5 328.7 L1533 336.1 L1537.6 346.6 L1540.8 357.5 L1542.8 368.8 L1544.4 380.3 L1545.4 392 L1546.1 403.7 L1546.3 415.6 L1546.5 427.5 L1546.7 439.5 L1547 451.4 L1547.7 463.1 L1554 473 L1564.4 481.5 L1571.4 491.1 L1574.7 502 L1575.7 513.7 L1575.2 525.8 L1572.9 538.6 L1568.1 552.2 L1560.9 566.6 L1551.9 581.6 L1547.2 595.2 L1546.5 607.4 L1546.2 619.5 L1545.9 631.6 L1545.5 643.7 L1544.9 655.9 L1544 668.2 L1542.8 680.6 L1540.9 693.2 L1538.6 706 L1535.5 719 L1530.8 732.6 L1519.5 747.4"/>
<path d="M1519.5 328.7 L1528.7 345.4 L1531.7 359 L1533.9 372.2 L1535.3 384.8 L1536.4 397.4 L1537 409.7 L1537.5 422 L1537.6 434 L1537.8 446.1 L1537.9 458.2 L1538.1 470.3 L1538.6 482.5 L1542.8 496.7 L1549.9 512.4 L1554.6 526.8 L1556.8 540 L1557.5 552.3 L1557.2 564.1 L1555.6 575.3 L1552.4 585.6 L1547.5 595.1 L1541.4 603.9 L1538.2 614.2 L1537.7 626 L1537.6 637.9 L1537.4 649.8 L1537.1 661.6 L1536.7 673.4 L1536.1 685.1 L1535.2 696.6 L1534 708 L1532.4 719.1 L1530.3 730 L1527.1 740.4 L1519.5 747.4"/>
<path d="M1519.5 328.7 L1528.7 335.9 L1531.7 346.3 L1533.9 357.2 L1535.3 368.5 L1536.4 379.9 L1537 391.6 L1537.5 403.3 L1537.6 415.2 L1537.8 427.1 L1537.9 439 L1538.1 450.9 L1538.6 462.7 L1542.8 472.5 L1549.9 480.8 L1554.6 490.4 L1556.8 501.2 L1557.5 512.8 L1557.2 525 L1555.6 537.8 L1552.4 551.4 L1547.5 566 L1541.4 581.1 L1538.2 594.8 L1537.7 607 L1537.6 619.1 L1537.4 631.2 L1537.1 643.3 L1536.7 655.5 L1536.1 667.8 L1535.2 680.3 L1534 692.9 L1532.4 705.7 L1530.3 718.8 L1527.1 732.4 L1519.5 747.4"/>
<path d="M1519.5 328.7 L1524.1 345.6 L1525.7 359.2 L1526.8 372.4 L1527.4 385.1 L1528 397.6 L1528.3 410 L1528.6 422.2 L1528.6 434.3 L1528.7 446.4 L1528.8 458.4 L1528.9 470.5 L1529.1 482.8 L1531.3 497 L1534.8 512.8 L1537.2 527.3 L1538.3 540.5 L1538.7 552.8 L1538.5 564.6 L1537.7 575.8 L1536.1 586.1 L1533.6 595.5 L1530.5 604.2 L1528.9 614.5 L1528.7 626.2 L1528.6 638.1 L1528.5 650 L1528.4 661.8 L1528.2 673.6 L1527.9 685.3 L1527.4 696.8 L1526.8 708.2 L1526 719.3 L1525 730.2 L1523.3 740.5 L1519.5 747.4"/>
<path d="M1519.5 328.7 L1524.1 335.8 L1525.7 346.2 L1526.8 357 L1527.4 368.3 L1528 379.7 L1528.3 391.3 L1528.6 403.1 L1528.6 415 L1528.7 426.9 L1528.8 438.8 L1528.9 450.7 L1529.1 462.4 L1531.3 472.2 L1534.8 480.4 L1537.2 489.9 L1538.3 500.7 L1538.7 512.3 L1538.5 524.5 L1537.7 537.3 L1536.1 551 L1533.6 565.6 L1530.5 580.8 L1528.9 594.5 L1528.7 606.8 L1528.6 618.9 L1528.5 630.9 L1528.4 643.1 L1528.2 655.3 L1527.9 667.6 L1527.4 680.1 L1526.8 692.7 L1526 705.5 L1525 718.7 L1523.3 732.3 L1519.5 747.4"/>
<path d="M1519.5 328.7 L1519.5 345.6 L1519.5 359.3 L1519.5 372.4 L1519.5 385.1 L1519.5 397.7 L1519.5 410.1 L1519.5 422.3 L1519.5 434.4 L1519.5 446.4 L1519.5 458.5 L1519.5 470.6 L1519.5 482.8 L1519.5 497.1 L1519.5 512.9 L1519.5 527.4 L1519.5 540.6 L1519.5 553 L1519.5 564.8 L1519.5 576 L1519.5 586.2 L1519.5 595.6 L1519.5 604.3 L1519.5 614.6 L1519.5 626.3 L1519.5 638.2 L1519.5 650.1 L1519.5 661.9 L1519.5 673.7 L1519.5 685.4 L1519.5 696.9 L1519.5 708.2 L1519.5 719.4 L1519.5 730.2 L1519.5 740.5 L1519.5 747.4"/>
<path d="M1519.5 328.7 L1519.5 335.8 L1519.5 346.1 L1519.5 356.9 L1519.5 368.2 L1519.5 379.6 L1519.5 391.2 L1519.5 403 L1519.5 414.9 L1519.5 426.8 L1519.5 438.7 L1519.5 450.6 L1519.5 462.4 L1519.5 472.1 L1519.5 480.2 L1519.5 489.7 L1519.5 500.5 L1519.5 512.1 L1519.5 524.3 L1519.5 537.1 L1519.5 550.8 L1519.5 565.5 L1519.5 580.7 L1519.5 594.4 L1519.5 606.7 L1519.5 618.8 L1519.5 630.9 L1519.5 643 L1519.5 655.2 L1519.5 667.5 L1519.5 680 L1519.5 692.6 L1519.5 705.5 L1519.5 718.6 L1519.5 732.3 L1519.5 747.4"/>
<path d="M1519.5 328.7 L1514.9 345.6 L1513.3 359.2 L1512.2 372.4 L1511.6 385.1 L1511 397.6 L1510.7 410 L1510.4 422.2 L1510.4 434.3 L1510.3 446.4 L1510.2 458.4 L1510.1 470.5 L1509.9 482.8 L1507.7 497 L1504.2 512.8 L1501.8 527.3 L1500.7 540.5 L1500.3 552.8 L1500.5 564.6 L1501.3 575.8 L1502.9 586.1 L1505.4 595.5 L1508.5 604.2 L1510.1 614.5 L1510.3 626.2 L1510.4 638.1 L1510.5 650 L1510.6 661.8 L1510.8 673.6 L1511.1 685.3 L1511.6 696.8 L1512.2 708.2 L1513 719.3 L1514 730.2 L1515.7 740.5 L1519.5 747.4"/>
<path d="M1519.5 328.7 L1514.9 335.8 L1513.3 346.2 L1512.2 357 L1511.6 368.3 L1511 379.7 L1510.7 391.3 L1510.4 403.1 L1510.4 415 L1510.3 426.9 L1510.2 438.8 L1510.1 450.7 L1509.9 462.4 L1507.7 472.2 L1504.2 480.4 L1501.8 489.9 L1500.7 500.7 L1500.3 512.3 L1500.5 524.5 L1501.3 537.3 L1502.9 551 L1505.4 565.6 L1508.5 580.8 L1510.1 594.5 L1510.3 606.8 L1510.4 618.9 L1510.5 630.9 L1510.6 643.1 L1510.8 655.3 L1511.1 667.6 L1511.6 680.1 L1512.2 692.7 L1513 705.5 L1514 718.7 L1515.7 732.3 L1519.5 747.4"/>
<path d="M1519.5 328.7 L1510.3 345.4 L1507.3 359 L1505.1 372.2 L1503.7 384.8 L1502.6 397.4 L1502 409.7 L1501.5 422 L1501.4 434 L1501.2 446.1 L1501.1 458.2 L1500.9 470.3 L1500.4 482.5 L1496.2 496.7 L1489.1 512.4 L1484.4 526.8 L1482.2 540 L1481.5 552.3 L1481.8 564.1 L1483.4 575.3 L1486.6 585.6 L1491.5 595.1 L1497.6 603.9 L1500.8 614.2 L1501.3 626 L1501.4 637.9 L1501.6 649.8 L1501.9 661.6 L1502.3 673.4 L1502.9 685.1 L1503.8 696.6 L1505 708 L1506.6 719.1 L1508.7 730 L1511.9 740.4 L1519.5 747.4"/>
<path d="M1519.5 328.7 L1510.3 335.9 L1507.3 346.3 L1505.1 357.2 L1503.7 368.5 L1502.6 379.9 L1502 391.6 L1501.5 403.3 L1501.4 415.2 L1501.2 427.1 L1501.1 439 L1500.9 450.9 L1500.4 462.7 L1496.2 472.5 L1489.1 480.8 L1484.4 490.4 L1482.2 501.2 L1481.5 512.8 L1481.8 525 L1483.4 537.8 L1486.6 551.4 L1491.5 566 L1497.6 581.1 L1500.8 594.8 L1501.3 607 L1501.4 619.1 L1501.6 631.2 L1501.9 643.3 L1502.3 655.5 L1502.9 667.8 L1503.8 680.3 L1505 692.9 L1506.6 705.7 L1508.7 718.8 L1511.9 732.4 L1519.5 747.4"/>
<path d="M1519.5 328.7 L1506 345.2 L1501.4 358.8 L1498.2 371.8 L1496.2 384.5 L1494.6 397 L1493.6 409.3 L1492.9 421.6 L1492.7 433.6 L1492.5 445.7 L1492.3 457.8 L1492 469.9 L1491.3 482.1 L1485 496.2 L1474.6 511.7 L1467.6 526 L1464.3 539.1 L1463.3 551.4 L1463.8 563.3 L1466.1 574.5 L1470.9 584.9 L1478.1 594.4 L1487.1 603.4 L1491.8 613.8 L1492.5 625.6 L1492.8 637.5 L1493.1 649.4 L1493.5 661.2 L1494.1 673 L1495 684.7 L1496.2 696.3 L1498.1 707.6 L1500.4 718.8 L1503.5 729.8 L1508.2 740.2 L1519.5 747.4"/>
<path d="M1519.5 328.7 L1506 336.1 L1501.4 346.6 L1498.2 357.5 L1496.2 368.8 L1494.6 380.3 L1493.6 392 L1492.9 403.7 L1492.7 415.6 L1492.5 427.5 L1492.3 439.5 L1492 451.4 L1491.3 463.1 L1485 473 L1474.6 481.5 L1467.6 491.1 L1464.3 502 L1463.3 513.7 L1463.8 525.8 L1466.1 538.6 L1470.9 552.2 L1478.1 566.6 L1487.1 581.6 L1491.8 595.2 L1492.5 607.4 L1492.8 619.5 L1493.1 631.6 L1493.5 643.7 L1494.1 655.9 L1495 668.2 L1496.2 680.6 L1498.1 693.2 L1500.4 706 L1503.5 719 L1508.2 732.6 L1519.5 747.4"/>
<path d="M1519.5 328.7 L1501.8 345 L1495.9 358.4 L1491.7 371.4 L1489.1 384 L1486.9 396.5 L1485.7 408.8 L1484.8 421 L1484.5 433.1 L1484.2 445.1 L1483.9 457.2 L1483.5 469.3 L1482.7 481.5 L1474.5 495.4 L1460.8 510.7 L1451.7 524.9 L1447.4 538 L1446.1 550.3 L1446.8 562.1 L1449.7 573.4 L1456 583.8 L1465.4 593.6 L1477.2 602.7 L1483.4 613.2 L1484.2 625 L1484.6 636.9 L1485 648.8 L1485.5 660.7 L1486.3 672.5 L1487.5 684.2 L1489.1 695.8 L1491.5 707.2 L1494.6 718.4 L1498.6 729.5 L1504.8 740 L1519.5 747.4"/>
<path d="M1519.5 328.7 L1501.8 336.4 L1495.9 347 L1491.7 358 L1489.1 369.3 L1486.9 380.8 L1485.7 392.5 L1484.8 404.3 L1484.5 416.2 L1484.2 428.1 L1483.9 440 L1483.5 451.9 L1482.7 463.7 L1474.5 473.7 L1460.8 482.4 L1451.7 492.2 L1447.4 503.2 L1446.1 514.9 L1446.8 527 L1449.7 539.7 L1456 553.2 L1465.4 567.5 L1477.2 582.3 L1483.4 595.8 L1484.2 608 L1484.6 620.1 L1485 632.1 L1485.5 644.3 L1486.3 656.5 L1487.5 668.7 L1489.1 681.1 L1491.5 693.7 L1494.6 706.4 L1498.6 719.4 L1504.8 732.9 L1519.5 747.4"/>
<path d="M1519.5 328.7 L1498 344.6 L1490.8 357.9 L1485.6 370.8 L1482.5 383.4 L1479.9 395.8 L1478.4 408.1 L1477.3 420.3 L1476.9 432.4 L1476.5 444.4 L1476.2 456.5 L1475.7 468.6 L1474.7 480.7 L1464.7 494.5 L1448.1 509.5 L1437 523.5 L1431.7 536.5 L1430.1 548.8 L1430.9 560.6 L1434.6 571.9 L1442.1 582.6 L1453.6 592.5 L1468 601.8 L1475.5 612.5 L1476.6 624.3 L1477 636.2 L1477.4 648.1 L1478.1 660 L1479.1 671.8 L1480.5 683.5 L1482.5 695.2 L1485.4 706.6 L1489.2 717.9 L1494.1 729 L1501.6 739.7 L1519.5 747.4"/>
<path d="M1519.5 328.7 L1498 336.8 L1490.8 347.5 L1485.6 358.5 L1482.5 369.9 L1479.9 381.5 L1478.4 393.2 L1477.3 405 L1476.9 416.9 L1476.5 428.8 L1476.2 440.8 L1475.7 452.7 L1474.7 464.5 L1464.7 474.6 L1448.1 483.6 L1437 493.6 L1431.7 504.6 L1430.1 516.3 L1430.9 528.5 L1434.6 541.1 L1442.1 554.5 L1453.6 568.6 L1468 583.2 L1475.5 596.5 L1476.6 608.7 L1477 620.8 L1477.4 632.8 L1478.1 645 L1479.1 657.1 L1480.5 669.4 L1482.5 681.7 L1485.4 694.3 L1489.2 706.9 L1494.1 719.8 L1501.6 733.2 L1519.5 747.4"/>
<path d="M1519.5 328.7 L1494.5 344.2 L1486.1 357.3 L1480.1 370.2 L1476.5 382.7 L1473.4 395.1 L1471.7 407.3 L1470.4 419.5 L1470 431.5 L1469.6 443.6 L1469.2 455.6 L1468.6 467.7 L1467.5 479.8 L1455.8 493.4 L1436.5 508.1 L1423.7 521.9 L1417.5 534.8 L1415.7 547 L1416.6 558.9 L1420.8 570.3 L1429.6 581 L1443 591.2 L1459.7 600.8 L1468.4 611.6 L1469.6 623.4 L1470.2 635.4 L1470.6 647.3 L1471.5 659.2 L1472.5 671 L1474.2 682.8 L1476.5 694.4 L1479.9 705.9 L1484.3 717.3 L1490 728.5 L1498.7 739.3 L1519.5 747.4"/>
<path d="M1519.5 328.7 L1494.5 337.2 L1486.1 348 L1480.1 359.2 L1476.5 370.7 L1473.4 382.2 L1471.7 394 L1470.4 405.8 L1470 417.7 L1469.6 429.7 L1469.2 441.6 L1468.6 453.5 L1467.5 465.4 L1455.8 475.7 L1436.5 485 L1423.7 495.2 L1417.5 506.4 L1415.7 518.1 L1416.6 530.2 L1420.8 542.8 L1429.6 556 L1443 569.9 L1459.7 584.2 L1468.4 597.4 L1469.6 609.6 L1470.2 621.6 L1470.6 633.7 L1471.5 645.8 L1472.5 657.9 L1474.2 670.1 L1476.5 682.5 L1479.9 694.9 L1484.3 707.5 L1490 720.3 L1498.7 733.5 L1519.5 747.4"/>
<path d="M1519.5 328.7 L1491.5 343.7 L1482 356.7 L1475.3 369.4 L1471.2 381.8 L1467.8 394.2 L1465.9 406.4 L1464.5 418.5 L1464 430.6 L1463.5 442.6 L1463 454.6 L1462.4 466.7 L1461.1 478.8 L1448.1 492.2 L1426.4 506.5 L1412 520.1 L1405 532.8 L1403 545 L1404.1 556.9 L1408.8 568.4 L1418.7 579.3 L1433.6 589.7 L1452.4 599.7 L1462.2 610.6 L1463.6 622.5 L1464.2 634.4 L1464.7 646.3 L1465.6 658.2 L1466.8 670.1 L1468.7 681.9 L1471.3 693.6 L1475.1 705.2 L1480 716.6 L1486.4 728 L1496.1 738.9 L1519.5 747.4"/>
<path d="M1519.5 328.7 L1491.5 337.7 L1482 348.7 L1475.3 360 L1471.2 371.5 L1467.8 383.1 L1465.9 394.9 L1464.5 406.8 L1464 418.7 L1463.5 430.6 L1463 442.6 L1462.4 454.5 L1461.1 466.4 L1448.1 477 L1426.4 486.6 L1412 497.1 L1405 508.3 L1403 520.1 L1404.1 532.2 L1408.8 544.7 L1418.7 557.8 L1433.6 571.3 L1452.4 585.3 L1462.2 598.4 L1463.6 610.5 L1464.2 622.6 L1464.7 634.6 L1465.6 646.7 L1466.8 658.8 L1468.7 671 L1471.3 683.3 L1475.1 695.7 L1480 708.2 L1486.4 720.9 L1496.1 733.9 L1519.5 747.4"/>
<path d="M1519.5 328.7 L1488.9 343.2 L1478.6 356 L1471.3 368.5 L1466.8 380.9 L1463.1 393.2 L1461 405.4 L1459.4 417.5 L1458.9 429.5 L1458.4 441.5 L1457.9 453.6 L1457.2 465.6 L1455.8 477.7 L1441.5 490.9 L1417.9 504.7 L1402.1 518 L1394.6 530.6 L1392.3 542.8 L1393.5 554.7 L1398.7 566.2 L1409.4 577.4 L1425.8 588.1 L1446.3 598.4 L1456.9 609.5 L1458.4 621.4 L1459.1 633.3 L1459.7 645.3 L1460.7 657.2 L1462 669.1 L1464 680.9 L1466.9 692.7 L1471 704.3 L1476.3 715.9 L1483.3 727.3 L1494 738.5 L1519.5 747.4"/>
<path d="M1519.5 328.7 L1488.9 338.2 L1478.6 349.4 L1471.3 360.8 L1466.8 372.4 L1463.1 384.1 L1461 395.9 L1459.4 407.8 L1458.9 419.8 L1458.4 431.7 L1457.9 443.7 L1457.2 455.6 L1455.8 467.5 L1441.5 478.3 L1417.9 488.4 L1402.1 499.1 L1394.6 510.5 L1392.3 522.3 L1393.5 534.4 L1398.7 546.8 L1409.4 559.7 L1425.8 573 L1446.3 586.6 L1456.9 599.5 L1458.4 611.6 L1459.1 623.6 L1459.7 635.7 L1460.7 647.7 L1462 659.8 L1464 672 L1466.9 684.2 L1471 696.5 L1476.3 709 L1483.3 721.5 L1494 734.4 L1519.5 747.4"/>
<path d="M1519.5 328.7 L1486.8 342.6 L1475.9 355.2 L1468.1 367.6 L1463.3 379.9 L1459.3 392.1 L1457.1 404.2 L1455.4 416.3 L1454.8 428.4 L1454.3 440.4 L1453.7 452.4 L1453 464.4 L1451.5 476.5 L1436.3 489.4 L1411.1 502.8 L1394.3 515.8 L1386.2 528.2 L1383.8 540.4 L1385.1 552.3 L1390.6 564 L1402.1 575.3 L1419.5 586.3 L1441.4 597 L1452.7 608.4 L1454.4 620.2 L1455 632.2 L1455.7 644.2 L1456.7 656.1 L1458.1 668 L1460.3 679.9 L1463.4 691.7 L1467.8 703.4 L1473.5 715.1 L1480.9 726.6 L1492.3 738 L1519.5 747.4"/>
<path d="M1519.5 328.7 L1486.8 338.8 L1475.9 350.2 L1468.1 361.7 L1463.3 373.4 L1459.3 385.2 L1457.1 397 L1455.4 408.9 L1454.8 420.9 L1454.3 432.9 L1453.7 444.8 L1453 456.8 L1451.5 468.7 L1436.3 479.8 L1411.1 490.3 L1394.3 501.4 L1386.2 512.9 L1383.8 524.7 L1385.1 536.8 L1390.6 549.1 L1402.1 561.8 L1419.5 574.8 L1441.4 588 L1452.7 600.7 L1454.4 612.7 L1455 624.8 L1455.7 636.8 L1456.7 648.9 L1458.1 660.9 L1460.3 673 L1463.4 685.2 L1467.8 697.5 L1473.5 709.8 L1480.9 722.2 L1492.3 734.8 L1519.5 747.4"/>
<path d="M1519.5 328.7 L1485.4 342 L1473.9 354.4 L1465.7 366.7 L1460.7 378.9 L1456.6 391 L1454.2 403.1 L1452.5 415.1 L1451.9 427.2 L1451.3 439.2 L1450.7 451.2 L1450 463.2 L1448.4 475.2 L1432.5 487.8 L1406.2 500.8 L1388.6 513.5 L1380.2 525.8 L1377.6 537.8 L1379 549.8 L1384.7 561.6 L1396.7 573.1 L1414.9 584.4 L1437.8 595.6 L1449.7 607.1 L1451.4 619 L1452.1 631 L1452.8 643 L1453.9 654.9 L1455.3 666.9 L1457.6 678.8 L1460.8 690.6 L1465.4 702.5 L1471.4 714.2 L1479.2 725.9 L1491 737.5 L1519.5 747.4"/>
<path d="M1519.5 328.7 L1485.4 339.4 L1473.9 351 L1465.7 362.7 L1460.7 374.5 L1456.6 386.3 L1454.2 398.2 L1452.5 410.1 L1451.9 422.1 L1451.3 434.1 L1450.7 446 L1450 458 L1448.4 469.9 L1432.5 481.3 L1406.2 492.4 L1388.6 503.7 L1380.2 515.4 L1377.6 527.3 L1379 539.3 L1384.7 551.5 L1396.7 563.9 L1414.9 576.6 L1437.8 589.5 L1449.7 601.9 L1451.4 614 L1452.1 626 L1452.8 638 L1453.9 650 L1455.3 662.1 L1457.6 674.1 L1460.8 686.3 L1465.4 698.4 L1471.4 710.6 L1479.2 722.9 L1491 735.3 L1519.5 747.4"/>
<path d="M1519.5 328.7 L1484.4 341.3 L1472.7 353.5 L1464.3 365.7 L1459.2 377.8 L1454.9 389.8 L1452.5 401.9 L1450.7 413.9 L1450.1 425.9 L1449.5 437.9 L1448.9 449.9 L1448.2 461.9 L1446.5 473.9 L1430.2 486.2 L1403.2 498.7 L1385.2 511 L1376.5 523.2 L1373.9 535.2 L1375.3 547.2 L1381.2 559.1 L1393.5 570.8 L1412.2 582.5 L1435.7 594 L1447.8 605.8 L1449.6 617.8 L1450.3 629.8 L1451 641.7 L1452.2 653.7 L1453.6 665.7 L1456 677.6 L1459.3 689.5 L1464 701.5 L1470.1 713.3 L1478.1 725.2 L1490.3 736.9 L1519.5 747.4"/>
<path d="M1519.5 328.7 L1484.4 340 L1472.7 351.8 L1464.3 363.7 L1459.2 375.6 L1454.9 387.5 L1452.5 399.4 L1450.7 411.4 L1450.1 423.4 L1449.5 435.3 L1448.9 447.3 L1448.2 459.3 L1446.5 471.3 L1430.2 483 L1403.2 494.4 L1385.2 506.1 L1376.5 517.9 L1373.9 529.9 L1375.3 541.9 L1381.2 554 L1393.5 566.2 L1412.2 578.6 L1435.7 591 L1447.8 603.2 L1449.6 615.2 L1450.3 627.2 L1451 639.2 L1452.2 651.2 L1453.6 663.3 L1456 675.3 L1459.3 687.3 L1464 699.4 L1470.1 711.5 L1478.1 723.7 L1490.3 735.9 L1519.5 747.4"/>
</g>
<defs><radialGradient id="inset-d-r" gradientUnits="userSpaceOnUse" cx="1495" cy="562" r="140" gradientTransform="translate(1495 562) scale(1 1.2) translate(-1495 -562)"><stop offset="0" stop-color="#000" stop-opacity="0.5"/><stop offset="0.55" stop-color="#000" stop-opacity="0.375"/><stop offset="1" stop-color="#000" stop-opacity="0"/></radialGradient></defs>
<path d="M1519.5 328.7 L1499.5 331.7 L1492.9 334.7 L1488.2 337.7 L1484.1 340.7 L1480.6 343.7 L1477.5 346.7 L1474.7 349.7 L1472.3 352.7 L1470 355.7 L1467.8 358.7 L1465.7 361.7 L1463.8 364.7 L1462.3 367.7 L1461.1 370.7 L1459.8 373.7 L1458.6 376.7 L1457.5 379.7 L1456.3 382.7 L1455.2 385.7 L1454.4 388.7 L1453.7 391.7 L1453.1 394.7 L1452.5 397.7 L1451.9 400.6 L1451.3 403.6 L1450.8 406.6 L1450.3 409.6 L1450.1 412.6 L1450 415.6 L1449.8 418.6 L1449.7 421.6 L1449.5 424.6 L1449.4 427.6 L1449.2 430.6 L1449.1 433.6 L1448.9 436.6 L1448.8 439.6 L1448.6 442.6 L1448.5 445.6 L1448.3 448.6 L1448.2 451.6 L1448 454.6 L1447.8 457.6 L1447.5 460.6 L1447.3 463.6 L1447.1 466.6 L1446.6 469.6 L1445.9 472.6 L1444.6 475.6 L1441.3 478.6 L1436.1 481.6 L1429.5 484.6 L1421.8 487.6 L1414.6 490.6 L1408.1 493.6 L1402.2 496.6 L1396.8 499.6 L1392 502.6 L1387.6 505.6 L1384 508.6 L1381.2 511.6 L1378.8 514.6 L1376.7 517.6 L1375.2 520.6 L1374.5 523.6 L1373.8 526.6 L1373.2 529.6 L1372.6 532.6 L1372.6 535.6 L1373 538.5 L1373.5 541.5 L1374 544.5 L1374.9 547.5 L1376.3 550.5 L1378.1 553.5 L1380 556.5 L1382.4 559.5 L1385.5 562.5 L1388.8 565.5 L1392.4 568.5 L1396.5 571.5 L1401.2 574.5 L1406 577.5 L1411.2 580.5 L1416.9 583.5 L1422.9 586.5 L1428.9 589.5 L1435 592.5 L1440.1 595.5 L1443.8 598.5 L1446 601.5 L1447.2 604.5 L1447.7 607.5 L1448.2 610.5 L1448.6 613.5 L1449 616.5 L1449.3 619.5 L1449.4 622.5 L1449.6 625.5 L1449.7 628.5 L1449.9 631.5 L1450 634.5 L1450.2 637.5 L1450.4 640.5 L1450.7 643.5 L1451 646.5 L1451.3 649.5 L1451.6 652.5 L1451.9 655.5 L1452.2 658.5 L1452.6 661.5 L1453.1 664.5 L1453.6 667.5 L1454.2 670.5 L1454.8 673.5 L1455.4 676.5 L1456 679.4 L1456.7 682.4 L1457.6 685.4 L1458.7 688.4 L1459.9 691.4 L1461.1 694.4 L1462.3 697.4 L1463.5 700.4 L1464.8 703.4 L1466.2 706.4 L1467.9 709.4 L1469.7 712.4 L1471.5 715.4 L1473.4 718.4 L1475.4 721.4 L1477.7 724.4 L1480.4 727.4 L1483.3 730.4 L1486.4 733.4 L1490 736.4 L1494.3 739.4 L1499.3 742.4 L1506.7 745.4 L1519.5 747.4 L1519.5 747.4 L1535.2 744.4 L1541.5 741.4 L1546.2 738.4 L1550.2 735.4 L1553.7 732.4 L1556.7 729.4 L1559.5 726.4 L1562.1 723.4 L1564.3 720.4 L1566.2 717.4 L1568.1 714.4 L1569.9 711.4 L1571.7 708.4 L1573.3 705.4 L1574.6 702.4 L1575.9 699.4 L1577.1 696.4 L1578.3 693.4 L1579.5 690.4 L1580.6 687.4 L1581.7 684.4 L1582.5 681.4 L1583.2 678.4 L1583.8 675.5 L1584.4 672.5 L1585 669.5 L1585.6 666.5 L1586.1 663.5 L1586.6 660.5 L1586.9 657.5 L1587.2 654.5 L1587.5 651.5 L1587.8 648.5 L1588.1 645.5 L1588.4 642.5 L1588.7 639.5 L1588.9 636.5 L1589 633.5 L1589.2 630.5 L1589.3 627.5 L1589.5 624.5 L1589.6 621.5 L1589.8 618.5 L1590.1 615.5 L1590.6 612.5 L1591 609.5 L1591.4 606.5 L1592.1 603.5 L1593.7 600.5 L1596.3 597.5 L1600.5 594.5 L1606 591.5 L1612.1 588.5 L1618.2 585.5 L1624.1 582.5 L1629.5 579.5 L1634.6 576.5 L1639.4 573.5 L1643.9 570.5 L1647.9 567.5 L1651.3 564.5 L1654.6 561.5 L1657.5 558.5 L1659.7 555.5 L1661.5 552.5 L1663.2 549.5 L1664.5 546.5 L1665.2 543.5 L1665.7 540.5 L1666.2 537.6 L1666.5 534.6 L1666.2 531.6 L1665.6 528.6 L1665 525.6 L1664.3 522.6 L1663.4 519.6 L1661.7 516.6 L1659.4 513.6 L1656.9 510.6 L1653.9 507.6 L1650 504.6 L1645.5 501.6 L1640.5 498.6 L1634.9 495.6 L1628.8 492.6 L1622.1 489.6 L1614.5 486.6 L1607.2 483.6 L1600.9 480.6 L1596.3 477.6 L1593.7 474.6 L1592.9 471.6 L1592.2 468.6 L1591.8 465.6 L1591.6 462.6 L1591.4 459.6 L1591.2 456.6 L1591 453.6 L1590.8 450.6 L1590.6 447.6 L1590.5 444.6 L1590.3 441.6 L1590.2 438.6 L1590 435.6 L1589.9 432.6 L1589.7 429.6 L1589.6 426.6 L1589.4 423.6 L1589.3 420.6 L1589.1 417.6 L1589 414.6 L1588.8 411.6 L1588.5 408.6 L1588.1 405.6 L1587.5 402.6 L1586.9 399.6 L1586.3 396.7 L1585.7 393.7 L1585.1 390.7 L1584.4 387.7 L1583.4 384.7 L1582.3 381.7 L1581.1 378.7 L1580 375.7 L1578.8 372.7 L1577.5 369.7 L1576.2 366.7 L1574.6 363.7 L1572.6 360.7 L1570.5 357.7 L1568.3 354.7 L1565.9 351.7 L1563.4 348.7 L1560.5 345.7 L1557.2 342.7 L1553.6 339.7 L1549.3 336.7 L1544.1 333.7 L1536.7 330.7 Z" fill="url(#inset-d-r)"/>
</g>
<g id="inset-e">
<rect x="1239.9" y="1713.9" width="553.9" height="547.8" fill="#990000"/>
<rect x="1248.3" y="1722.1" width="537.2" height="531.4" fill="#000"/>
<defs><linearGradient id="inset-e-g" gradientUnits="userSpaceOnUse" x1="1648" y1="1833.4" x2="1388" y2="2141.4"><stop offset="0" stop-color="#2eea2e"/><stop offset="0.24" stop-color="#26d626"/><stop offset="0.4" stop-color="#1cb01c"/><stop offset="0.54" stop-color="#138413"/><stop offset="0.68" stop-color="#0e660e"/><stop offset="1" stop-color="#0a4e0a"/></linearGradient>
<clipPath id="inset-e-c"><path d="M1518 1833.4 L1495.4 1835.6 L1488.3 1837.8 L1483.1 1840 L1478.8 1842.2 L1475.4 1844.4 L1472.4 1846.6 L1469.5 1848.8 L1466.8 1851 L1464.4 1853.2 L1462.1 1855.5 L1460 1857.7 L1457.9 1859.9 L1455.8 1862.1 L1453.9 1864.3 L1452 1866.5 L1450.2 1868.7 L1448.4 1870.9 L1446.6 1873.1 L1444.9 1875.3 L1443.2 1877.5 L1441.6 1879.7 L1440 1881.9 L1438.4 1884.1 L1436.7 1886.3 L1435.1 1888.5 L1433.6 1890.7 L1432 1892.9 L1430.5 1895.1 L1429 1897.4 L1427.6 1899.6 L1426.1 1901.8 L1424.5 1904 L1422.9 1906.2 L1421.3 1908.4 L1419.7 1910.6 L1418.2 1912.8 L1416.7 1915 L1415.2 1917.2 L1413.7 1919.4 L1412.2 1921.6 L1410.9 1923.8 L1409.6 1926 L1408.3 1928.2 L1407.1 1930.4 L1405.9 1932.6 L1404.7 1934.8 L1403.5 1937 L1402.3 1939.3 L1401.1 1941.5 L1400.1 1943.7 L1399.3 1945.9 L1398.6 1948.1 L1397.9 1950.3 L1397.2 1952.5 L1396.6 1954.7 L1395.9 1956.9 L1395.2 1959.1 L1394.6 1961.3 L1394 1963.5 L1393.6 1965.7 L1393.4 1967.9 L1393.3 1970.1 L1393.1 1972.3 L1393 1974.5 L1392.8 1976.7 L1392.7 1978.9 L1392.5 1981.2 L1392.4 1983.4 L1392.4 1985.6 L1392.7 1987.8 L1392.9 1990 L1393.2 1992.2 L1393.5 1994.4 L1393.7 1996.6 L1394 1998.8 L1394.3 2001 L1394.5 2003.2 L1394.9 2005.4 L1395.6 2007.6 L1396.5 2009.8 L1397.3 2012 L1398.2 2014.2 L1399.1 2016.4 L1400 2018.6 L1400.9 2020.8 L1401.8 2023.1 L1402.7 2025.3 L1403.8 2027.5 L1405.1 2029.7 L1406.3 2031.9 L1407.6 2034.1 L1409 2036.3 L1410.3 2038.5 L1411.6 2040.7 L1413 2042.9 L1414.4 2045.1 L1415.8 2047.3 L1417.3 2049.5 L1418.7 2051.7 L1420.2 2053.9 L1421.7 2056.1 L1423.3 2058.3 L1424.8 2060.5 L1426.4 2062.7 L1428 2065 L1429.7 2067.2 L1431.3 2069.4 L1433 2071.6 L1434.6 2073.8 L1436.4 2076 L1438.1 2078.2 L1439.9 2080.4 L1441.7 2082.6 L1443.6 2084.8 L1445.5 2087 L1447.2 2089.2 L1448.8 2091.4 L1450.5 2093.6 L1452.2 2095.8 L1453.9 2098 L1455.7 2100.2 L1457.5 2102.4 L1459.4 2104.6 L1461.3 2106.9 L1463.3 2109.1 L1465.4 2111.3 L1467.5 2113.5 L1469.8 2115.7 L1472.1 2117.9 L1474.5 2120.1 L1476.9 2122.3 L1479.5 2124.5 L1482.2 2126.7 L1485.2 2128.9 L1488.4 2131.1 L1492 2133.3 L1496.1 2135.5 L1500.9 2137.7 L1507.2 2139.9 L1518 2141.4 L1518 2141.4 L1531.3 2139.2 L1536.9 2137 L1541.3 2134.8 L1545.3 2132.6 L1548.7 2130.4 L1551.8 2128.2 L1554.7 2126 L1557.4 2123.8 L1559.9 2121.6 L1562.3 2119.3 L1564.7 2117.1 L1567 2114.9 L1569.2 2112.7 L1571.3 2110.5 L1573.4 2108.3 L1575.3 2106.1 L1577.3 2103.9 L1579.1 2101.7 L1580.9 2099.5 L1582.7 2097.3 L1584.4 2095.1 L1586.1 2092.9 L1587.7 2090.7 L1589.4 2088.5 L1591.1 2086.3 L1593 2084.1 L1594.9 2081.9 L1596.7 2079.7 L1598.5 2077.4 L1600.2 2075.2 L1601.9 2073 L1603.6 2070.8 L1605.2 2068.6 L1606.9 2066.4 L1608.5 2064.2 L1610.1 2062 L1611.7 2059.8 L1613.2 2057.6 L1614.8 2055.4 L1616.3 2053.2 L1617.8 2051 L1619.2 2048.8 L1620.7 2046.6 L1622.1 2044.4 L1623.5 2042.2 L1624.8 2040 L1626.2 2037.8 L1627.5 2035.5 L1628.8 2033.3 L1630.1 2031.1 L1631.4 2028.9 L1632.6 2026.7 L1633.6 2024.5 L1634.5 2022.3 L1635.4 2020.1 L1636.3 2017.9 L1637.2 2015.7 L1638.1 2013.5 L1638.9 2011.3 L1639.8 2009.1 L1640.6 2006.9 L1641.2 2004.7 L1641.6 2002.5 L1641.8 2000.3 L1642.1 1998.1 L1642.4 1995.9 L1642.6 1993.6 L1642.9 1991.4 L1643.2 1989.2 L1643.4 1987 L1643.6 1984.8 L1643.6 1982.6 L1643.4 1980.4 L1643.3 1978.2 L1643.1 1976 L1643 1973.8 L1642.8 1971.6 L1642.7 1969.4 L1642.5 1967.2 L1642.3 1965 L1641.8 1962.8 L1641.2 1960.6 L1640.5 1958.4 L1639.9 1956.2 L1639.2 1954 L1638.5 1951.7 L1637.9 1949.5 L1637.2 1947.3 L1636.5 1945.1 L1635.6 1942.9 L1634.5 1940.7 L1633.3 1938.5 L1632.1 1936.3 L1630.9 1934.1 L1629.7 1931.9 L1628.5 1929.7 L1627.3 1927.5 L1626 1925.3 L1624.7 1923.1 L1623.3 1920.9 L1621.8 1918.7 L1620.3 1916.5 L1618.8 1914.3 L1617.3 1912.1 L1615.7 1909.8 L1614.2 1907.6 L1612.6 1905.4 L1611 1903.2 L1609.4 1901 L1608 1898.8 L1606.5 1896.6 L1605 1894.4 L1603.5 1892.2 L1601.9 1890 L1600.3 1887.8 L1598.7 1885.6 L1597.1 1883.4 L1595.5 1881.2 L1593.8 1879 L1592.2 1876.8 L1590.5 1874.6 L1588.8 1872.4 L1587 1870.2 L1585.2 1867.9 L1583.4 1865.7 L1581.5 1863.5 L1579.5 1861.3 L1577.5 1859.1 L1575.3 1856.9 L1573.1 1854.7 L1570.8 1852.5 L1568.3 1850.3 L1565.6 1848.1 L1562.6 1845.9 L1559.5 1843.7 L1555.9 1841.5 L1551.3 1839.3 L1545.5 1837.1 L1537.6 1834.9 Z"/></clipPath></defs>
<line x1="1519" y1="1760" x2="1519" y2="1835.4" stroke="#0d0d0d" stroke-width="1.8"/>
<line x1="1628" y1="1987.5" x2="1661" y2="1987.5" stroke="#3c3c3c" stroke-width="1.8"/>
<path d="M1518 1833.4 L1495.4 1835.6 L1488.3 1837.8 L1483.1 1840 L1478.8 1842.2 L1475.4 1844.4 L1472.4 1846.6 L1469.5 1848.8 L1466.8 1851 L1464.4 1853.2 L1462.1 1855.5 L1460 1857.7 L1457.9 1859.9 L1455.8 1862.1 L1453.9 1864.3 L1452 1866.5 L1450.2 1868.7 L1448.4 1870.9 L1446.6 1873.1 L1444.9 1875.3 L1443.2 1877.5 L1441.6 1879.7 L1440 1881.9 L1438.4 1884.1 L1436.7 1886.3 L1435.1 1888.5 L1433.6 1890.7 L1432 1892.9 L1430.5 1895.1 L1429 1897.4 L1427.6 1899.6 L1426.1 1901.8 L1424.5 1904 L1422.9 1906.2 L1421.3 1908.4 L1419.7 1910.6 L1418.2 1912.8 L1416.7 1915 L1415.2 1917.2 L1413.7 1919.4 L1412.2 1921.6 L1410.9 1923.8 L1409.6 1926 L1408.3 1928.2 L1407.1 1930.4 L1405.9 1932.6 L1404.7 1934.8 L1403.5 1937 L1402.3 1939.3 L1401.1 1941.5 L1400.1 1943.7 L1399.3 1945.9 L1398.6 1948.1 L1397.9 1950.3 L1397.2 1952.5 L1396.6 1954.7 L1395.9 1956.9 L1395.2 1959.1 L1394.6 1961.3 L1394 1963.5 L1393.6 1965.7 L1393.4 1967.9 L1393.3 1970.1 L1393.1 1972.3 L1393 1974.5 L1392.8 1976.7 L1392.7 1978.9 L1392.5 1981.2 L1392.4 1983.4 L1392.4 1985.6 L1392.7 1987.8 L1392.9 1990 L1393.2 1992.2 L1393.5 1994.4 L1393.7 1996.6 L1394 1998.8 L1394.3 2001 L1394.5 2003.2 L1394.9 2005.4 L1395.6 2007.6 L1396.5 2009.8 L1397.3 2012 L1398.2 2014.2 L1399.1 2016.4 L1400 2018.6 L1400.9 2020.8 L1401.8 2023.1 L1402.7 2025.3 L1403.8 2027.5 L1405.1 2029.7 L1406.3 2031.9 L1407.6 2034.1 L1409 2036.3 L1410.3 2038.5 L1411.6 2040.7 L1413 2042.9 L1414.4 2045.1 L1415.8 2047.3 L1417.3 2049.5 L1418.7 2051.7 L1420.2 2053.9 L1421.7 2056.1 L1423.3 2058.3 L1424.8 2060.5 L1426.4 2062.7 L1428 2065 L1429.7 2067.2 L1431.3 2069.4 L1433 2071.6 L1434.6 2073.8 L1436.4 2076 L1438.1 2078.2 L1439.9 2080.4 L1441.7 2082.6 L1443.6 2084.8 L1445.5 2087 L1447.2 2089.2 L1448.8 2091.4 L1450.5 2093.6 L1452.2 2095.8 L1453.9 2098 L1455.7 2100.2 L1457.5 2102.4 L1459.4 2104.6 L1461.3 2106.9 L1463.3 2109.1 L1465.4 2111.3 L1467.5 2113.5 L1469.8 2115.7 L1472.1 2117.9 L1474.5 2120.1 L1476.9 2122.3 L1479.5 2124.5 L1482.2 2126.7 L1485.2 2128.9 L1488.4 2131.1 L1492 2133.3 L1496.1 2135.5 L1500.9 2137.7 L1507.2 2139.9 L1518 2141.4 L1518 2141.4 L1531.3 2139.2 L1536.9 2137 L1541.3 2134.8 L1545.3 2132.6 L1548.7 2130.4 L1551.8 2128.2 L1554.7 2126 L1557.4 2123.8 L1559.9 2121.6 L1562.3 2119.3 L1564.7 2117.1 L1567 2114.9 L1569.2 2112.7 L1571.3 2110.5 L1573.4 2108.3 L1575.3 2106.1 L1577.3 2103.9 L1579.1 2101.7 L1580.9 2099.5 L1582.7 2097.3 L1584.4 2095.1 L1586.1 2092.9 L1587.7 2090.7 L1589.4 2088.5 L1591.1 2086.3 L1593 2084.1 L1594.9 2081.9 L1596.7 2079.7 L1598.5 2077.4 L1600.2 2075.2 L1601.9 2073 L1603.6 2070.8 L1605.2 2068.6 L1606.9 2066.4 L1608.5 2064.2 L1610.1 2062 L1611.7 2059.8 L1613.2 2057.6 L1614.8 2055.4 L1616.3 2053.2 L1617.8 2051 L1619.2 2048.8 L1620.7 2046.6 L1622.1 2044.4 L1623.5 2042.2 L1624.8 2040 L1626.2 2037.8 L1627.5 2035.5 L1628.8 2033.3 L1630.1 2031.1 L1631.4 2028.9 L1632.6 2026.7 L1633.6 2024.5 L1634.5 2022.3 L1635.4 2020.1 L1636.3 2017.9 L1637.2 2015.7 L1638.1 2013.5 L1638.9 2011.3 L1639.8 2009.1 L1640.6 2006.9 L1641.2 2004.7 L1641.6 2002.5 L1641.8 2000.3 L1642.1 1998.1 L1642.4 1995.9 L1642.6 1993.6 L1642.9 1991.4 L1643.2 1989.2 L1643.4 1987 L1643.6 1984.8 L1643.6 1982.6 L1643.4 1980.4 L1643.3 1978.2 L1643.1 1976 L1643 1973.8 L1642.8 1971.6 L1642.7 1969.4 L1642.5 1967.2 L1642.3 1965 L1641.8 1962.8 L1641.2 1960.6 L1640.5 1958.4 L1639.9 1956.2 L1639.2 1954 L1638.5 1951.7 L1637.9 1949.5 L1637.2 1947.3 L1636.5 1945.1 L1635.6 1942.9 L1634.5 1940.7 L1633.3 1938.5 L1632.1 1936.3 L1630.9 1934.1 L1629.7 1931.9 L1628.5 1929.7 L1627.3 1927.5 L1626 1925.3 L1624.7 1923.1 L1623.3 1920.9 L1621.8 1918.7 L1620.3 1916.5 L1618.8 1914.3 L1617.3 1912.1 L1615.7 1909.8 L1614.2 1907.6 L1612.6 1905.4 L1611 1903.2 L1609.4 1901 L1608 1898.8 L1606.5 1896.6 L1605 1894.4 L1603.5 1892.2 L1601.9 1890 L1600.3 1887.8 L1598.7 1885.6 L1597.1 1883.4 L1595.5 1881.2 L1593.8 1879 L1592.2 1876.8 L1590.5 1874.6 L1588.8 1872.4 L1587 1870.2 L1585.2 1867.9 L1583.4 1865.7 L1581.5 1863.5 L1579.5 1861.3 L1577.5 1859.1 L1575.3 1856.9 L1573.1 1854.7 L1570.8 1852.5 L1568.3 1850.3 L1565.6 1848.1 L1562.6 1845.9 L1559.5 1843.7 L1555.9 1841.5 L1551.3 1839.3 L1545.5 1837.1 L1537.6 1834.9 Z" fill="url(#inset-e-g)" fill-opacity="0.07" stroke="url(#inset-e-g)" stroke-width="2.2" stroke-opacity="0.9"/>
<g clip-path="url(#inset-e-c)" fill="none" stroke="url(#inset-e-g)" stroke-width="1.5" stroke-opacity="0.74">
<ellipse cx="1518" cy="1837.1" rx="27.5" ry="3.8"/>
<ellipse cx="1518" cy="1843.7" rx="41.5" ry="5.8"/>
<ellipse cx="1518" cy="1850.3" rx="50.3" ry="7"/>
<ellipse cx="1518" cy="1856.9" rx="57.3" ry="8"/>
<ellipse cx="1518" cy="1863.5" rx="63.5" ry="8.8"/>
<ellipse cx="1518" cy="1870.2" rx="69" ry="9.6"/>
<ellipse cx="1518" cy="1876.8" rx="74.2" ry="10.3"/>
<ellipse cx="1518" cy="1883.4" rx="79.1" ry="11"/>
<ellipse cx="1518" cy="1890" rx="83.9" ry="11.7"/>
<ellipse cx="1518" cy="1896.6" rx="88.5" ry="12.3"/>
<ellipse cx="1518" cy="1903.2" rx="93" ry="12.9"/>
<ellipse cx="1518" cy="1909.8" rx="97.7" ry="13.6"/>
<ellipse cx="1518" cy="1917.2" rx="102.8" ry="14.3"/>
<ellipse cx="1518" cy="1923.8" rx="107.1" ry="14.9"/>
<ellipse cx="1518" cy="1930.4" rx="110.9" ry="15.4"/>
<ellipse cx="1518" cy="1937" rx="114.5" ry="15.9"/>
<ellipse cx="1518" cy="1943.7" rx="117.9" ry="16.4"/>
<ellipse cx="1518" cy="1950.3" rx="120.1" ry="16.7"/>
<ellipse cx="1518" cy="1956.9" rx="122.1" ry="17"/>
<ellipse cx="1518" cy="1963.5" rx="124" ry="17.3"/>
<ellipse cx="1518" cy="1970.1" rx="124.7" ry="17.4"/>
<ellipse cx="1518" cy="1976.7" rx="125.2" ry="17.4"/>
<ellipse cx="1518" cy="1983.4" rx="125.6" ry="17.5"/>
<ellipse cx="1518" cy="1990.7" rx="125" ry="17.4"/>
<ellipse cx="1518" cy="1997.3" rx="124.2" ry="17.3"/>
<ellipse cx="1518" cy="2003.9" rx="123.4" ry="17.2"/>
<ellipse cx="1518" cy="2010.6" rx="121.2" ry="16.9"/>
<ellipse cx="1518" cy="2017.2" rx="118.6" ry="16.5"/>
<ellipse cx="1518" cy="2023.8" rx="115.9" ry="16.1"/>
<ellipse cx="1518" cy="2030.4" rx="112.5" ry="15.7"/>
<ellipse cx="1518" cy="2037" rx="108.6" ry="15.1"/>
<ellipse cx="1518" cy="2043.6" rx="104.5" ry="14.5"/>
<ellipse cx="1518" cy="2050.2" rx="100.3" ry="14"/>
<ellipse cx="1518" cy="2056.9" rx="95.8" ry="13.3"/>
<ellipse cx="1518" cy="2064.2" rx="90.5" ry="12.6"/>
<ellipse cx="1518" cy="2070.8" rx="85.6" ry="11.9"/>
<ellipse cx="1518" cy="2077.4" rx="80.5" ry="11.2"/>
<ellipse cx="1518" cy="2084.1" rx="75" ry="10.4"/>
<ellipse cx="1518" cy="2090.7" rx="69.7" ry="9.7"/>
<ellipse cx="1518" cy="2097.3" rx="64.7" ry="9"/>
<ellipse cx="1518" cy="2103.9" rx="59.3" ry="8.2"/>
<ellipse cx="1518" cy="2110.5" rx="53.3" ry="7.4"/>
<ellipse cx="1518" cy="2117.1" rx="46.7" ry="6.5"/>
<ellipse cx="1518" cy="2123.8" rx="39.4" ry="5.5"/>
<ellipse cx="1518" cy="2130.4" rx="30.7" ry="4.3"/>
<ellipse cx="1518" cy="2137.7" rx="17.1" ry="2.4"/>
<path d="M1518 1833.4 L1557.2 1842.2 L1569.2 1851 L1578.1 1859.9 L1585.8 1868.7 L1592.8 1877.5 L1599.3 1886.3 L1605.5 1895.1 L1611.5 1904 L1617.8 1912.8 L1623.8 1921.6 L1628.9 1930.4 L1633.7 1939.3 L1637.4 1948.1 L1640.1 1956.9 L1642.4 1965.7 L1643 1974.5 L1643.6 1983.4 L1642.8 1992.2 L1641.7 2001 L1639.5 2009.8 L1636 2018.6 L1632.2 2027.5 L1627 2036.3 L1621.6 2045.1 L1615.8 2053.9 L1609.6 2062.7 L1603 2071.6 L1596.1 2080.4 L1588.8 2089.2 L1582.1 2098 L1574.7 2106.9 L1566.2 2115.7 L1556.5 2124.5 L1544 2133.3 L1518 2141.4"/>
<path d="M1518 1833.4 L1556.9 1842.9 L1568.7 1852 L1577.6 1861 L1585.3 1869.9 L1592.1 1878.9 L1598.6 1887.8 L1604.7 1896.7 L1610.7 1905.7 L1617 1914.6 L1622.9 1923.5 L1628 1932.4 L1632.7 1941.4 L1636.4 1950.2 L1639.1 1959.1 L1641.3 1968 L1641.9 1976.8 L1642.5 1985.6 L1641.7 1994.4 L1640.7 2003.2 L1638.5 2012 L1635 2020.8 L1631.2 2029.5 L1626.1 2038.3 L1620.7 2047 L1614.9 2055.7 L1608.8 2064.4 L1602.3 2073.1 L1595.4 2081.8 L1588.2 2090.5 L1581.6 2099.2 L1574.2 2107.9 L1565.8 2116.5 L1556.2 2125.2 L1543.8 2133.8 L1518 2141.4"/>
<path d="M1518 1833.4 L1556.9 1841.5 L1568.7 1850.1 L1577.6 1858.8 L1585.3 1867.5 L1592.1 1876.1 L1598.6 1884.8 L1604.7 1893.6 L1610.7 1902.3 L1617 1911 L1622.9 1919.7 L1628 1928.4 L1632.7 1937.2 L1636.4 1945.9 L1639.1 1954.7 L1641.3 1963.5 L1641.9 1972.3 L1642.5 1981.1 L1641.7 1989.9 L1640.7 1998.8 L1638.5 2007.6 L1635 2016.5 L1631.2 2025.4 L1626.1 2034.3 L1620.7 2043.2 L1614.9 2052.1 L1608.8 2061.1 L1602.3 2070 L1595.4 2079 L1588.2 2087.9 L1581.6 2096.9 L1574.2 2105.8 L1565.8 2114.8 L1556.2 2123.8 L1543.8 2132.8 L1518 2141.4"/>
<path d="M1518 1833.4 L1555.9 1843.6 L1567.4 1852.9 L1576.1 1862 L1583.5 1871.1 L1590.2 1880.2 L1596.5 1889.3 L1602.5 1898.3 L1608.3 1907.3 L1614.4 1916.4 L1620.2 1925.4 L1625.1 1934.4 L1629.8 1943.4 L1633.3 1952.4 L1635.9 1961.3 L1638.1 1970.2 L1638.7 1979 L1639.3 1987.9 L1638.6 1996.7 L1637.5 2005.5 L1635.4 2014.2 L1632 2022.9 L1628.3 2031.6 L1623.3 2040.2 L1618.1 2048.8 L1612.5 2057.4 L1606.5 2066 L1600.1 2074.6 L1593.5 2083.2 L1586.4 2091.8 L1579.9 2100.3 L1572.8 2108.9 L1564.6 2117.4 L1555.2 2125.9 L1543.2 2134.3 L1518 2141.4"/>
<path d="M1518 1833.4 L1555.9 1840.8 L1567.4 1849.2 L1576.1 1857.7 L1583.5 1866.2 L1590.2 1874.8 L1596.5 1883.4 L1602.5 1892 L1608.3 1900.6 L1614.4 1909.2 L1620.2 1917.8 L1625.1 1926.4 L1629.8 1935.1 L1633.3 1943.8 L1635.9 1952.5 L1638.1 1961.2 L1638.7 1970 L1639.3 1978.8 L1638.6 1987.7 L1637.5 1996.5 L1635.4 2005.4 L1632 2014.4 L1628.3 2023.3 L1623.3 2032.4 L1618.1 2041.4 L1612.5 2050.4 L1606.5 2059.4 L1600.1 2068.5 L1593.5 2077.6 L1586.4 2086.7 L1579.9 2095.7 L1572.8 2104.8 L1564.6 2113.9 L1555.2 2123.1 L1543.2 2132.4 L1518 2141.4"/>
<path d="M1518 1833.4 L1554.2 1844.3 L1565.3 1853.8 L1573.6 1863.1 L1580.7 1872.3 L1587.1 1881.5 L1593.1 1890.7 L1598.8 1899.8 L1604.4 1908.9 L1610.2 1918.1 L1615.7 1927.2 L1620.5 1936.3 L1624.9 1945.4 L1628.3 1954.4 L1630.8 1963.4 L1632.9 1972.3 L1633.5 1981.2 L1634 1990 L1633.3 1998.8 L1632.3 2007.6 L1630.3 2016.3 L1627 2024.9 L1623.5 2033.5 L1618.7 2042.1 L1613.7 2050.6 L1608.3 2059.1 L1602.6 2067.6 L1596.6 2076.1 L1590.2 2084.5 L1583.4 2093 L1577.2 2101.4 L1570.4 2109.9 L1562.6 2118.2 L1553.6 2126.5 L1542.1 2134.7 L1518 2141.4"/>
<path d="M1518 1833.4 L1554.2 1840.1 L1565.3 1848.3 L1573.6 1856.7 L1580.7 1865.1 L1587.1 1873.5 L1593.1 1882 L1598.8 1890.5 L1604.4 1899 L1610.2 1907.5 L1615.7 1916 L1620.5 1924.5 L1624.9 1933.1 L1628.3 1941.7 L1630.8 1950.4 L1632.9 1959.1 L1633.5 1967.9 L1634 1976.7 L1633.3 1985.5 L1632.3 1994.4 L1630.3 2003.3 L1627 2012.4 L1623.5 2021.4 L1618.7 2030.5 L1613.7 2039.6 L1608.3 2048.7 L1602.6 2057.9 L1596.6 2067 L1590.2 2076.2 L1583.4 2085.4 L1577.2 2094.6 L1570.4 2103.8 L1562.6 2113.1 L1553.6 2122.4 L1542.1 2131.9 L1518 2141.4"/>
<path d="M1518 1833.4 L1551.9 1844.9 L1562.3 1854.6 L1570.1 1864 L1576.8 1873.4 L1582.7 1882.7 L1588.4 1892 L1593.8 1901.2 L1599 1910.5 L1604.4 1919.7 L1609.6 1929 L1614 1938.1 L1618.2 1947.3 L1621.4 1956.4 L1623.7 1965.4 L1625.7 1974.4 L1626.3 1983.2 L1626.8 1992.1 L1626.1 2000.9 L1625.2 2009.6 L1623.2 2018.3 L1620.2 2026.9 L1616.9 2035.4 L1612.4 2043.9 L1607.7 2052.3 L1602.7 2060.7 L1597.3 2069.1 L1591.6 2077.5 L1585.6 2085.8 L1579.3 2094.1 L1573.5 2102.5 L1567.1 2110.8 L1559.8 2119 L1551.4 2127.2 L1540.6 2135.1 L1518 2141.4"/>
<path d="M1518 1833.4 L1551.9 1839.5 L1562.3 1847.5 L1570.1 1855.7 L1576.8 1864 L1582.7 1872.3 L1588.4 1880.7 L1593.8 1889.1 L1599 1897.5 L1604.4 1905.8 L1609.6 1914.2 L1614 1922.7 L1618.2 1931.2 L1621.4 1939.8 L1623.7 1948.4 L1625.7 1957.1 L1626.3 1965.8 L1626.8 1974.6 L1626.1 1983.5 L1625.2 1992.4 L1623.2 2001.4 L1620.2 2010.4 L1616.9 2019.5 L1612.4 2028.7 L1607.7 2037.9 L1602.7 2047.1 L1597.3 2056.4 L1591.6 2065.6 L1585.6 2075 L1579.3 2084.3 L1573.5 2093.6 L1567.1 2102.9 L1559.8 2112.3 L1551.4 2121.8 L1540.6 2131.5 L1518 2141.4"/>
<path d="M1518 1833.4 L1549.1 1845.5 L1558.6 1855.4 L1565.7 1865 L1571.8 1874.4 L1577.3 1883.8 L1582.5 1893.2 L1587.4 1902.6 L1592.2 1911.9 L1597.2 1921.2 L1601.9 1930.6 L1606 1939.8 L1609.8 1949.1 L1612.7 1958.2 L1614.9 1967.2 L1616.7 1976.3 L1617.2 1985.1 L1617.6 1994 L1617 2002.8 L1616.2 2011.5 L1614.4 2020.1 L1611.6 2028.6 L1608.6 2037.1 L1604.5 2045.5 L1600.2 2053.9 L1595.6 2062.2 L1590.6 2070.5 L1585.5 2078.8 L1580 2087 L1574.2 2095.2 L1568.9 2103.5 L1563 2111.7 L1556.3 2119.8 L1548.6 2127.8 L1538.7 2135.5 L1518 2141.4"/>
<path d="M1518 1833.4 L1549.1 1838.9 L1558.6 1846.7 L1565.7 1854.8 L1571.8 1862.9 L1577.3 1871.2 L1582.5 1879.4 L1587.4 1887.7 L1592.2 1896 L1597.2 1904.3 L1601.9 1912.6 L1606 1921 L1609.8 1929.4 L1612.7 1938 L1614.9 1946.5 L1616.7 1955.2 L1617.2 1963.9 L1617.6 1972.7 L1617 1981.6 L1616.2 1990.5 L1614.4 1999.5 L1611.6 2008.6 L1608.6 2017.8 L1604.5 2027 L1600.2 2036.3 L1595.6 2045.6 L1590.6 2055 L1585.5 2064.4 L1580 2073.8 L1574.2 2083.2 L1568.9 2092.6 L1563 2102 L1556.3 2111.6 L1548.6 2121.2 L1538.7 2131.1 L1518 2141.4"/>
<path d="M1518 1833.4 L1545.7 1846.1 L1554.2 1856.1 L1560.5 1865.8 L1566 1875.4 L1570.9 1884.9 L1575.5 1894.3 L1579.9 1903.8 L1584.1 1913.2 L1588.6 1922.6 L1592.8 1932 L1596.4 1941.3 L1599.8 1950.6 L1602.4 1959.8 L1604.3 1968.9 L1606 1978 L1606.4 1986.8 L1606.8 1995.7 L1606.3 2004.5 L1605.5 2013.2 L1603.9 2021.8 L1601.5 2030.3 L1598.7 2038.7 L1595.1 2047 L1591.3 2055.3 L1587.1 2063.5 L1582.8 2071.8 L1578.1 2079.9 L1573.2 2088.1 L1568.1 2096.2 L1563.3 2104.3 L1558.1 2112.4 L1552.1 2120.4 L1545.3 2128.3 L1536.4 2135.9 L1518 2141.4"/>
<path d="M1518 1833.4 L1545.7 1838.4 L1554.2 1846 L1560.5 1853.9 L1566 1862 L1570.9 1870.1 L1575.5 1878.3 L1579.9 1886.5 L1584.1 1894.8 L1588.6 1903 L1592.8 1911.2 L1596.4 1919.5 L1599.8 1927.9 L1602.4 1936.3 L1604.3 1944.9 L1606 1953.5 L1606.4 1962.2 L1606.8 1971 L1606.3 1979.9 L1605.5 1988.8 L1603.9 1997.9 L1601.5 2007 L1598.7 2016.2 L1595.1 2025.6 L1591.3 2034.9 L1587.1 2044.3 L1582.8 2053.7 L1578.1 2063.2 L1573.2 2072.7 L1568.1 2082.2 L1563.3 2091.7 L1558.1 2101.3 L1552.1 2110.9 L1545.3 2120.7 L1536.4 2130.8 L1518 2141.4"/>
<path d="M1518 1833.4 L1541.9 1846.5 L1549.2 1856.7 L1554.6 1866.5 L1559.3 1876.2 L1563.5 1885.8 L1567.5 1895.3 L1571.3 1904.8 L1574.9 1914.3 L1578.8 1923.8 L1582.4 1933.3 L1585.5 1942.7 L1588.4 1952 L1590.7 1961.3 L1592.3 1970.4 L1593.7 1979.4 L1594.1 1988.3 L1594.4 1997.2 L1594 2006 L1593.3 2014.7 L1592 2023.2 L1589.9 2031.7 L1587.5 2040.1 L1584.4 2048.3 L1581.1 2056.5 L1577.5 2064.7 L1573.7 2072.9 L1569.8 2081 L1565.6 2089 L1561.1 2097 L1557 2105.1 L1552.5 2113.1 L1547.4 2121 L1541.5 2128.7 L1533.9 2136.2 L1518 2141.4"/>
<path d="M1518 1833.4 L1541.9 1837.9 L1549.2 1845.4 L1554.6 1853.2 L1559.3 1861.2 L1563.5 1869.3 L1567.5 1877.4 L1571.3 1885.5 L1574.9 1893.6 L1578.8 1901.8 L1582.4 1909.9 L1585.5 1918.2 L1588.4 1926.5 L1590.7 1934.9 L1592.3 1943.4 L1593.7 1952 L1594.1 1960.7 L1594.4 1969.5 L1594 1978.4 L1593.3 1987.3 L1592 1996.4 L1589.9 2005.6 L1587.5 2014.9 L1584.4 2024.2 L1581.1 2033.7 L1577.5 2043.1 L1573.7 2052.6 L1569.8 2062.2 L1565.6 2071.8 L1561.1 2081.4 L1557 2091 L1552.5 2100.6 L1547.4 2110.3 L1541.5 2120.2 L1533.9 2130.4 L1518 2141.4"/>
<path d="M1518 1833.4 L1537.6 1846.9 L1543.6 1857.2 L1548.1 1867.1 L1551.9 1876.9 L1555.4 1886.5 L1558.6 1896.1 L1561.7 1905.7 L1564.7 1915.2 L1567.9 1924.8 L1570.9 1934.4 L1573.5 1943.8 L1575.9 1953.2 L1577.7 1962.5 L1579.1 1971.6 L1580.2 1980.7 L1580.5 1989.6 L1580.8 1998.5 L1580.4 2007.2 L1579.9 2015.9 L1578.8 2024.5 L1577 2032.9 L1575.1 2041.2 L1572.5 2049.4 L1569.8 2057.6 L1566.9 2065.7 L1563.8 2073.8 L1560.5 2081.8 L1557.1 2089.8 L1553.4 2097.7 L1550.1 2105.8 L1546.3 2113.7 L1542.1 2121.5 L1537.3 2129.1 L1531 2136.5 L1518 2141.4"/>
<path d="M1518 1833.4 L1537.6 1837.5 L1543.6 1844.9 L1548.1 1852.6 L1551.9 1860.5 L1555.4 1868.5 L1558.6 1876.5 L1561.7 1884.6 L1564.7 1892.7 L1567.9 1900.8 L1570.9 1908.9 L1573.5 1917.1 L1575.9 1925.3 L1577.7 1933.7 L1579.1 1942.2 L1580.2 1950.7 L1580.5 1959.5 L1580.8 1968.2 L1580.4 1977.1 L1579.9 1986.1 L1578.8 1995.2 L1577 2004.4 L1575.1 2013.7 L1572.5 2023.1 L1569.8 2032.6 L1566.9 2042.1 L1563.8 2051.7 L1560.5 2061.3 L1557.1 2071 L1553.4 2080.7 L1550.1 2090.3 L1546.3 2100 L1542.1 2109.9 L1537.3 2119.8 L1531 2130.2 L1518 2141.4"/>
<path d="M1518 1833.4 L1533 1847.3 L1537.6 1857.6 L1541 1867.6 L1544 1877.4 L1546.6 1887.1 L1549.1 1896.8 L1551.5 1906.4 L1553.8 1916 L1556.2 1925.6 L1558.5 1935.2 L1560.4 1944.7 L1562.3 1954.1 L1563.7 1963.4 L1564.7 1972.6 L1565.6 1981.7 L1565.8 1990.6 L1566.1 1999.5 L1565.8 2008.2 L1565.4 2016.9 L1564.5 2025.4 L1563.2 2033.8 L1561.7 2042.1 L1559.7 2050.3 L1557.6 2058.4 L1555.4 2066.5 L1553 2074.5 L1550.5 2082.5 L1547.9 2090.4 L1545.1 2098.3 L1542.5 2106.3 L1539.7 2114.1 L1536.5 2121.9 L1532.8 2129.4 L1528 2136.7 L1518 2141.4"/>
<path d="M1518 1833.4 L1533 1837.2 L1537.6 1844.5 L1541 1852.1 L1544 1860 L1546.6 1867.9 L1549.1 1875.9 L1551.5 1883.9 L1553.8 1891.9 L1556.2 1900 L1558.5 1908 L1560.4 1916.2 L1562.3 1924.4 L1563.7 1932.7 L1564.7 1941.2 L1565.6 1949.7 L1565.8 1958.5 L1566.1 1967.2 L1565.8 1976.1 L1565.4 1985.1 L1564.5 1994.2 L1563.2 2003.5 L1561.7 2012.8 L1559.7 2022.3 L1557.6 2031.8 L1555.4 2041.4 L1553 2051 L1550.5 2060.6 L1547.9 2070.3 L1545.1 2080.1 L1542.5 2089.8 L1539.7 2099.6 L1536.5 2109.5 L1532.8 2119.5 L1528 2130 L1518 2141.4"/>
<path d="M1518 1833.4 L1528.1 1847.5 L1531.2 1857.9 L1533.6 1867.9 L1535.6 1877.8 L1537.3 1887.6 L1539 1897.3 L1540.6 1906.9 L1542.2 1916.5 L1543.8 1926.2 L1545.4 1935.8 L1546.7 1945.3 L1547.9 1954.8 L1548.9 1964.1 L1549.6 1973.3 L1550.2 1982.4 L1550.4 1991.3 L1550.5 2000.2 L1550.3 2009 L1550 2017.6 L1549.5 2026.2 L1548.5 2034.5 L1547.6 2042.8 L1546.2 2050.9 L1544.8 2059 L1543.3 2067.1 L1541.7 2075.1 L1540 2083 L1538.2 2090.9 L1536.3 2098.7 L1534.6 2106.6 L1532.7 2114.5 L1530.5 2122.2 L1528 2129.7 L1524.7 2136.8 L1518 2141.4"/>
<path d="M1518 1833.4 L1528.1 1837 L1531.2 1844.2 L1533.6 1851.8 L1535.6 1859.6 L1537.3 1867.5 L1539 1875.4 L1540.6 1883.4 L1542.2 1891.4 L1543.8 1899.4 L1545.4 1907.4 L1546.7 1915.5 L1547.9 1923.7 L1548.9 1932 L1549.6 1940.5 L1550.2 1949 L1550.4 1957.7 L1550.5 1966.5 L1550.3 1975.4 L1550 1984.4 L1549.5 1993.5 L1548.5 2002.8 L1547.6 2012.1 L1546.2 2021.6 L1544.8 2031.2 L1543.3 2040.8 L1541.7 2050.4 L1540 2060.1 L1538.2 2069.9 L1536.3 2079.7 L1534.6 2089.4 L1532.7 2099.2 L1530.5 2109.2 L1528 2119.3 L1524.7 2129.8 L1518 2141.4"/>
<path d="M1518 1833.4 L1523.1 1847.6 L1524.7 1858.1 L1525.9 1868.2 L1526.9 1878 L1527.8 1887.8 L1528.6 1897.5 L1529.4 1907.2 L1530.2 1916.9 L1531 1926.6 L1531.8 1936.2 L1532.5 1945.7 L1533.1 1955.2 L1533.6 1964.5 L1533.9 1973.7 L1534.2 1982.9 L1534.3 1991.8 L1534.4 2000.7 L1534.3 2009.4 L1534.2 2018.1 L1533.9 2026.6 L1533.4 2034.9 L1532.9 2043.2 L1532.2 2051.3 L1531.5 2059.4 L1530.8 2067.4 L1530 2075.4 L1529.1 2083.3 L1528.2 2091.2 L1527.2 2099 L1526.4 2106.9 L1525.4 2114.7 L1524.3 2122.3 L1523 2129.8 L1521.4 2136.9 L1518 2141.4"/>
<path d="M1518 1833.4 L1523.1 1836.8 L1524.7 1844 L1525.9 1851.6 L1526.9 1859.3 L1527.8 1867.2 L1528.6 1875.1 L1529.4 1883.1 L1530.2 1891.1 L1531 1899 L1531.8 1907 L1532.5 1915.1 L1533.1 1923.3 L1533.6 1931.6 L1533.9 1940 L1534.2 1948.6 L1534.3 1957.3 L1534.4 1966 L1534.3 1975 L1534.2 1983.9 L1533.9 1993.1 L1533.4 2002.4 L1532.9 2011.7 L1532.2 2021.2 L1531.5 2030.8 L1530.8 2040.4 L1530 2050.1 L1529.1 2059.8 L1528.2 2069.6 L1527.2 2079.4 L1526.4 2089.2 L1525.4 2099 L1524.3 2109 L1523 2119.2 L1521.4 2129.7 L1518 2141.4"/>
<path d="M1518 1833.4 L1518 1847.7 L1518 1858.2 L1518 1868.2 L1518 1878.1 L1518 1887.9 L1518 1897.6 L1518 1907.3 L1518 1917 L1518 1926.7 L1518 1936.3 L1518 1945.9 L1518 1955.4 L1518 1964.7 L1518 1973.9 L1518 1983 L1518 1991.9 L1518 2000.8 L1518 2009.5 L1518 2018.2 L1518 2026.7 L1518 2035.1 L1518 2043.4 L1518 2051.5 L1518 2059.5 L1518 2067.5 L1518 2075.5 L1518 2083.4 L1518 2091.3 L1518 2099.1 L1518 2107 L1518 2114.7 L1518 2122.4 L1518 2129.9 L1518 2136.9 L1518 2141.4"/>
<path d="M1518 1833.4 L1518 1836.8 L1518 1843.9 L1518 1851.5 L1518 1859.2 L1518 1867.1 L1518 1875 L1518 1883 L1518 1891 L1518 1898.9 L1518 1906.9 L1518 1915 L1518 1923.1 L1518 1931.5 L1518 1939.9 L1518 1948.4 L1518 1957.1 L1518 1965.9 L1518 1974.8 L1518 1983.8 L1518 1992.9 L1518 2002.2 L1518 2011.6 L1518 2021.1 L1518 2030.7 L1518 2040.3 L1518 2050 L1518 2059.7 L1518 2069.5 L1518 2079.4 L1518 2089.1 L1518 2099 L1518 2109 L1518 2119.1 L1518 2129.7 L1518 2141.4"/>
<path d="M1518 1833.4 L1512.9 1847.6 L1511.3 1858.1 L1510.1 1868.2 L1509.1 1878 L1508.2 1887.8 L1507.4 1897.5 L1506.6 1907.2 L1505.8 1916.9 L1505 1926.6 L1504.2 1936.2 L1503.5 1945.7 L1502.9 1955.2 L1502.4 1964.5 L1502.1 1973.7 L1501.8 1982.9 L1501.7 1991.8 L1501.6 2000.7 L1501.7 2009.4 L1501.8 2018.1 L1502.1 2026.6 L1502.6 2034.9 L1503.1 2043.2 L1503.8 2051.3 L1504.5 2059.4 L1505.2 2067.4 L1506 2075.4 L1506.9 2083.3 L1507.8 2091.2 L1508.8 2099 L1509.6 2106.9 L1510.6 2114.7 L1511.7 2122.3 L1513 2129.8 L1514.6 2136.9 L1518 2141.4"/>
<path d="M1518 1833.4 L1512.9 1836.8 L1511.3 1844 L1510.1 1851.6 L1509.1 1859.3 L1508.2 1867.2 L1507.4 1875.1 L1506.6 1883.1 L1505.8 1891.1 L1505 1899 L1504.2 1907 L1503.5 1915.1 L1502.9 1923.3 L1502.4 1931.6 L1502.1 1940 L1501.8 1948.6 L1501.7 1957.3 L1501.6 1966 L1501.7 1975 L1501.8 1983.9 L1502.1 1993.1 L1502.6 2002.4 L1503.1 2011.7 L1503.8 2021.2 L1504.5 2030.8 L1505.2 2040.4 L1506 2050.1 L1506.9 2059.8 L1507.8 2069.6 L1508.8 2079.4 L1509.6 2089.2 L1510.6 2099 L1511.7 2109 L1513 2119.2 L1514.6 2129.7 L1518 2141.4"/>
<path d="M1518 1833.4 L1507.9 1847.5 L1504.8 1857.9 L1502.4 1867.9 L1500.4 1877.8 L1498.7 1887.6 L1497 1897.3 L1495.4 1906.9 L1493.8 1916.5 L1492.2 1926.2 L1490.6 1935.8 L1489.3 1945.3 L1488.1 1954.8 L1487.1 1964.1 L1486.4 1973.3 L1485.8 1982.4 L1485.6 1991.3 L1485.5 2000.2 L1485.7 2009 L1486 2017.6 L1486.5 2026.2 L1487.5 2034.5 L1488.4 2042.8 L1489.8 2050.9 L1491.2 2059 L1492.7 2067.1 L1494.3 2075.1 L1496 2083 L1497.8 2090.9 L1499.7 2098.7 L1501.4 2106.6 L1503.3 2114.5 L1505.5 2122.2 L1508 2129.7 L1511.3 2136.8 L1518 2141.4"/>
<path d="M1518 1833.4 L1507.9 1837 L1504.8 1844.2 L1502.4 1851.8 L1500.4 1859.6 L1498.7 1867.5 L1497 1875.4 L1495.4 1883.4 L1493.8 1891.4 L1492.2 1899.4 L1490.6 1907.4 L1489.3 1915.5 L1488.1 1923.7 L1487.1 1932 L1486.4 1940.5 L1485.8 1949 L1485.6 1957.7 L1485.5 1966.5 L1485.7 1975.4 L1486 1984.4 L1486.5 1993.5 L1487.5 2002.8 L1488.4 2012.1 L1489.8 2021.6 L1491.2 2031.2 L1492.7 2040.8 L1494.3 2050.4 L1496 2060.1 L1497.8 2069.9 L1499.7 2079.7 L1501.4 2089.4 L1503.3 2099.2 L1505.5 2109.2 L1508 2119.3 L1511.3 2129.8 L1518 2141.4"/>
<path d="M1518 1833.4 L1503 1847.3 L1498.4 1857.6 L1495 1867.6 L1492 1877.4 L1489.4 1887.1 L1486.9 1896.8 L1484.5 1906.4 L1482.2 1916 L1479.8 1925.6 L1477.5 1935.2 L1475.6 1944.7 L1473.7 1954.1 L1472.3 1963.4 L1471.3 1972.6 L1470.4 1981.7 L1470.2 1990.6 L1469.9 1999.5 L1470.2 2008.2 L1470.6 2016.9 L1471.5 2025.4 L1472.8 2033.8 L1474.3 2042.1 L1476.3 2050.3 L1478.4 2058.4 L1480.6 2066.5 L1483 2074.5 L1485.5 2082.5 L1488.1 2090.4 L1490.9 2098.3 L1493.5 2106.3 L1496.3 2114.1 L1499.5 2121.9 L1503.2 2129.4 L1508 2136.7 L1518 2141.4"/>
<path d="M1518 1833.4 L1503 1837.2 L1498.4 1844.5 L1495 1852.1 L1492 1860 L1489.4 1867.9 L1486.9 1875.9 L1484.5 1883.9 L1482.2 1891.9 L1479.8 1900 L1477.5 1908 L1475.6 1916.2 L1473.7 1924.4 L1472.3 1932.7 L1471.3 1941.2 L1470.4 1949.7 L1470.2 1958.5 L1469.9 1967.2 L1470.2 1976.1 L1470.6 1985.1 L1471.5 1994.2 L1472.8 2003.5 L1474.3 2012.8 L1476.3 2022.3 L1478.4 2031.8 L1480.6 2041.4 L1483 2051 L1485.5 2060.6 L1488.1 2070.3 L1490.9 2080.1 L1493.5 2089.8 L1496.3 2099.6 L1499.5 2109.5 L1503.2 2119.5 L1508 2130 L1518 2141.4"/>
<path d="M1518 1833.4 L1498.4 1846.9 L1492.4 1857.2 L1487.9 1867.1 L1484.1 1876.9 L1480.6 1886.5 L1477.4 1896.1 L1474.3 1905.7 L1471.3 1915.2 L1468.1 1924.8 L1465.1 1934.4 L1462.5 1943.8 L1460.1 1953.2 L1458.3 1962.5 L1456.9 1971.6 L1455.8 1980.7 L1455.5 1989.6 L1455.2 1998.5 L1455.6 2007.2 L1456.1 2015.9 L1457.2 2024.5 L1459 2032.9 L1460.9 2041.2 L1463.5 2049.4 L1466.2 2057.6 L1469.1 2065.7 L1472.2 2073.8 L1475.5 2081.8 L1478.9 2089.8 L1482.6 2097.7 L1485.9 2105.8 L1489.7 2113.7 L1493.9 2121.5 L1498.7 2129.1 L1505 2136.5 L1518 2141.4"/>
<path d="M1518 1833.4 L1498.4 1837.5 L1492.4 1844.9 L1487.9 1852.6 L1484.1 1860.5 L1480.6 1868.5 L1477.4 1876.5 L1474.3 1884.6 L1471.3 1892.7 L1468.1 1900.8 L1465.1 1908.9 L1462.5 1917.1 L1460.1 1925.3 L1458.3 1933.7 L1456.9 1942.2 L1455.8 1950.7 L1455.5 1959.5 L1455.2 1968.2 L1455.6 1977.1 L1456.1 1986.1 L1457.2 1995.2 L1459 2004.4 L1460.9 2013.7 L1463.5 2023.1 L1466.2 2032.6 L1469.1 2042.1 L1472.2 2051.7 L1475.5 2061.3 L1478.9 2071 L1482.6 2080.7 L1485.9 2090.3 L1489.7 2100 L1493.9 2109.9 L1498.7 2119.8 L1505 2130.2 L1518 2141.4"/>
<path d="M1518 1833.4 L1494.1 1846.5 L1486.8 1856.7 L1481.4 1866.5 L1476.7 1876.2 L1472.5 1885.8 L1468.5 1895.3 L1464.7 1904.8 L1461.1 1914.3 L1457.2 1923.8 L1453.6 1933.3 L1450.5 1942.7 L1447.6 1952 L1445.3 1961.3 L1443.7 1970.4 L1442.3 1979.4 L1441.9 1988.3 L1441.6 1997.2 L1442 2006 L1442.7 2014.7 L1444 2023.2 L1446.1 2031.7 L1448.5 2040.1 L1451.6 2048.3 L1454.9 2056.5 L1458.5 2064.7 L1462.3 2072.9 L1466.2 2081 L1470.4 2089 L1474.9 2097 L1479 2105.1 L1483.5 2113.1 L1488.6 2121 L1494.5 2128.7 L1502.1 2136.2 L1518 2141.4"/>
<path d="M1518 1833.4 L1494.1 1837.9 L1486.8 1845.4 L1481.4 1853.2 L1476.7 1861.2 L1472.5 1869.3 L1468.5 1877.4 L1464.7 1885.5 L1461.1 1893.6 L1457.2 1901.8 L1453.6 1909.9 L1450.5 1918.2 L1447.6 1926.5 L1445.3 1934.9 L1443.7 1943.4 L1442.3 1952 L1441.9 1960.7 L1441.6 1969.5 L1442 1978.4 L1442.7 1987.3 L1444 1996.4 L1446.1 2005.6 L1448.5 2014.9 L1451.6 2024.2 L1454.9 2033.7 L1458.5 2043.1 L1462.3 2052.6 L1466.2 2062.2 L1470.4 2071.8 L1474.9 2081.4 L1479 2091 L1483.5 2100.6 L1488.6 2110.3 L1494.5 2120.2 L1502.1 2130.4 L1518 2141.4"/>
<path d="M1518 1833.4 L1490.3 1846.1 L1481.8 1856.1 L1475.5 1865.8 L1470 1875.4 L1465.1 1884.9 L1460.5 1894.3 L1456.1 1903.8 L1451.9 1913.2 L1447.4 1922.6 L1443.2 1932 L1439.6 1941.3 L1436.2 1950.6 L1433.6 1959.8 L1431.7 1968.9 L1430 1978 L1429.6 1986.8 L1429.2 1995.7 L1429.7 2004.5 L1430.5 2013.2 L1432.1 2021.8 L1434.5 2030.3 L1437.3 2038.7 L1440.9 2047 L1444.7 2055.3 L1448.9 2063.5 L1453.2 2071.8 L1457.9 2079.9 L1462.8 2088.1 L1467.9 2096.2 L1472.7 2104.3 L1477.9 2112.4 L1483.9 2120.4 L1490.7 2128.3 L1499.6 2135.9 L1518 2141.4"/>
<path d="M1518 1833.4 L1490.3 1838.4 L1481.8 1846 L1475.5 1853.9 L1470 1862 L1465.1 1870.1 L1460.5 1878.3 L1456.1 1886.5 L1451.9 1894.8 L1447.4 1903 L1443.2 1911.2 L1439.6 1919.5 L1436.2 1927.9 L1433.6 1936.3 L1431.7 1944.9 L1430 1953.5 L1429.6 1962.2 L1429.2 1971 L1429.7 1979.9 L1430.5 1988.8 L1432.1 1997.9 L1434.5 2007 L1437.3 2016.2 L1440.9 2025.6 L1444.7 2034.9 L1448.9 2044.3 L1453.2 2053.7 L1457.9 2063.2 L1462.8 2072.7 L1467.9 2082.2 L1472.7 2091.7 L1477.9 2101.3 L1483.9 2110.9 L1490.7 2120.7 L1499.6 2130.8 L1518 2141.4"/>
<path d="M1518 1833.4 L1486.9 1845.5 L1477.4 1855.4 L1470.3 1865 L1464.2 1874.4 L1458.7 1883.8 L1453.5 1893.2 L1448.6 1902.6 L1443.8 1911.9 L1438.8 1921.2 L1434.1 1930.6 L1430 1939.8 L1426.2 1949.1 L1423.3 1958.2 L1421.1 1967.2 L1419.3 1976.3 L1418.8 1985.1 L1418.4 1994 L1419 2002.8 L1419.8 2011.5 L1421.6 2020.1 L1424.4 2028.6 L1427.4 2037.1 L1431.5 2045.5 L1435.8 2053.9 L1440.4 2062.2 L1445.4 2070.5 L1450.5 2078.8 L1456 2087 L1461.8 2095.2 L1467.1 2103.5 L1473 2111.7 L1479.7 2119.8 L1487.4 2127.8 L1497.3 2135.5 L1518 2141.4"/>
<path d="M1518 1833.4 L1486.9 1838.9 L1477.4 1846.7 L1470.3 1854.8 L1464.2 1862.9 L1458.7 1871.2 L1453.5 1879.4 L1448.6 1887.7 L1443.8 1896 L1438.8 1904.3 L1434.1 1912.6 L1430 1921 L1426.2 1929.4 L1423.3 1938 L1421.1 1946.5 L1419.3 1955.2 L1418.8 1963.9 L1418.4 1972.7 L1419 1981.6 L1419.8 1990.5 L1421.6 1999.5 L1424.4 2008.6 L1427.4 2017.8 L1431.5 2027 L1435.8 2036.3 L1440.4 2045.6 L1445.4 2055 L1450.5 2064.4 L1456 2073.8 L1461.8 2083.2 L1467.1 2092.6 L1473 2102 L1479.7 2111.6 L1487.4 2121.2 L1497.3 2131.1 L1518 2141.4"/>
<path d="M1518 1833.4 L1484.1 1844.9 L1473.7 1854.6 L1465.9 1864 L1459.2 1873.4 L1453.3 1882.7 L1447.6 1892 L1442.2 1901.2 L1437 1910.5 L1431.6 1919.7 L1426.4 1929 L1422 1938.1 L1417.8 1947.3 L1414.6 1956.4 L1412.3 1965.4 L1410.3 1974.4 L1409.7 1983.2 L1409.2 1992.1 L1409.9 2000.9 L1410.8 2009.6 L1412.8 2018.3 L1415.8 2026.9 L1419.1 2035.4 L1423.6 2043.9 L1428.3 2052.3 L1433.3 2060.7 L1438.7 2069.1 L1444.4 2077.5 L1450.4 2085.8 L1456.7 2094.1 L1462.5 2102.5 L1468.9 2110.8 L1476.2 2119 L1484.6 2127.2 L1495.4 2135.1 L1518 2141.4"/>
<path d="M1518 1833.4 L1484.1 1839.5 L1473.7 1847.5 L1465.9 1855.7 L1459.2 1864 L1453.3 1872.3 L1447.6 1880.7 L1442.2 1889.1 L1437 1897.5 L1431.6 1905.8 L1426.4 1914.2 L1422 1922.7 L1417.8 1931.2 L1414.6 1939.8 L1412.3 1948.4 L1410.3 1957.1 L1409.7 1965.8 L1409.2 1974.6 L1409.9 1983.5 L1410.8 1992.4 L1412.8 2001.4 L1415.8 2010.4 L1419.1 2019.5 L1423.6 2028.7 L1428.3 2037.9 L1433.3 2047.1 L1438.7 2056.4 L1444.4 2065.6 L1450.4 2075 L1456.7 2084.3 L1462.5 2093.6 L1468.9 2102.9 L1476.2 2112.3 L1484.6 2121.8 L1495.4 2131.5 L1518 2141.4"/>
<path d="M1518 1833.4 L1481.8 1844.3 L1470.7 1853.8 L1462.4 1863.1 L1455.3 1872.3 L1448.9 1881.5 L1442.9 1890.7 L1437.2 1899.8 L1431.6 1908.9 L1425.8 1918.1 L1420.3 1927.2 L1415.5 1936.3 L1411.1 1945.4 L1407.7 1954.4 L1405.2 1963.4 L1403.1 1972.3 L1402.5 1981.2 L1402 1990 L1402.7 1998.8 L1403.7 2007.6 L1405.7 2016.3 L1409 2024.9 L1412.5 2033.5 L1417.3 2042.1 L1422.3 2050.6 L1427.7 2059.1 L1433.4 2067.6 L1439.4 2076.1 L1445.8 2084.5 L1452.6 2093 L1458.8 2101.4 L1465.6 2109.9 L1473.4 2118.2 L1482.4 2126.5 L1493.9 2134.7 L1518 2141.4"/>
<path d="M1518 1833.4 L1481.8 1840.1 L1470.7 1848.3 L1462.4 1856.7 L1455.3 1865.1 L1448.9 1873.5 L1442.9 1882 L1437.2 1890.5 L1431.6 1899 L1425.8 1907.5 L1420.3 1916 L1415.5 1924.5 L1411.1 1933.1 L1407.7 1941.7 L1405.2 1950.4 L1403.1 1959.1 L1402.5 1967.9 L1402 1976.7 L1402.7 1985.5 L1403.7 1994.4 L1405.7 2003.3 L1409 2012.4 L1412.5 2021.4 L1417.3 2030.5 L1422.3 2039.6 L1427.7 2048.7 L1433.4 2057.9 L1439.4 2067 L1445.8 2076.2 L1452.6 2085.4 L1458.8 2094.6 L1465.6 2103.8 L1473.4 2113.1 L1482.4 2122.4 L1493.9 2131.9 L1518 2141.4"/>
<path d="M1518 1833.4 L1480.1 1843.6 L1468.6 1852.9 L1459.9 1862 L1452.5 1871.1 L1445.8 1880.2 L1439.5 1889.3 L1433.5 1898.3 L1427.7 1907.3 L1421.6 1916.4 L1415.8 1925.4 L1410.9 1934.4 L1406.2 1943.4 L1402.7 1952.4 L1400.1 1961.3 L1397.9 1970.2 L1397.3 1979 L1396.7 1987.9 L1397.4 1996.7 L1398.5 2005.5 L1400.6 2014.2 L1404 2022.9 L1407.7 2031.6 L1412.7 2040.2 L1417.9 2048.8 L1423.5 2057.4 L1429.5 2066 L1435.9 2074.6 L1442.5 2083.2 L1449.6 2091.8 L1456.1 2100.3 L1463.2 2108.9 L1471.4 2117.4 L1480.8 2125.9 L1492.8 2134.3 L1518 2141.4"/>
<path d="M1518 1833.4 L1480.1 1840.8 L1468.6 1849.2 L1459.9 1857.7 L1452.5 1866.2 L1445.8 1874.8 L1439.5 1883.4 L1433.5 1892 L1427.7 1900.6 L1421.6 1909.2 L1415.8 1917.8 L1410.9 1926.4 L1406.2 1935.1 L1402.7 1943.8 L1400.1 1952.5 L1397.9 1961.2 L1397.3 1970 L1396.7 1978.8 L1397.4 1987.7 L1398.5 1996.5 L1400.6 2005.4 L1404 2014.4 L1407.7 2023.3 L1412.7 2032.4 L1417.9 2041.4 L1423.5 2050.4 L1429.5 2059.4 L1435.9 2068.5 L1442.5 2077.6 L1449.6 2086.7 L1456.1 2095.7 L1463.2 2104.8 L1471.4 2113.9 L1480.8 2123.1 L1492.8 2132.4 L1518 2141.4"/>
<path d="M1518 1833.4 L1479.1 1842.9 L1467.3 1852 L1458.4 1861 L1450.7 1869.9 L1443.9 1878.9 L1437.4 1887.8 L1431.3 1896.7 L1425.3 1905.7 L1419 1914.6 L1413.1 1923.5 L1408 1932.4 L1403.3 1941.4 L1399.6 1950.2 L1396.9 1959.1 L1394.7 1968 L1394.1 1976.8 L1393.5 1985.6 L1394.3 1994.4 L1395.3 2003.2 L1397.5 2012 L1401 2020.8 L1404.8 2029.5 L1409.9 2038.3 L1415.3 2047 L1421.1 2055.7 L1427.2 2064.4 L1433.7 2073.1 L1440.6 2081.8 L1447.8 2090.5 L1454.4 2099.2 L1461.8 2107.9 L1470.2 2116.5 L1479.8 2125.2 L1492.2 2133.8 L1518 2141.4"/>
<path d="M1518 1833.4 L1479.1 1841.5 L1467.3 1850.1 L1458.4 1858.8 L1450.7 1867.5 L1443.9 1876.1 L1437.4 1884.8 L1431.3 1893.6 L1425.3 1902.3 L1419 1911 L1413.1 1919.7 L1408 1928.4 L1403.3 1937.2 L1399.6 1945.9 L1396.9 1954.7 L1394.7 1963.5 L1394.1 1972.3 L1393.5 1981.1 L1394.3 1989.9 L1395.3 1998.8 L1397.5 2007.6 L1401 2016.5 L1404.8 2025.4 L1409.9 2034.3 L1415.3 2043.2 L1421.1 2052.1 L1427.2 2061.1 L1433.7 2070 L1440.6 2079 L1447.8 2087.9 L1454.4 2096.9 L1461.8 2105.8 L1470.2 2114.8 L1479.8 2123.8 L1492.2 2132.8 L1518 2141.4"/>
</g>
<defs><radialGradient id="inset-e-r" gradientUnits="userSpaceOnUse" cx="1492" cy="2010" r="120" gradientTransform="translate(1492 2010) scale(1 1.15) translate(-1492 -2010)"><stop offset="0" stop-color="#000" stop-opacity="0.55"/><stop offset="0.55" stop-color="#000" stop-opacity="0.41250000000000003"/><stop offset="1" stop-color="#000" stop-opacity="0"/></radialGradient></defs>
<path d="M1518 1833.4 L1495.4 1835.6 L1488.3 1837.8 L1483.1 1840 L1478.8 1842.2 L1475.4 1844.4 L1472.4 1846.6 L1469.5 1848.8 L1466.8 1851 L1464.4 1853.2 L1462.1 1855.5 L1460 1857.7 L1457.9 1859.9 L1455.8 1862.1 L1453.9 1864.3 L1452 1866.5 L1450.2 1868.7 L1448.4 1870.9 L1446.6 1873.1 L1444.9 1875.3 L1443.2 1877.5 L1441.6 1879.7 L1440 1881.9 L1438.4 1884.1 L1436.7 1886.3 L1435.1 1888.5 L1433.6 1890.7 L1432 1892.9 L1430.5 1895.1 L1429 1897.4 L1427.6 1899.6 L1426.1 1901.8 L1424.5 1904 L1422.9 1906.2 L1421.3 1908.4 L1419.7 1910.6 L1418.2 1912.8 L1416.7 1915 L1415.2 1917.2 L1413.7 1919.4 L1412.2 1921.6 L1410.9 1923.8 L1409.6 1926 L1408.3 1928.2 L1407.1 1930.4 L1405.9 1932.6 L1404.7 1934.8 L1403.5 1937 L1402.3 1939.3 L1401.1 1941.5 L1400.1 1943.7 L1399.3 1945.9 L1398.6 1948.1 L1397.9 1950.3 L1397.2 1952.5 L1396.6 1954.7 L1395.9 1956.9 L1395.2 1959.1 L1394.6 1961.3 L1394 1963.5 L1393.6 1965.7 L1393.4 1967.9 L1393.3 1970.1 L1393.1 1972.3 L1393 1974.5 L1392.8 1976.7 L1392.7 1978.9 L1392.5 1981.2 L1392.4 1983.4 L1392.4 1985.6 L1392.7 1987.8 L1392.9 1990 L1393.2 1992.2 L1393.5 1994.4 L1393.7 1996.6 L1394 1998.8 L1394.3 2001 L1394.5 2003.2 L1394.9 2005.4 L1395.6 2007.6 L1396.5 2009.8 L1397.3 2012 L1398.2 2014.2 L1399.1 2016.4 L1400 2018.6 L1400.9 2020.8 L1401.8 2023.1 L1402.7 2025.3 L1403.8 2027.5 L1405.1 2029.7 L1406.3 2031.9 L1407.6 2034.1 L1409 2036.3 L1410.3 2038.5 L1411.6 2040.7 L1413 2042.9 L1414.4 2045.1 L1415.8 2047.3 L1417.3 2049.5 L1418.7 2051.7 L1420.2 2053.9 L1421.7 2056.1 L1423.3 2058.3 L1424.8 2060.5 L1426.4 2062.7 L1428 2065 L1429.7 2067.2 L1431.3 2069.4 L1433 2071.6 L1434.6 2073.8 L1436.4 2076 L1438.1 2078.2 L1439.9 2080.4 L1441.7 2082.6 L1443.6 2084.8 L1445.5 2087 L1447.2 2089.2 L1448.8 2091.4 L1450.5 2093.6 L1452.2 2095.8 L1453.9 2098 L1455.7 2100.2 L1457.5 2102.4 L1459.4 2104.6 L1461.3 2106.9 L1463.3 2109.1 L1465.4 2111.3 L1467.5 2113.5 L1469.8 2115.7 L1472.1 2117.9 L1474.5 2120.1 L1476.9 2122.3 L1479.5 2124.5 L1482.2 2126.7 L1485.2 2128.9 L1488.4 2131.1 L1492 2133.3 L1496.1 2135.5 L1500.9 2137.7 L1507.2 2139.9 L1518 2141.4 L1518 2141.4 L1531.3 2139.2 L1536.9 2137 L1541.3 2134.8 L1545.3 2132.6 L1548.7 2130.4 L1551.8 2128.2 L1554.7 2126 L1557.4 2123.8 L1559.9 2121.6 L1562.3 2119.3 L1564.7 2117.1 L1567 2114.9 L1569.2 2112.7 L1571.3 2110.5 L1573.4 2108.3 L1575.3 2106.1 L1577.3 2103.9 L1579.1 2101.7 L1580.9 2099.5 L1582.7 2097.3 L1584.4 2095.1 L1586.1 2092.9 L1587.7 2090.7 L1589.4 2088.5 L1591.1 2086.3 L1593 2084.1 L1594.9 2081.9 L1596.7 2079.7 L1598.5 2077.4 L1600.2 2075.2 L1601.9 2073 L1603.6 2070.8 L1605.2 2068.6 L1606.9 2066.4 L1608.5 2064.2 L1610.1 2062 L1611.7 2059.8 L1613.2 2057.6 L1614.8 2055.4 L1616.3 2053.2 L1617.8 2051 L1619.2 2048.8 L1620.7 2046.6 L1622.1 2044.4 L1623.5 2042.2 L1624.8 2040 L1626.2 2037.8 L1627.5 2035.5 L1628.8 2033.3 L1630.1 2031.1 L1631.4 2028.9 L1632.6 2026.7 L1633.6 2024.5 L1634.5 2022.3 L1635.4 2020.1 L1636.3 2017.9 L1637.2 2015.7 L1638.1 2013.5 L1638.9 2011.3 L1639.8 2009.1 L1640.6 2006.9 L1641.2 2004.7 L1641.6 2002.5 L1641.8 2000.3 L1642.1 1998.1 L1642.4 1995.9 L1642.6 1993.6 L1642.9 1991.4 L1643.2 1989.2 L1643.4 1987 L1643.6 1984.8 L1643.6 1982.6 L1643.4 1980.4 L1643.3 1978.2 L1643.1 1976 L1643 1973.8 L1642.8 1971.6 L1642.7 1969.4 L1642.5 1967.2 L1642.3 1965 L1641.8 1962.8 L1641.2 1960.6 L1640.5 1958.4 L1639.9 1956.2 L1639.2 1954 L1638.5 1951.7 L1637.9 1949.5 L1637.2 1947.3 L1636.5 1945.1 L1635.6 1942.9 L1634.5 1940.7 L1633.3 1938.5 L1632.1 1936.3 L1630.9 1934.1 L1629.7 1931.9 L1628.5 1929.7 L1627.3 1927.5 L1626 1925.3 L1624.7 1923.1 L1623.3 1920.9 L1621.8 1918.7 L1620.3 1916.5 L1618.8 1914.3 L1617.3 1912.1 L1615.7 1909.8 L1614.2 1907.6 L1612.6 1905.4 L1611 1903.2 L1609.4 1901 L1608 1898.8 L1606.5 1896.6 L1605 1894.4 L1603.5 1892.2 L1601.9 1890 L1600.3 1887.8 L1598.7 1885.6 L1597.1 1883.4 L1595.5 1881.2 L1593.8 1879 L1592.2 1876.8 L1590.5 1874.6 L1588.8 1872.4 L1587 1870.2 L1585.2 1867.9 L1583.4 1865.7 L1581.5 1863.5 L1579.5 1861.3 L1577.5 1859.1 L1575.3 1856.9 L1573.1 1854.7 L1570.8 1852.5 L1568.3 1850.3 L1565.6 1848.1 L1562.6 1845.9 L1559.5 1843.7 L1555.9 1841.5 L1551.3 1839.3 L1545.5 1837.1 L1537.6 1834.9 Z" fill="url(#inset-e-r)"/>
</g>
<g id="specks">
<rect x="1438.2" y="491.1" width="4" height="2.6" fill="#d8d8d8"/>
<rect x="1453.7" y="486.7" width="6" height="2.6" fill="#cfcfcf"/>
<rect x="1476.8" y="489.4" width="6" height="2.6" fill="#e0e0e0"/>
<rect x="1441.2" y="495.1" width="9" height="2.6" fill="#e6e6e6"/>
<rect x="1449" y="499.9" width="11" height="2.6" fill="#bdbdbd"/>
<rect x="1555.9" y="510.9" width="6" height="2.6" fill="#f0f0f0"/>
<rect x="1441.4" y="527.4" width="13" height="2.6" fill="#f2f2f2"/>
<rect x="1604.7" y="530.7" width="3" height="2.6" fill="#d0d0d0"/>
<rect x="1550.5" y="587.4" width="8" height="2.6" fill="#e8e8e8"/>
<rect x="1571.8" y="590" width="5" height="2.6" fill="#c8c8c8"/>
<rect x="1560" y="485.2" width="12" height="2.6" fill="#cfe8cf"/>
<rect x="1564" y="489.2" width="16" height="2.6" fill="#9fd8a8"/>
<rect x="1443.5" y="1918.2" width="3.5" height="2.6" fill="#d0d0d0"/>
<rect x="1449.7" y="1923.4" width="3.5" height="2.6" fill="#b8b8b8"/>
<rect x="1438.3" y="1931.6" width="3.5" height="2.6" fill="#c0c0c0"/>
<rect x="1460.2" y="1928.9" width="5" height="2.6" fill="#b0b0b0"/>
<rect x="1457.7" y="1937.2" width="6" height="2.6" fill="#f0e070"/>
<rect x="1433.4" y="1937.2" width="5" height="2.6" fill="#9a9a9a"/>
<rect x="1429.8" y="1945.4" width="6" height="2.6" fill="#f4f4f4"/>
<rect x="1439.2" y="1961.9" width="8" height="2.6" fill="#a8a8a8"/>
<rect x="1436.1" y="1970.2" width="8" height="2.6" fill="#e0d890"/>
<rect x="1482.4" y="1978" width="11" height="2.6" fill="#f0f0d0"/>
<rect x="1536.5" y="1996.9" width="7" height="2.6" fill="#808080"/>
<rect x="1534.5" y="2029.9" width="11" height="2.6" fill="#e8e8e8"/>
<rect x="1550.9" y="2038.2" width="3" height="2.6" fill="#c8b020"/>
<rect x="1550.9" y="2043.3" width="3" height="2.6" fill="#c8b020"/>
<rect x="1534.1" y="2052" width="9" height="2.6" fill="#e8d840"/>
<rect x="1558.7" y="2057.1" width="8" height="2.6" fill="#f0f0f0"/>
<rect x="1561" y="1925.2" width="18" height="2.6" fill="#b8d8b8"/>
<rect x="1564" y="1935.7" width="22" height="2.6" fill="#d8ead8"/>
</g>
<g id="inset-f">
<rect x="686.5" y="1126.8" width="1106.5" height="557.5" fill="#ffff78" stroke="#000" stroke-width="2.6"/>
<path d="M917.8 1138.6 H1766" fill="none" stroke="#000" stroke-width="4.2"/>
<path d="M917.8 1560.6 H1766" fill="none" stroke="#000" stroke-width="5.4"/>
<path d="M919.3 1136.5 V1563.3" fill="none" stroke="#000" stroke-width="3"/>
<path d="M1763.6 1136.5 V1563.3" fill="none" stroke="#000" stroke-width="4.8"/>
<g stroke="#000" fill="none">
<line x1="896.6" y1="1184.5" x2="919" y2="1184.5" stroke-width="3.2"/>
<line x1="896.6" y1="1241.3" x2="919" y2="1241.3" stroke-width="3.2"/>
<line x1="896.6" y1="1298.6" x2="919" y2="1298.6" stroke-width="3.2"/>
<line x1="896.6" y1="1355.5" x2="919" y2="1355.5" stroke-width="3.2"/>
<line x1="896.6" y1="1418.5" x2="919" y2="1418.5" stroke-width="3.2"/>
<line x1="896.6" y1="1475.8" x2="919" y2="1475.8" stroke-width="3.2"/>
<line x1="896.6" y1="1531.9" x2="919" y2="1531.9" stroke-width="3.2"/>
<line x1="907" y1="1150.2" x2="919" y2="1150.2" stroke-width="4.4"/>
<line x1="907" y1="1161.7" x2="919" y2="1161.7" stroke-width="4.4"/>
<line x1="907" y1="1173.1" x2="919" y2="1173.1" stroke-width="4.4"/>
<line x1="907" y1="1195.9" x2="919" y2="1195.9" stroke-width="4.4"/>
<line x1="907" y1="1207.3" x2="919" y2="1207.3" stroke-width="4.4"/>
<line x1="907" y1="1218.8" x2="919" y2="1218.8" stroke-width="4.4"/>
<line x1="907" y1="1230.2" x2="919" y2="1230.2" stroke-width="4.4"/>
<line x1="907" y1="1253" x2="919" y2="1253" stroke-width="4.4"/>
<line x1="907" y1="1264.4" x2="919" y2="1264.4" stroke-width="4.4"/>
<line x1="907" y1="1275.9" x2="919" y2="1275.9" stroke-width="4.4"/>
<line x1="907" y1="1287.3" x2="919" y2="1287.3" stroke-width="4.4"/>
<line x1="907" y1="1310.1" x2="919" y2="1310.1" stroke-width="4.4"/>
<line x1="907" y1="1321.5" x2="919" y2="1321.5" stroke-width="4.4"/>
<line x1="907" y1="1333" x2="919" y2="1333" stroke-width="4.4"/>
<line x1="907" y1="1344.4" x2="919" y2="1344.4" stroke-width="4.4"/>
<line x1="907" y1="1384.2" x2="919" y2="1384.2" stroke-width="4.4"/>
<line x1="907" y1="1395.7" x2="919" y2="1395.7" stroke-width="4.4"/>
<line x1="907" y1="1407.1" x2="919" y2="1407.1" stroke-width="4.4"/>
<line x1="907" y1="1429.9" x2="919" y2="1429.9" stroke-width="4.4"/>
<line x1="907" y1="1441.3" x2="919" y2="1441.3" stroke-width="4.4"/>
<line x1="907" y1="1452.8" x2="919" y2="1452.8" stroke-width="4.4"/>
<line x1="907" y1="1464.2" x2="919" y2="1464.2" stroke-width="4.4"/>
<line x1="907" y1="1487" x2="919" y2="1487" stroke-width="4.4"/>
<line x1="907" y1="1498.4" x2="919" y2="1498.4" stroke-width="4.4"/>
<line x1="907" y1="1509.9" x2="919" y2="1509.9" stroke-width="4.4"/>
<line x1="907" y1="1521.3" x2="919" y2="1521.3" stroke-width="4.4"/>
<line x1="907" y1="1544.1" x2="919" y2="1544.1" stroke-width="4.4"/>
<line x1="907" y1="1555.5" x2="919" y2="1555.5" stroke-width="4.4"/>
<path d="M896.3 1368.3 L944.3 1360.3 M896.3 1375.3 L944.3 1367.3" stroke-width="3.6"/>
<path d="M1741.1 1368.3 L1789.1 1360.3 M1741.1 1375.3 L1789.1 1367.3" stroke-width="3.6"/>
<line x1="989.4" y1="1561" x2="989.4" y2="1585.5" stroke-width="3.6"/>
<line x1="1692.6" y1="1561" x2="1692.6" y2="1585.5" stroke-width="4.6"/>
</g>
<g font-size="52" fill="#000" text-anchor="end">
<text x="877" y="1200.3">9.54</text>
<text x="877" y="1257.1">9.48</text>
<text x="877" y="1314.4">9.42</text>
<text x="877" y="1371.3">9.36</text>
<text x="877" y="1434.3">6.90</text>
<text x="877" y="1491.6">6.84</text>
<text x="877" y="1547.7">6.78</text>
</g>
<text transform="translate(748.3 1348) rotate(-90)" font-size="58" text-anchor="middle" fill="#000">Length(Å)</text>
<text x="991.5" y="1620.5" font-size="47" font-weight="bold" font-style="italic" text-anchor="middle" fill="#000">a-axis</text>
<text x="1694.5" y="1621" font-size="47" font-weight="bold" font-style="italic" text-anchor="middle" fill="#000">c-axis</text>
<text x="1342" y="1666.5" font-size="59" text-anchor="middle" fill="#000">HAp lattice parameter</text>
<polygon points="988.5,1149 964.1,1163.2 964.1,1191.8 988.5,1206 1012.9,1191.8 1012.9,1163.2" fill="#0000ff"/>
<polygon points="990.2,1271.8 967.9,1284.8 967.9,1310.8 990.2,1323.8 1012.5,1310.8 1012.5,1284.8" fill="#fff" stroke="#990000" stroke-width="5"/>
<polygon points="1692.8,1405.7 1670.5,1418.7 1670.5,1444.7 1692.8,1457.7 1715.1,1444.7 1715.1,1418.7" fill="#fff" stroke="#990000" stroke-width="5"/>
<polygon points="1692.8,1488.5 1668.4,1502.8 1668.4,1531.2 1692.8,1545.5 1717.2,1531.2 1717.2,1502.8" fill="#0000ff"/>
<rect x="1316.6" y="1147.4" width="434.8" height="155.3" fill="#fff"/>
<path d="M1316.6 1302.7 H1751.4 V1147.4" fill="none" stroke="#707070" stroke-width="1.6"/>
<polygon points="1390.8,1162.6 1368.5,1175.6 1368.5,1201.6 1390.8,1214.6 1413.1,1201.6 1413.1,1175.6" fill="#fff" stroke="#990000" stroke-width="5"/>
<polygon points="1390,1232.2 1365.6,1246.5 1365.6,1275 1390,1289.2 1414.4,1275 1414.4,1246.5" fill="#0000ff"/>
<text x="1474" y="1208.3" font-size="59" fill="#990000">HAp-NIST</text>
<text x="1473" y="1280.5" font-size="59" fill="#0000ff">10MgHAp</text>
</g>
<rect x="696.8" y="1556.6" width="116.6" height="115.4" fill="#c0c0c0"/>
<path d="M696.8 1557.8 H813.4 M696.8 1670.8 H813.4 M812.2 1556.6 V1672" stroke="#000" stroke-width="2.4" fill="none"/>
<text x="756.8" y="1645" font-size="78.5" text-anchor="middle" fill="#000">(f)</text>
</svg>
</body>
</html>
